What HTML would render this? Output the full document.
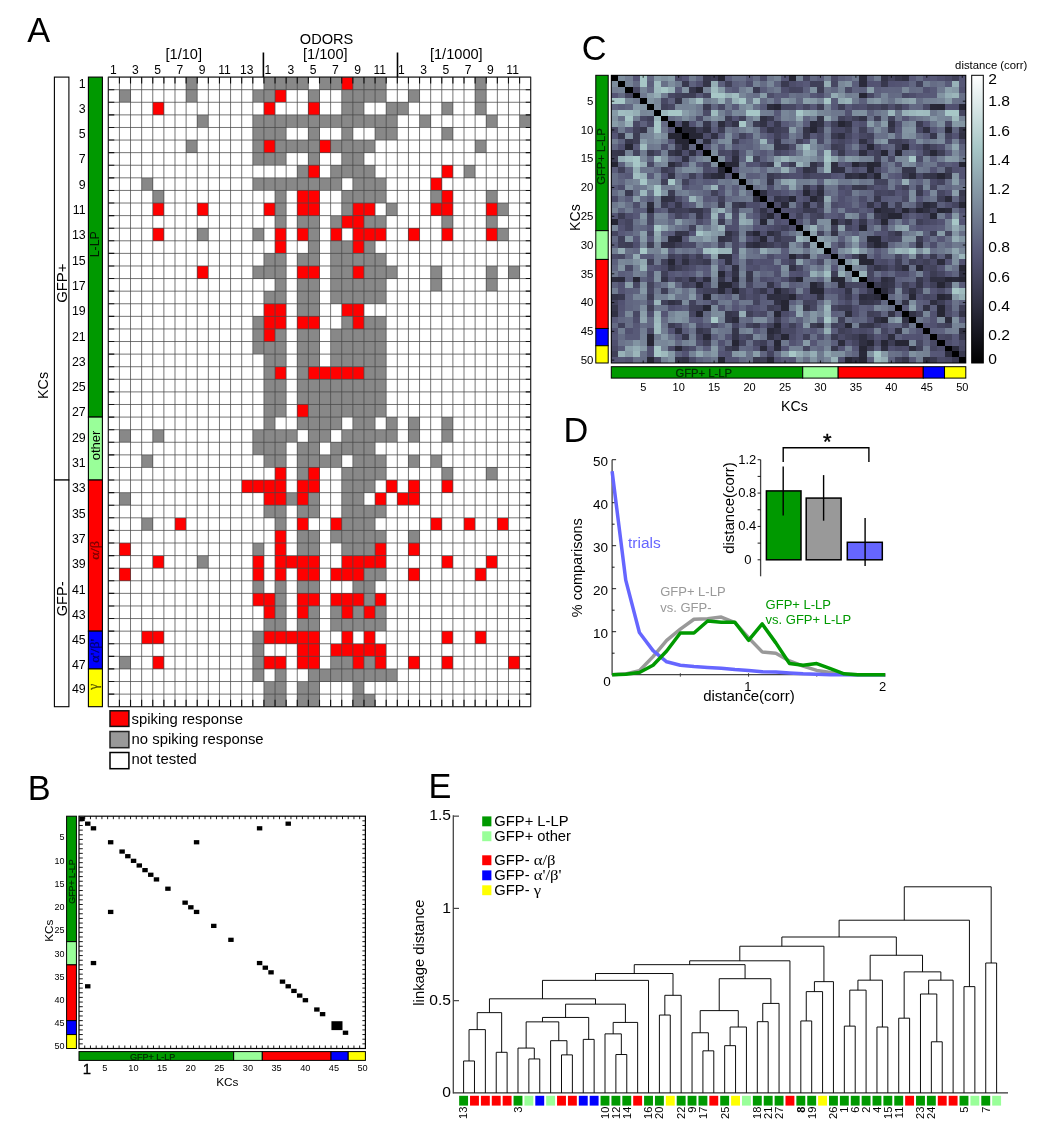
<!DOCTYPE html>
<html lang="en"><head><meta charset="utf-8"><title>KC odor responses figure</title>
<style>html,body{margin:0;padding:0;background:#fff}body{width:1050px;height:1144px;overflow:hidden;font-family:"Liberation Sans",Arial,sans-serif}</style></head>
<body>
<svg width="1050" height="1144" viewBox="0 0 1050 1144" font-family="Liberation Sans, Arial, sans-serif" style="display:block">
<g id="panelA">
<g shape-rendering="crispEdges">
<rect x="186.11" y="77.10" width="11.12" height="12.59" fill="#888888"/>
<rect x="263.92" y="77.10" width="44.46" height="12.59" fill="#888888"/>
<rect x="319.50" y="77.10" width="22.23" height="12.59" fill="#888888"/>
<rect x="341.73" y="77.10" width="11.12" height="12.59" fill="#ff0000"/>
<rect x="352.85" y="77.10" width="33.35" height="12.59" fill="#888888"/>
<rect x="475.12" y="77.10" width="11.12" height="12.59" fill="#888888"/>
<rect x="119.42" y="89.69" width="11.12" height="12.59" fill="#888888"/>
<rect x="186.11" y="89.69" width="11.12" height="12.59" fill="#888888"/>
<rect x="252.81" y="89.69" width="22.23" height="12.59" fill="#888888"/>
<rect x="275.04" y="89.69" width="11.12" height="12.59" fill="#ff0000"/>
<rect x="308.38" y="89.69" width="11.12" height="12.59" fill="#888888"/>
<rect x="341.73" y="89.69" width="44.46" height="12.59" fill="#888888"/>
<rect x="408.43" y="89.69" width="11.12" height="12.59" fill="#888888"/>
<rect x="475.12" y="89.69" width="11.12" height="12.59" fill="#888888"/>
<rect x="152.76" y="102.28" width="11.12" height="12.59" fill="#ff0000"/>
<rect x="263.92" y="102.28" width="11.12" height="12.59" fill="#ff0000"/>
<rect x="308.38" y="102.28" width="11.12" height="12.59" fill="#ff0000"/>
<rect x="341.73" y="102.28" width="22.23" height="12.59" fill="#888888"/>
<rect x="386.19" y="102.28" width="22.23" height="12.59" fill="#888888"/>
<rect x="441.77" y="102.28" width="11.12" height="12.59" fill="#888888"/>
<rect x="475.12" y="102.28" width="11.12" height="12.59" fill="#888888"/>
<rect x="197.23" y="114.88" width="11.12" height="12.59" fill="#888888"/>
<rect x="252.81" y="114.88" width="144.51" height="12.59" fill="#888888"/>
<rect x="419.54" y="114.88" width="11.12" height="12.59" fill="#888888"/>
<rect x="486.24" y="114.88" width="11.12" height="12.59" fill="#888888"/>
<rect x="519.58" y="114.88" width="11.12" height="12.59" fill="#888888"/>
<rect x="252.81" y="127.47" width="33.35" height="12.59" fill="#888888"/>
<rect x="308.38" y="127.47" width="11.12" height="12.59" fill="#888888"/>
<rect x="341.73" y="127.47" width="11.12" height="12.59" fill="#888888"/>
<rect x="375.08" y="127.47" width="22.23" height="12.59" fill="#888888"/>
<rect x="441.77" y="127.47" width="11.12" height="12.59" fill="#888888"/>
<rect x="186.11" y="140.06" width="11.12" height="12.59" fill="#888888"/>
<rect x="252.81" y="140.06" width="11.12" height="12.59" fill="#888888"/>
<rect x="263.92" y="140.06" width="11.12" height="12.59" fill="#ff0000"/>
<rect x="275.04" y="140.06" width="44.46" height="12.59" fill="#888888"/>
<rect x="319.50" y="140.06" width="11.12" height="12.59" fill="#ff0000"/>
<rect x="330.62" y="140.06" width="44.46" height="12.59" fill="#888888"/>
<rect x="475.12" y="140.06" width="11.12" height="12.59" fill="#888888"/>
<rect x="252.81" y="152.65" width="33.35" height="12.59" fill="#888888"/>
<rect x="308.38" y="152.65" width="11.12" height="12.59" fill="#888888"/>
<rect x="341.73" y="152.65" width="22.23" height="12.59" fill="#888888"/>
<rect x="297.27" y="165.24" width="11.12" height="12.59" fill="#888888"/>
<rect x="308.38" y="165.24" width="11.12" height="12.59" fill="#ff0000"/>
<rect x="330.62" y="165.24" width="44.46" height="12.59" fill="#888888"/>
<rect x="441.77" y="165.24" width="11.12" height="12.59" fill="#ff0000"/>
<rect x="464.01" y="165.24" width="11.12" height="12.59" fill="#888888"/>
<rect x="141.65" y="177.84" width="11.12" height="12.59" fill="#888888"/>
<rect x="252.81" y="177.84" width="88.93" height="12.59" fill="#888888"/>
<rect x="352.85" y="177.84" width="33.35" height="12.59" fill="#888888"/>
<rect x="430.66" y="177.84" width="11.12" height="12.59" fill="#ff0000"/>
<rect x="152.76" y="190.43" width="11.12" height="12.59" fill="#888888"/>
<rect x="275.04" y="190.43" width="11.12" height="12.59" fill="#888888"/>
<rect x="297.27" y="190.43" width="22.23" height="12.59" fill="#ff0000"/>
<rect x="341.73" y="190.43" width="44.46" height="12.59" fill="#888888"/>
<rect x="430.66" y="190.43" width="11.12" height="12.59" fill="#888888"/>
<rect x="441.77" y="190.43" width="11.12" height="12.59" fill="#ff0000"/>
<rect x="486.24" y="190.43" width="11.12" height="12.59" fill="#888888"/>
<rect x="152.76" y="203.02" width="11.12" height="12.59" fill="#ff0000"/>
<rect x="197.23" y="203.02" width="11.12" height="12.59" fill="#ff0000"/>
<rect x="263.92" y="203.02" width="11.12" height="12.59" fill="#ff0000"/>
<rect x="275.04" y="203.02" width="11.12" height="12.59" fill="#888888"/>
<rect x="297.27" y="203.02" width="22.23" height="12.59" fill="#ff0000"/>
<rect x="341.73" y="203.02" width="11.12" height="12.59" fill="#888888"/>
<rect x="352.85" y="203.02" width="22.23" height="12.59" fill="#ff0000"/>
<rect x="386.19" y="203.02" width="11.12" height="12.59" fill="#888888"/>
<rect x="430.66" y="203.02" width="22.23" height="12.59" fill="#ff0000"/>
<rect x="486.24" y="203.02" width="11.12" height="12.59" fill="#ff0000"/>
<rect x="497.35" y="203.02" width="11.12" height="12.59" fill="#888888"/>
<rect x="275.04" y="215.61" width="11.12" height="12.59" fill="#888888"/>
<rect x="297.27" y="215.61" width="22.23" height="12.59" fill="#888888"/>
<rect x="330.62" y="215.61" width="11.12" height="12.59" fill="#888888"/>
<rect x="341.73" y="215.61" width="22.23" height="12.59" fill="#ff0000"/>
<rect x="363.96" y="215.61" width="22.23" height="12.59" fill="#888888"/>
<rect x="441.77" y="215.61" width="11.12" height="12.59" fill="#888888"/>
<rect x="486.24" y="215.61" width="11.12" height="12.59" fill="#888888"/>
<rect x="152.76" y="228.20" width="11.12" height="12.59" fill="#ff0000"/>
<rect x="197.23" y="228.20" width="11.12" height="12.59" fill="#888888"/>
<rect x="252.81" y="228.20" width="11.12" height="12.59" fill="#888888"/>
<rect x="275.04" y="228.20" width="11.12" height="12.59" fill="#ff0000"/>
<rect x="297.27" y="228.20" width="11.12" height="12.59" fill="#ff0000"/>
<rect x="308.38" y="228.20" width="11.12" height="12.59" fill="#888888"/>
<rect x="330.62" y="228.20" width="11.12" height="12.59" fill="#ff0000"/>
<rect x="352.85" y="228.20" width="33.35" height="12.59" fill="#ff0000"/>
<rect x="408.43" y="228.20" width="11.12" height="12.59" fill="#ff0000"/>
<rect x="441.77" y="228.20" width="11.12" height="12.59" fill="#ff0000"/>
<rect x="486.24" y="228.20" width="11.12" height="12.59" fill="#ff0000"/>
<rect x="497.35" y="228.20" width="11.12" height="12.59" fill="#888888"/>
<rect x="275.04" y="240.80" width="11.12" height="12.59" fill="#ff0000"/>
<rect x="308.38" y="240.80" width="11.12" height="12.59" fill="#888888"/>
<rect x="330.62" y="240.80" width="22.23" height="12.59" fill="#888888"/>
<rect x="352.85" y="240.80" width="11.12" height="12.59" fill="#ff0000"/>
<rect x="363.96" y="240.80" width="11.12" height="12.59" fill="#888888"/>
<rect x="263.92" y="253.39" width="22.23" height="12.59" fill="#888888"/>
<rect x="297.27" y="253.39" width="22.23" height="12.59" fill="#888888"/>
<rect x="330.62" y="253.39" width="55.58" height="12.59" fill="#888888"/>
<rect x="197.23" y="265.98" width="11.12" height="12.59" fill="#ff0000"/>
<rect x="252.81" y="265.98" width="33.35" height="12.59" fill="#888888"/>
<rect x="297.27" y="265.98" width="22.23" height="12.59" fill="#ff0000"/>
<rect x="330.62" y="265.98" width="22.23" height="12.59" fill="#888888"/>
<rect x="352.85" y="265.98" width="11.12" height="12.59" fill="#ff0000"/>
<rect x="363.96" y="265.98" width="33.35" height="12.59" fill="#888888"/>
<rect x="430.66" y="265.98" width="11.12" height="12.59" fill="#888888"/>
<rect x="486.24" y="265.98" width="11.12" height="12.59" fill="#888888"/>
<rect x="508.47" y="265.98" width="11.12" height="12.59" fill="#888888"/>
<rect x="275.04" y="278.57" width="11.12" height="12.59" fill="#888888"/>
<rect x="297.27" y="278.57" width="22.23" height="12.59" fill="#888888"/>
<rect x="330.62" y="278.57" width="55.58" height="12.59" fill="#888888"/>
<rect x="430.66" y="278.57" width="11.12" height="12.59" fill="#888888"/>
<rect x="486.24" y="278.57" width="11.12" height="12.59" fill="#888888"/>
<rect x="263.92" y="291.16" width="22.23" height="12.59" fill="#888888"/>
<rect x="297.27" y="291.16" width="22.23" height="12.59" fill="#888888"/>
<rect x="330.62" y="291.16" width="55.58" height="12.59" fill="#888888"/>
<rect x="263.92" y="303.76" width="22.23" height="12.59" fill="#ff0000"/>
<rect x="297.27" y="303.76" width="22.23" height="12.59" fill="#888888"/>
<rect x="341.73" y="303.76" width="22.23" height="12.59" fill="#ff0000"/>
<rect x="252.81" y="316.35" width="11.12" height="12.59" fill="#888888"/>
<rect x="263.92" y="316.35" width="22.23" height="12.59" fill="#ff0000"/>
<rect x="297.27" y="316.35" width="22.23" height="12.59" fill="#ff0000"/>
<rect x="341.73" y="316.35" width="11.12" height="12.59" fill="#888888"/>
<rect x="352.85" y="316.35" width="11.12" height="12.59" fill="#ff0000"/>
<rect x="363.96" y="316.35" width="22.23" height="12.59" fill="#888888"/>
<rect x="252.81" y="328.94" width="11.12" height="12.59" fill="#888888"/>
<rect x="263.92" y="328.94" width="11.12" height="12.59" fill="#ff0000"/>
<rect x="275.04" y="328.94" width="11.12" height="12.59" fill="#888888"/>
<rect x="297.27" y="328.94" width="22.23" height="12.59" fill="#888888"/>
<rect x="330.62" y="328.94" width="55.58" height="12.59" fill="#888888"/>
<rect x="252.81" y="341.53" width="33.35" height="12.59" fill="#888888"/>
<rect x="297.27" y="341.53" width="22.23" height="12.59" fill="#888888"/>
<rect x="330.62" y="341.53" width="55.58" height="12.59" fill="#888888"/>
<rect x="263.92" y="354.12" width="22.23" height="12.59" fill="#888888"/>
<rect x="297.27" y="354.12" width="22.23" height="12.59" fill="#888888"/>
<rect x="330.62" y="354.12" width="55.58" height="12.59" fill="#888888"/>
<rect x="263.92" y="366.72" width="11.12" height="12.59" fill="#888888"/>
<rect x="275.04" y="366.72" width="11.12" height="12.59" fill="#ff0000"/>
<rect x="297.27" y="366.72" width="11.12" height="12.59" fill="#888888"/>
<rect x="308.38" y="366.72" width="11.12" height="12.59" fill="#ff0000"/>
<rect x="319.50" y="366.72" width="44.46" height="12.59" fill="#ff0000"/>
<rect x="363.96" y="366.72" width="22.23" height="12.59" fill="#888888"/>
<rect x="263.92" y="379.31" width="22.23" height="12.59" fill="#888888"/>
<rect x="297.27" y="379.31" width="88.93" height="12.59" fill="#888888"/>
<rect x="263.92" y="391.90" width="22.23" height="12.59" fill="#888888"/>
<rect x="297.27" y="391.90" width="88.93" height="12.59" fill="#888888"/>
<rect x="263.92" y="404.49" width="22.23" height="12.59" fill="#888888"/>
<rect x="297.27" y="404.49" width="11.12" height="12.59" fill="#ff0000"/>
<rect x="308.38" y="404.49" width="77.81" height="12.59" fill="#888888"/>
<rect x="263.92" y="417.08" width="11.12" height="12.59" fill="#888888"/>
<rect x="297.27" y="417.08" width="44.46" height="12.59" fill="#888888"/>
<rect x="352.85" y="417.08" width="22.23" height="12.59" fill="#888888"/>
<rect x="386.19" y="417.08" width="11.12" height="12.59" fill="#888888"/>
<rect x="408.43" y="417.08" width="11.12" height="12.59" fill="#888888"/>
<rect x="441.77" y="417.08" width="11.12" height="12.59" fill="#888888"/>
<rect x="119.42" y="429.68" width="11.12" height="12.59" fill="#888888"/>
<rect x="152.76" y="429.68" width="11.12" height="12.59" fill="#888888"/>
<rect x="252.81" y="429.68" width="44.46" height="12.59" fill="#888888"/>
<rect x="308.38" y="429.68" width="22.23" height="12.59" fill="#888888"/>
<rect x="341.73" y="429.68" width="55.58" height="12.59" fill="#888888"/>
<rect x="408.43" y="429.68" width="11.12" height="12.59" fill="#888888"/>
<rect x="441.77" y="429.68" width="11.12" height="12.59" fill="#888888"/>
<rect x="252.81" y="442.27" width="33.35" height="12.59" fill="#888888"/>
<rect x="297.27" y="442.27" width="22.23" height="12.59" fill="#888888"/>
<rect x="330.62" y="442.27" width="44.46" height="12.59" fill="#888888"/>
<rect x="141.65" y="454.86" width="11.12" height="12.59" fill="#888888"/>
<rect x="263.92" y="454.86" width="22.23" height="12.59" fill="#888888"/>
<rect x="297.27" y="454.86" width="44.46" height="12.59" fill="#888888"/>
<rect x="352.85" y="454.86" width="33.35" height="12.59" fill="#888888"/>
<rect x="408.43" y="454.86" width="11.12" height="12.59" fill="#888888"/>
<rect x="430.66" y="454.86" width="11.12" height="12.59" fill="#888888"/>
<rect x="275.04" y="467.45" width="11.12" height="12.59" fill="#ff0000"/>
<rect x="297.27" y="467.45" width="11.12" height="12.59" fill="#888888"/>
<rect x="308.38" y="467.45" width="11.12" height="12.59" fill="#ff0000"/>
<rect x="341.73" y="467.45" width="44.46" height="12.59" fill="#888888"/>
<rect x="441.77" y="467.45" width="11.12" height="12.59" fill="#888888"/>
<rect x="486.24" y="467.45" width="11.12" height="12.59" fill="#888888"/>
<rect x="241.69" y="480.04" width="44.46" height="12.59" fill="#ff0000"/>
<rect x="297.27" y="480.04" width="22.23" height="12.59" fill="#ff0000"/>
<rect x="341.73" y="480.04" width="33.35" height="12.59" fill="#888888"/>
<rect x="386.19" y="480.04" width="11.12" height="12.59" fill="#ff0000"/>
<rect x="408.43" y="480.04" width="11.12" height="12.59" fill="#ff0000"/>
<rect x="441.77" y="480.04" width="11.12" height="12.59" fill="#ff0000"/>
<rect x="119.42" y="492.64" width="11.12" height="12.59" fill="#888888"/>
<rect x="263.92" y="492.64" width="22.23" height="12.59" fill="#ff0000"/>
<rect x="286.15" y="492.64" width="11.12" height="12.59" fill="#888888"/>
<rect x="297.27" y="492.64" width="11.12" height="12.59" fill="#ff0000"/>
<rect x="308.38" y="492.64" width="11.12" height="12.59" fill="#888888"/>
<rect x="341.73" y="492.64" width="22.23" height="12.59" fill="#888888"/>
<rect x="375.08" y="492.64" width="11.12" height="12.59" fill="#ff0000"/>
<rect x="397.31" y="492.64" width="22.23" height="12.59" fill="#ff0000"/>
<rect x="263.92" y="505.23" width="22.23" height="12.59" fill="#888888"/>
<rect x="297.27" y="505.23" width="22.23" height="12.59" fill="#888888"/>
<rect x="341.73" y="505.23" width="44.46" height="12.59" fill="#888888"/>
<rect x="141.65" y="517.82" width="11.12" height="12.59" fill="#888888"/>
<rect x="174.99" y="517.82" width="11.12" height="12.59" fill="#ff0000"/>
<rect x="275.04" y="517.82" width="11.12" height="12.59" fill="#888888"/>
<rect x="297.27" y="517.82" width="11.12" height="12.59" fill="#ff0000"/>
<rect x="330.62" y="517.82" width="11.12" height="12.59" fill="#ff0000"/>
<rect x="341.73" y="517.82" width="33.35" height="12.59" fill="#888888"/>
<rect x="430.66" y="517.82" width="11.12" height="12.59" fill="#ff0000"/>
<rect x="464.01" y="517.82" width="11.12" height="12.59" fill="#ff0000"/>
<rect x="497.35" y="517.82" width="11.12" height="12.59" fill="#ff0000"/>
<rect x="275.04" y="530.41" width="11.12" height="12.59" fill="#ff0000"/>
<rect x="297.27" y="530.41" width="22.23" height="12.59" fill="#888888"/>
<rect x="330.62" y="530.41" width="55.58" height="12.59" fill="#888888"/>
<rect x="408.43" y="530.41" width="11.12" height="12.59" fill="#888888"/>
<rect x="119.42" y="543.00" width="11.12" height="12.59" fill="#ff0000"/>
<rect x="252.81" y="543.00" width="11.12" height="12.59" fill="#888888"/>
<rect x="275.04" y="543.00" width="11.12" height="12.59" fill="#ff0000"/>
<rect x="297.27" y="543.00" width="22.23" height="12.59" fill="#888888"/>
<rect x="341.73" y="543.00" width="33.35" height="12.59" fill="#888888"/>
<rect x="375.08" y="543.00" width="11.12" height="12.59" fill="#ff0000"/>
<rect x="408.43" y="543.00" width="11.12" height="12.59" fill="#ff0000"/>
<rect x="152.76" y="555.60" width="11.12" height="12.59" fill="#ff0000"/>
<rect x="197.23" y="555.60" width="11.12" height="12.59" fill="#888888"/>
<rect x="252.81" y="555.60" width="11.12" height="12.59" fill="#ff0000"/>
<rect x="275.04" y="555.60" width="44.46" height="12.59" fill="#ff0000"/>
<rect x="341.73" y="555.60" width="44.46" height="12.59" fill="#ff0000"/>
<rect x="441.77" y="555.60" width="11.12" height="12.59" fill="#ff0000"/>
<rect x="486.24" y="555.60" width="11.12" height="12.59" fill="#ff0000"/>
<rect x="119.42" y="568.19" width="11.12" height="12.59" fill="#ff0000"/>
<rect x="252.81" y="568.19" width="11.12" height="12.59" fill="#ff0000"/>
<rect x="275.04" y="568.19" width="11.12" height="12.59" fill="#ff0000"/>
<rect x="297.27" y="568.19" width="22.23" height="12.59" fill="#ff0000"/>
<rect x="330.62" y="568.19" width="33.35" height="12.59" fill="#ff0000"/>
<rect x="363.96" y="568.19" width="22.23" height="12.59" fill="#888888"/>
<rect x="408.43" y="568.19" width="11.12" height="12.59" fill="#ff0000"/>
<rect x="475.12" y="568.19" width="11.12" height="12.59" fill="#ff0000"/>
<rect x="252.81" y="580.78" width="11.12" height="12.59" fill="#888888"/>
<rect x="275.04" y="580.78" width="11.12" height="12.59" fill="#888888"/>
<rect x="297.27" y="580.78" width="22.23" height="12.59" fill="#888888"/>
<rect x="352.85" y="580.78" width="22.23" height="12.59" fill="#888888"/>
<rect x="252.81" y="593.37" width="22.23" height="12.59" fill="#ff0000"/>
<rect x="275.04" y="593.37" width="11.12" height="12.59" fill="#888888"/>
<rect x="297.27" y="593.37" width="22.23" height="12.59" fill="#ff0000"/>
<rect x="330.62" y="593.37" width="33.35" height="12.59" fill="#ff0000"/>
<rect x="363.96" y="593.37" width="11.12" height="12.59" fill="#888888"/>
<rect x="375.08" y="593.37" width="11.12" height="12.59" fill="#ff0000"/>
<rect x="263.92" y="605.96" width="11.12" height="12.59" fill="#ff0000"/>
<rect x="275.04" y="605.96" width="11.12" height="12.59" fill="#888888"/>
<rect x="297.27" y="605.96" width="11.12" height="12.59" fill="#ff0000"/>
<rect x="308.38" y="605.96" width="11.12" height="12.59" fill="#888888"/>
<rect x="330.62" y="605.96" width="11.12" height="12.59" fill="#888888"/>
<rect x="341.73" y="605.96" width="11.12" height="12.59" fill="#ff0000"/>
<rect x="352.85" y="605.96" width="11.12" height="12.59" fill="#888888"/>
<rect x="363.96" y="605.96" width="11.12" height="12.59" fill="#ff0000"/>
<rect x="375.08" y="605.96" width="11.12" height="12.59" fill="#888888"/>
<rect x="263.92" y="618.56" width="22.23" height="12.59" fill="#888888"/>
<rect x="297.27" y="618.56" width="22.23" height="12.59" fill="#888888"/>
<rect x="330.62" y="618.56" width="55.58" height="12.59" fill="#888888"/>
<rect x="141.65" y="631.15" width="22.23" height="12.59" fill="#ff0000"/>
<rect x="252.81" y="631.15" width="11.12" height="12.59" fill="#888888"/>
<rect x="263.92" y="631.15" width="55.58" height="12.59" fill="#ff0000"/>
<rect x="341.73" y="631.15" width="11.12" height="12.59" fill="#ff0000"/>
<rect x="363.96" y="631.15" width="11.12" height="12.59" fill="#ff0000"/>
<rect x="441.77" y="631.15" width="11.12" height="12.59" fill="#ff0000"/>
<rect x="475.12" y="631.15" width="11.12" height="12.59" fill="#ff0000"/>
<rect x="252.81" y="643.74" width="11.12" height="12.59" fill="#888888"/>
<rect x="297.27" y="643.74" width="22.23" height="12.59" fill="#ff0000"/>
<rect x="330.62" y="643.74" width="55.58" height="12.59" fill="#ff0000"/>
<rect x="119.42" y="656.33" width="11.12" height="12.59" fill="#888888"/>
<rect x="152.76" y="656.33" width="11.12" height="12.59" fill="#ff0000"/>
<rect x="252.81" y="656.33" width="11.12" height="12.59" fill="#888888"/>
<rect x="263.92" y="656.33" width="22.23" height="12.59" fill="#ff0000"/>
<rect x="297.27" y="656.33" width="22.23" height="12.59" fill="#ff0000"/>
<rect x="330.62" y="656.33" width="22.23" height="12.59" fill="#888888"/>
<rect x="352.85" y="656.33" width="11.12" height="12.59" fill="#ff0000"/>
<rect x="363.96" y="656.33" width="11.12" height="12.59" fill="#888888"/>
<rect x="375.08" y="656.33" width="11.12" height="12.59" fill="#ff0000"/>
<rect x="408.43" y="656.33" width="11.12" height="12.59" fill="#ff0000"/>
<rect x="441.77" y="656.33" width="11.12" height="12.59" fill="#ff0000"/>
<rect x="508.47" y="656.33" width="11.12" height="12.59" fill="#ff0000"/>
<rect x="252.81" y="668.92" width="11.12" height="12.59" fill="#888888"/>
<rect x="275.04" y="668.92" width="11.12" height="12.59" fill="#888888"/>
<rect x="308.38" y="668.92" width="88.93" height="12.59" fill="#888888"/>
<rect x="263.92" y="681.52" width="22.23" height="12.59" fill="#888888"/>
<rect x="297.27" y="681.52" width="22.23" height="12.59" fill="#888888"/>
<rect x="352.85" y="681.52" width="11.12" height="12.59" fill="#888888"/>
<rect x="263.92" y="694.11" width="22.23" height="12.59" fill="#888888"/>
<rect x="297.27" y="694.11" width="22.23" height="12.59" fill="#888888"/>
<rect x="352.85" y="694.11" width="22.23" height="12.59" fill="#888888"/>
</g>
<path d="M108.30 77.10V706.70M119.42 77.10V706.70M130.53 77.10V706.70M141.65 77.10V706.70M152.76 77.10V706.70M163.88 77.10V706.70M174.99 77.10V706.70M186.11 77.10V706.70M197.23 77.10V706.70M208.34 77.10V706.70M219.46 77.10V706.70M230.57 77.10V706.70M241.69 77.10V706.70M252.81 77.10V706.70M263.92 77.10V706.70M275.04 77.10V706.70M286.15 77.10V706.70M297.27 77.10V706.70M308.38 77.10V706.70M319.50 77.10V706.70M330.62 77.10V706.70M341.73 77.10V706.70M352.85 77.10V706.70M363.96 77.10V706.70M375.08 77.10V706.70M386.19 77.10V706.70M397.31 77.10V706.70M408.43 77.10V706.70M419.54 77.10V706.70M430.66 77.10V706.70M441.77 77.10V706.70M452.89 77.10V706.70M464.01 77.10V706.70M475.12 77.10V706.70M486.24 77.10V706.70M497.35 77.10V706.70M508.47 77.10V706.70M519.58 77.10V706.70M530.70 77.10V706.70M108.30 77.10H530.70M108.30 89.69H530.70M108.30 102.28H530.70M108.30 114.88H530.70M108.30 127.47H530.70M108.30 140.06H530.70M108.30 152.65H530.70M108.30 165.24H530.70M108.30 177.84H530.70M108.30 190.43H530.70M108.30 203.02H530.70M108.30 215.61H530.70M108.30 228.20H530.70M108.30 240.80H530.70M108.30 253.39H530.70M108.30 265.98H530.70M108.30 278.57H530.70M108.30 291.16H530.70M108.30 303.76H530.70M108.30 316.35H530.70M108.30 328.94H530.70M108.30 341.53H530.70M108.30 354.12H530.70M108.30 366.72H530.70M108.30 379.31H530.70M108.30 391.90H530.70M108.30 404.49H530.70M108.30 417.08H530.70M108.30 429.68H530.70M108.30 442.27H530.70M108.30 454.86H530.70M108.30 467.45H530.70M108.30 480.04H530.70M108.30 492.64H530.70M108.30 505.23H530.70M108.30 517.82H530.70M108.30 530.41H530.70M108.30 543.00H530.70M108.30 555.60H530.70M108.30 568.19H530.70M108.30 580.78H530.70M108.30 593.37H530.70M108.30 605.96H530.70M108.30 618.56H530.70M108.30 631.15H530.70M108.30 643.74H530.70M108.30 656.33H530.70M108.30 668.92H530.70M108.30 681.52H530.70M108.30 694.11H530.70M108.30 706.70H530.70" stroke="#484848" stroke-width="0.75" fill="none"/>
<rect x="108.30" y="77.10" width="422.40" height="629.60" fill="none" stroke="#222" stroke-width="1.0"/>
<path d="M108.30 89.69h6M530.70 89.69h-5M108.30 102.28h6M530.70 102.28h-5M108.30 114.88h6M530.70 114.88h-5M108.30 127.47h6M530.70 127.47h-5M108.30 140.06h6M530.70 140.06h-5M108.30 152.65h6M530.70 152.65h-5M108.30 165.24h6M530.70 165.24h-5M108.30 177.84h6M530.70 177.84h-5M108.30 190.43h6M530.70 190.43h-5M108.30 203.02h6M530.70 203.02h-5M108.30 215.61h6M530.70 215.61h-5M108.30 228.20h6M530.70 228.20h-5M108.30 240.80h6M530.70 240.80h-5M108.30 253.39h6M530.70 253.39h-5M108.30 265.98h6M530.70 265.98h-5M108.30 278.57h6M530.70 278.57h-5M108.30 291.16h6M530.70 291.16h-5M108.30 303.76h6M530.70 303.76h-5M108.30 316.35h6M530.70 316.35h-5M108.30 328.94h6M530.70 328.94h-5M108.30 341.53h6M530.70 341.53h-5M108.30 354.12h6M530.70 354.12h-5M108.30 366.72h6M530.70 366.72h-5M108.30 379.31h6M530.70 379.31h-5M108.30 391.90h6M530.70 391.90h-5M108.30 404.49h6M530.70 404.49h-5M108.30 417.08h6M530.70 417.08h-5M108.30 429.68h6M530.70 429.68h-5M108.30 442.27h6M530.70 442.27h-5M108.30 454.86h6M530.70 454.86h-5M108.30 467.45h6M530.70 467.45h-5M108.30 480.04h6M530.70 480.04h-5M108.30 492.64h6M530.70 492.64h-5M108.30 505.23h6M530.70 505.23h-5M108.30 517.82h6M530.70 517.82h-5M108.30 530.41h6M530.70 530.41h-5M108.30 543.00h6M530.70 543.00h-5M108.30 555.60h6M530.70 555.60h-5M108.30 568.19h6M530.70 568.19h-5M108.30 580.78h6M530.70 580.78h-5M108.30 593.37h6M530.70 593.37h-5M108.30 605.96h6M530.70 605.96h-5M108.30 618.56h6M530.70 618.56h-5M108.30 631.15h6M530.70 631.15h-5M108.30 643.74h6M530.70 643.74h-5M108.30 656.33h6M530.70 656.33h-5M108.30 668.92h6M530.70 668.92h-5M108.30 681.52h6M530.70 681.52h-5M108.30 694.11h6M530.70 694.11h-5M119.42 77.10v6.5M119.42 706.70v-7M130.53 77.10v6.5M130.53 706.70v-7M141.65 77.10v6.5M141.65 706.70v-7M152.76 77.10v6.5M152.76 706.70v-7M163.88 77.10v6.5M163.88 706.70v-7M174.99 77.10v6.5M174.99 706.70v-7M186.11 77.10v6.5M186.11 706.70v-7M197.23 77.10v6.5M197.23 706.70v-7M208.34 77.10v6.5M208.34 706.70v-7M219.46 77.10v6.5M219.46 706.70v-7M230.57 77.10v6.5M230.57 706.70v-7M241.69 77.10v6.5M241.69 706.70v-7M252.81 77.10v6.5M252.81 706.70v-7M263.92 77.10v6.5M263.92 706.70v-7M275.04 77.10v6.5M275.04 706.70v-7M286.15 77.10v6.5M286.15 706.70v-7M297.27 77.10v6.5M297.27 706.70v-7M308.38 77.10v6.5M308.38 706.70v-7M319.50 77.10v6.5M319.50 706.70v-7M330.62 77.10v6.5M330.62 706.70v-7M341.73 77.10v6.5M341.73 706.70v-7M352.85 77.10v6.5M352.85 706.70v-7M363.96 77.10v6.5M363.96 706.70v-7M375.08 77.10v6.5M375.08 706.70v-7M386.19 77.10v6.5M386.19 706.70v-7M397.31 77.10v6.5M397.31 706.70v-7M408.43 77.10v6.5M408.43 706.70v-7M419.54 77.10v6.5M419.54 706.70v-7M430.66 77.10v6.5M430.66 706.70v-7M441.77 77.10v6.5M441.77 706.70v-7M452.89 77.10v6.5M452.89 706.70v-7M464.01 77.10v6.5M464.01 706.70v-7M475.12 77.10v6.5M475.12 706.70v-7M486.24 77.10v6.5M486.24 706.70v-7M497.35 77.10v6.5M497.35 706.70v-7M508.47 77.10v6.5M508.47 706.70v-7M519.58 77.10v6.5M519.58 706.70v-7" stroke="#111" stroke-width="1.1" fill="none"/>
<line x1="263.40" y1="52.50" x2="263.40" y2="77.00" stroke="#000" stroke-width="1.6"/>
<line x1="397.50" y1="52.50" x2="397.50" y2="77.00" stroke="#000" stroke-width="1.6"/>
<text x="326.60" y="43.90" font-size="14.6" text-anchor="middle" fill="#000">ODORS</text>
<text x="183.80" y="58.60" font-size="14.6" text-anchor="middle" fill="#000">[1/10]</text>
<text x="325.30" y="58.60" font-size="14.6" text-anchor="middle" fill="#000">[1/100]</text>
<text x="456.30" y="58.60" font-size="14.6" text-anchor="middle" fill="#000">[1/1000]</text>
<text x="113.26" y="74.20" font-size="12.1" text-anchor="middle" fill="#000">1</text>
<text x="135.49" y="74.20" font-size="12.1" text-anchor="middle" fill="#000">3</text>
<text x="157.72" y="74.20" font-size="12.1" text-anchor="middle" fill="#000">5</text>
<text x="179.95" y="74.20" font-size="12.1" text-anchor="middle" fill="#000">7</text>
<text x="202.18" y="74.20" font-size="12.1" text-anchor="middle" fill="#000">9</text>
<text x="224.42" y="74.20" font-size="12.1" text-anchor="middle" fill="#000">11</text>
<text x="246.65" y="74.20" font-size="12.1" text-anchor="middle" fill="#000">13</text>
<text x="267.88" y="74.20" font-size="12.1" text-anchor="middle" fill="#000">1</text>
<text x="290.91" y="74.20" font-size="12.1" text-anchor="middle" fill="#000">3</text>
<text x="313.14" y="74.20" font-size="12.1" text-anchor="middle" fill="#000">5</text>
<text x="335.37" y="74.20" font-size="12.1" text-anchor="middle" fill="#000">7</text>
<text x="357.61" y="74.20" font-size="12.1" text-anchor="middle" fill="#000">9</text>
<text x="379.84" y="74.20" font-size="12.1" text-anchor="middle" fill="#000">11</text>
<text x="401.27" y="74.20" font-size="12.1" text-anchor="middle" fill="#000">1</text>
<text x="423.70" y="74.20" font-size="12.1" text-anchor="middle" fill="#000">3</text>
<text x="445.93" y="74.20" font-size="12.1" text-anchor="middle" fill="#000">5</text>
<text x="468.16" y="74.20" font-size="12.1" text-anchor="middle" fill="#000">7</text>
<text x="490.39" y="74.20" font-size="12.1" text-anchor="middle" fill="#000">9</text>
<text x="512.63" y="74.20" font-size="12.1" text-anchor="middle" fill="#000">11</text>
<text x="85.70" y="87.50" font-size="12.4" text-anchor="end" fill="#000">1</text>
<text x="85.70" y="112.80" font-size="12.4" text-anchor="end" fill="#000">3</text>
<text x="85.70" y="138.11" font-size="12.4" text-anchor="end" fill="#000">5</text>
<text x="85.70" y="163.41" font-size="12.4" text-anchor="end" fill="#000">7</text>
<text x="85.70" y="188.72" font-size="12.4" text-anchor="end" fill="#000">9</text>
<text x="85.70" y="214.02" font-size="12.4" text-anchor="end" fill="#000">11</text>
<text x="85.70" y="239.32" font-size="12.4" text-anchor="end" fill="#000">13</text>
<text x="85.70" y="264.63" font-size="12.4" text-anchor="end" fill="#000">15</text>
<text x="85.70" y="289.93" font-size="12.4" text-anchor="end" fill="#000">17</text>
<text x="85.70" y="315.24" font-size="12.4" text-anchor="end" fill="#000">19</text>
<text x="85.70" y="340.54" font-size="12.4" text-anchor="end" fill="#000">21</text>
<text x="85.70" y="365.84" font-size="12.4" text-anchor="end" fill="#000">23</text>
<text x="85.70" y="391.15" font-size="12.4" text-anchor="end" fill="#000">25</text>
<text x="85.70" y="416.45" font-size="12.4" text-anchor="end" fill="#000">27</text>
<text x="85.70" y="441.76" font-size="12.4" text-anchor="end" fill="#000">29</text>
<text x="85.70" y="467.06" font-size="12.4" text-anchor="end" fill="#000">31</text>
<text x="85.70" y="492.36" font-size="12.4" text-anchor="end" fill="#000">33</text>
<text x="85.70" y="517.67" font-size="12.4" text-anchor="end" fill="#000">35</text>
<text x="85.70" y="542.97" font-size="12.4" text-anchor="end" fill="#000">37</text>
<text x="85.70" y="568.28" font-size="12.4" text-anchor="end" fill="#000">39</text>
<text x="85.70" y="593.58" font-size="12.4" text-anchor="end" fill="#000">41</text>
<text x="85.70" y="618.88" font-size="12.4" text-anchor="end" fill="#000">43</text>
<text x="85.70" y="644.19" font-size="12.4" text-anchor="end" fill="#000">45</text>
<text x="85.70" y="669.49" font-size="12.4" text-anchor="end" fill="#000">47</text>
<text x="85.70" y="692.90" font-size="12.4" text-anchor="end" fill="#000">49</text>
<rect x="88.40" y="77.10" width="14.00" height="339.98" fill="#009900" stroke="#000" stroke-width="1.1"/>
<rect x="88.40" y="417.08" width="14.00" height="62.96" fill="#99ff99" stroke="#000" stroke-width="1.1"/>
<rect x="88.40" y="480.04" width="14.00" height="151.10" fill="#ff0000" stroke="#000" stroke-width="1.1"/>
<rect x="88.40" y="631.15" width="14.00" height="37.78" fill="#0000ff" stroke="#000" stroke-width="1.1"/>
<rect x="88.40" y="668.92" width="14.00" height="37.78" fill="#ffff00" stroke="#000" stroke-width="1.1"/>
<rect x="54.40" y="77.10" width="14.50" height="402.94" fill="#fff" stroke="#000" stroke-width="1.1"/>
<rect x="54.40" y="480.04" width="14.50" height="226.66" fill="#fff" stroke="#000" stroke-width="1.1"/>
<text x="66.70" y="283.20" font-size="14.9" text-anchor="middle" fill="#000" transform="rotate(-90 66.70 283.20)">GFP+</text>
<text x="66.70" y="598.90" font-size="14.6" text-anchor="middle" fill="#000" transform="rotate(-90 66.70 598.90)">GFP-</text>
<text x="48.30" y="385.40" font-size="14.3" text-anchor="middle" fill="#000" transform="rotate(-90 48.30 385.40)">KCs</text>
<text x="99.30" y="244.30" font-size="12.3" text-anchor="middle" fill="#001a00" transform="rotate(-90 99.30 244.30)">L-LP</text>
<text x="100.30" y="445.40" font-size="13" text-anchor="middle" fill="#000" transform="rotate(-90 100.30 445.40)">other</text>
<text x="98.60" y="559.80" font-size="13.5" text-anchor="start" fill="#7a0000" transform="rotate(-90 98.60 559.80)" font-family="Liberation Serif, serif" stroke="#7a0000" stroke-width="0.3" textLength="18.8" lengthAdjust="spacingAndGlyphs">α/β</text>
<text x="98.60" y="662.80" font-size="13.5" text-anchor="start" fill="#00006e" transform="rotate(-90 98.60 662.80)" font-family="Liberation Serif, serif" stroke="#00006e" stroke-width="0.3" textLength="23.8" lengthAdjust="spacingAndGlyphs">α'/β'</text>
<text x="98.00" y="689.80" font-size="14" text-anchor="start" fill="#5a5a00" transform="rotate(-90 98.00 689.80)" font-family="Liberation Serif, serif" stroke="#5a5a00" stroke-width="0.3" textLength="6.0" lengthAdjust="spacingAndGlyphs">γ</text>
<rect x="110.00" y="710.80" width="18.90" height="15.60" fill="#ff0000" stroke="#111" stroke-width="1.5"/>
<rect x="110.00" y="731.50" width="18.90" height="16.20" fill="#999999" stroke="#222" stroke-width="1.5"/>
<rect x="110.00" y="752.50" width="18.90" height="16.20" fill="#fff" stroke="#000" stroke-width="1.5"/>
<text x="131.60" y="724.30" font-size="14.85" text-anchor="start" fill="#000">spiking response</text>
<text x="131.60" y="744.20" font-size="14.85" text-anchor="start" fill="#000">no spiking response</text>
<text x="131.60" y="764.20" font-size="14.85" text-anchor="start" fill="#000">not tested</text>
<text x="27.20" y="42.20" font-size="34.3" text-anchor="start" fill="#000">A</text>
</g>
<g id="panelB">
<rect x="79.00" y="816.20" width="286.40" height="232.30" fill="#fff" stroke="#000" stroke-width="1.2"/>
<path d="M84.73 816.20v3M84.73 1048.50v-3M79.00 820.85h3.8M365.40 820.85h-3M90.46 816.20v3M90.46 1048.50v-3M79.00 825.49h3.8M365.40 825.49h-3M96.18 816.20v3M96.18 1048.50v-3M79.00 830.14h3.8M365.40 830.14h-3M101.91 816.20v3M101.91 1048.50v-3M79.00 834.78h3.8M365.40 834.78h-3M107.64 816.20v3M107.64 1048.50v-3M79.00 839.43h3.8M365.40 839.43h-3M113.37 816.20v3M113.37 1048.50v-3M79.00 844.08h3.8M365.40 844.08h-3M119.10 816.20v3M119.10 1048.50v-3M79.00 848.72h3.8M365.40 848.72h-3M124.82 816.20v3M124.82 1048.50v-3M79.00 853.37h3.8M365.40 853.37h-3M130.55 816.20v3M130.55 1048.50v-3M79.00 858.01h3.8M365.40 858.01h-3M136.28 816.20v3M136.28 1048.50v-3M79.00 862.66h3.8M365.40 862.66h-3M142.01 816.20v3M142.01 1048.50v-3M79.00 867.31h3.8M365.40 867.31h-3M147.74 816.20v3M147.74 1048.50v-3M79.00 871.95h3.8M365.40 871.95h-3M153.46 816.20v3M153.46 1048.50v-3M79.00 876.60h3.8M365.40 876.60h-3M159.19 816.20v3M159.19 1048.50v-3M79.00 881.24h3.8M365.40 881.24h-3M164.92 816.20v3M164.92 1048.50v-3M79.00 885.89h3.8M365.40 885.89h-3M170.65 816.20v3M170.65 1048.50v-3M79.00 890.54h3.8M365.40 890.54h-3M176.38 816.20v3M176.38 1048.50v-3M79.00 895.18h3.8M365.40 895.18h-3M182.10 816.20v3M182.10 1048.50v-3M79.00 899.83h3.8M365.40 899.83h-3M187.83 816.20v3M187.83 1048.50v-3M79.00 904.47h3.8M365.40 904.47h-3M193.56 816.20v3M193.56 1048.50v-3M79.00 909.12h3.8M365.40 909.12h-3M199.29 816.20v3M199.29 1048.50v-3M79.00 913.77h3.8M365.40 913.77h-3M205.02 816.20v3M205.02 1048.50v-3M79.00 918.41h3.8M365.40 918.41h-3M210.74 816.20v3M210.74 1048.50v-3M79.00 923.06h3.8M365.40 923.06h-3M216.47 816.20v3M216.47 1048.50v-3M79.00 927.70h3.8M365.40 927.70h-3M222.20 816.20v3M222.20 1048.50v-3M79.00 932.35h3.8M365.40 932.35h-3M227.93 816.20v3M227.93 1048.50v-3M79.00 937.00h3.8M365.40 937.00h-3M233.66 816.20v3M233.66 1048.50v-3M79.00 941.64h3.8M365.40 941.64h-3M239.38 816.20v3M239.38 1048.50v-3M79.00 946.29h3.8M365.40 946.29h-3M245.11 816.20v3M245.11 1048.50v-3M79.00 950.93h3.8M365.40 950.93h-3M250.84 816.20v3M250.84 1048.50v-3M79.00 955.58h3.8M365.40 955.58h-3M256.57 816.20v3M256.57 1048.50v-3M79.00 960.23h3.8M365.40 960.23h-3M262.30 816.20v3M262.30 1048.50v-3M79.00 964.87h3.8M365.40 964.87h-3M268.02 816.20v3M268.02 1048.50v-3M79.00 969.52h3.8M365.40 969.52h-3M273.75 816.20v3M273.75 1048.50v-3M79.00 974.16h3.8M365.40 974.16h-3M279.48 816.20v3M279.48 1048.50v-3M79.00 978.81h3.8M365.40 978.81h-3M285.21 816.20v3M285.21 1048.50v-3M79.00 983.46h3.8M365.40 983.46h-3M290.94 816.20v3M290.94 1048.50v-3M79.00 988.10h3.8M365.40 988.10h-3M296.66 816.20v3M296.66 1048.50v-3M79.00 992.75h3.8M365.40 992.75h-3M302.39 816.20v3M302.39 1048.50v-3M79.00 997.39h3.8M365.40 997.39h-3M308.12 816.20v3M308.12 1048.50v-3M79.00 1002.04h3.8M365.40 1002.04h-3M313.85 816.20v3M313.85 1048.50v-3M79.00 1006.69h3.8M365.40 1006.69h-3M319.58 816.20v3M319.58 1048.50v-3M79.00 1011.33h3.8M365.40 1011.33h-3M325.30 816.20v3M325.30 1048.50v-3M79.00 1015.98h3.8M365.40 1015.98h-3M331.03 816.20v3M331.03 1048.50v-3M79.00 1020.62h3.8M365.40 1020.62h-3M336.76 816.20v3M336.76 1048.50v-3M79.00 1025.27h3.8M365.40 1025.27h-3M342.49 816.20v3M342.49 1048.50v-3M79.00 1029.92h3.8M365.40 1029.92h-3M348.22 816.20v3M348.22 1048.50v-3M79.00 1034.56h3.8M365.40 1034.56h-3M353.94 816.20v3M353.94 1048.50v-3M79.00 1039.21h3.8M365.40 1039.21h-3M359.67 816.20v3M359.67 1048.50v-3M79.00 1043.85h3.8M365.40 1043.85h-3" stroke="#000" stroke-width="0.9" fill="none"/>
<g>
<rect x="79.30" y="816.90" width="5.43" height="4.25" fill="#000"/>
<rect x="85.03" y="821.55" width="5.43" height="4.25" fill="#000"/>
<rect x="90.76" y="826.19" width="5.43" height="4.25" fill="#000"/>
<rect x="107.94" y="840.13" width="5.43" height="4.25" fill="#000"/>
<rect x="119.40" y="849.42" width="5.43" height="4.25" fill="#000"/>
<rect x="125.12" y="854.07" width="5.43" height="4.25" fill="#000"/>
<rect x="130.85" y="858.71" width="5.43" height="4.25" fill="#000"/>
<rect x="136.58" y="863.36" width="5.43" height="4.25" fill="#000"/>
<rect x="142.31" y="868.01" width="5.43" height="4.25" fill="#000"/>
<rect x="148.04" y="872.65" width="5.43" height="4.25" fill="#000"/>
<rect x="153.76" y="877.30" width="5.43" height="4.25" fill="#000"/>
<rect x="165.22" y="886.59" width="5.43" height="4.25" fill="#000"/>
<rect x="182.40" y="900.53" width="5.43" height="4.25" fill="#000"/>
<rect x="188.13" y="905.17" width="5.43" height="4.25" fill="#000"/>
<rect x="193.86" y="909.82" width="5.43" height="4.25" fill="#000"/>
<rect x="211.04" y="923.76" width="5.43" height="4.25" fill="#000"/>
<rect x="228.23" y="937.70" width="5.43" height="4.25" fill="#000"/>
<rect x="256.87" y="960.93" width="5.43" height="4.25" fill="#000"/>
<rect x="262.60" y="965.57" width="5.43" height="4.25" fill="#000"/>
<rect x="268.32" y="970.22" width="5.43" height="4.25" fill="#000"/>
<rect x="279.78" y="979.51" width="5.43" height="4.25" fill="#000"/>
<rect x="285.51" y="984.16" width="5.43" height="4.25" fill="#000"/>
<rect x="291.24" y="988.80" width="5.43" height="4.25" fill="#000"/>
<rect x="296.96" y="993.45" width="5.43" height="4.25" fill="#000"/>
<rect x="302.69" y="998.09" width="5.43" height="4.25" fill="#000"/>
<rect x="314.15" y="1007.39" width="5.43" height="4.25" fill="#000"/>
<rect x="319.88" y="1012.03" width="5.43" height="4.25" fill="#000"/>
<rect x="342.79" y="1030.62" width="5.43" height="4.25" fill="#000"/>
<rect x="256.87" y="826.19" width="5.43" height="4.25" fill="#000"/>
<rect x="285.51" y="821.55" width="5.43" height="4.25" fill="#000"/>
<rect x="193.86" y="840.13" width="5.43" height="4.25" fill="#000"/>
<rect x="107.94" y="909.82" width="5.43" height="4.25" fill="#000"/>
<rect x="90.76" y="960.93" width="5.43" height="4.25" fill="#000"/>
<rect x="85.03" y="984.16" width="5.43" height="4.25" fill="#000"/>
<rect x="331.43" y="1021.22" width="11.06" height="8.89" fill="#000"/>
</g>
<rect x="66.60" y="816.20" width="9.80" height="125.44" fill="#009900" stroke="#000" stroke-width="1.0"/>
<rect x="79.00" y="1051.60" width="154.66" height="8.80" fill="#009900" stroke="#000" stroke-width="1.0"/>
<rect x="66.60" y="941.64" width="9.80" height="23.23" fill="#99ff99" stroke="#000" stroke-width="1.0"/>
<rect x="233.66" y="1051.60" width="28.64" height="8.80" fill="#99ff99" stroke="#000" stroke-width="1.0"/>
<rect x="66.60" y="964.87" width="9.80" height="55.75" fill="#ff0000" stroke="#000" stroke-width="1.0"/>
<rect x="262.30" y="1051.60" width="68.74" height="8.80" fill="#ff0000" stroke="#000" stroke-width="1.0"/>
<rect x="66.60" y="1020.62" width="9.80" height="13.94" fill="#0000ff" stroke="#000" stroke-width="1.0"/>
<rect x="331.03" y="1051.60" width="17.18" height="8.80" fill="#0000ff" stroke="#000" stroke-width="1.0"/>
<rect x="66.60" y="1034.56" width="9.80" height="13.94" fill="#ffff00" stroke="#000" stroke-width="1.0"/>
<rect x="348.22" y="1051.60" width="17.18" height="8.80" fill="#ffff00" stroke="#000" stroke-width="1.0"/>
<text x="64.60" y="840.41" font-size="9.0" text-anchor="end" fill="#000">5</text>
<text x="104.78" y="1070.90" font-size="9.2" text-anchor="middle" fill="#000">5</text>
<text x="64.60" y="863.64" font-size="9.0" text-anchor="end" fill="#000">10</text>
<text x="133.42" y="1070.90" font-size="9.2" text-anchor="middle" fill="#000">10</text>
<text x="64.60" y="886.87" font-size="9.0" text-anchor="end" fill="#000">15</text>
<text x="162.06" y="1070.90" font-size="9.2" text-anchor="middle" fill="#000">15</text>
<text x="64.60" y="910.10" font-size="9.0" text-anchor="end" fill="#000">20</text>
<text x="190.70" y="1070.90" font-size="9.2" text-anchor="middle" fill="#000">20</text>
<text x="64.60" y="933.33" font-size="9.0" text-anchor="end" fill="#000">25</text>
<text x="219.34" y="1070.90" font-size="9.2" text-anchor="middle" fill="#000">25</text>
<text x="64.60" y="956.56" font-size="9.0" text-anchor="end" fill="#000">30</text>
<text x="247.98" y="1070.90" font-size="9.2" text-anchor="middle" fill="#000">30</text>
<text x="64.60" y="979.79" font-size="9.0" text-anchor="end" fill="#000">35</text>
<text x="276.62" y="1070.90" font-size="9.2" text-anchor="middle" fill="#000">35</text>
<text x="64.60" y="1003.02" font-size="9.0" text-anchor="end" fill="#000">40</text>
<text x="305.26" y="1070.90" font-size="9.2" text-anchor="middle" fill="#000">40</text>
<text x="64.60" y="1026.25" font-size="9.0" text-anchor="end" fill="#000">45</text>
<text x="333.90" y="1070.90" font-size="9.2" text-anchor="middle" fill="#000">45</text>
<text x="64.60" y="1049.48" font-size="9.0" text-anchor="end" fill="#000">50</text>
<text x="362.54" y="1070.90" font-size="9.2" text-anchor="middle" fill="#000">50</text>
<text x="86.86" y="1073.50" font-size="14.9" text-anchor="middle" fill="#000" stroke="#000" stroke-width="0.35">1</text>
<text x="227.30" y="1086.00" font-size="11.8" text-anchor="middle" fill="#000">KCs</text>
<text x="53.50" y="930.70" font-size="11.7" text-anchor="middle" fill="#000" transform="rotate(-90 53.50 930.70)">KCs</text>
<text x="75.00" y="881.50" font-size="8.8" text-anchor="middle" fill="#002a00" transform="rotate(-90 75.00 881.50)" stroke="#002a00" stroke-width="0.25">GFP+ L-LP</text>
<text x="152.60" y="1059.90" font-size="9.0" text-anchor="middle" fill="#002a00" stroke="#002a00" stroke-width="0.25">GFP+ L-LP</text>
<text x="27.70" y="799.80" font-size="34.3" text-anchor="start" fill="#000">B</text>
</g>
<g id="panelC">
<rect x="611.30" y="75.30" width="354.50" height="287.70" fill="#555575"/>
<g shape-rendering="crispEdges">
<rect x="611.30" y="75.30" width="7.14" height="5.80" fill="#000000"/>
<rect x="618.39" y="75.30" width="7.14" height="5.80" fill="#7d8d9d"/>
<rect x="625.48" y="75.30" width="7.14" height="5.80" fill="#737e92"/>
<rect x="632.57" y="75.30" width="7.14" height="5.80" fill="#555575"/>
<rect x="639.66" y="75.30" width="7.14" height="5.80" fill="#a7c7c7"/>
<rect x="646.75" y="75.30" width="7.14" height="5.80" fill="#626782"/>
<rect x="653.84" y="75.30" width="7.14" height="5.80" fill="#869aa6"/>
<rect x="660.93" y="75.30" width="7.14" height="5.80" fill="#8192a0"/>
<rect x="668.02" y="75.30" width="7.14" height="5.80" fill="#889ca8"/>
<rect x="675.11" y="75.30" width="7.14" height="5.80" fill="#4a4a66"/>
<rect x="682.20" y="75.30" width="7.14" height="5.80" fill="#555575"/>
<rect x="689.29" y="75.30" width="7.14" height="5.80" fill="#717c90"/>
<rect x="696.38" y="75.30" width="7.14" height="5.80" fill="#616681"/>
<rect x="703.47" y="75.30" width="7.14" height="5.80" fill="#37374c"/>
<rect x="710.56" y="75.30" width="7.14" height="5.80" fill="#3d3d54"/>
<rect x="717.65" y="75.30" width="7.14" height="5.80" fill="#262634"/>
<rect x="724.74" y="75.30" width="7.14" height="5.80" fill="#5b5d7b"/>
<rect x="731.83" y="75.30" width="7.14" height="5.80" fill="#687088"/>
<rect x="738.92" y="75.30" width="7.14" height="5.80" fill="#686f88"/>
<rect x="746.01" y="75.30" width="7.14" height="5.80" fill="#595b79"/>
<rect x="753.10" y="75.30" width="7.14" height="5.80" fill="#656c85"/>
<rect x="760.19" y="75.30" width="7.14" height="5.80" fill="#4b4b68"/>
<rect x="767.28" y="75.30" width="7.14" height="5.80" fill="#6e788d"/>
<rect x="774.37" y="75.30" width="7.14" height="5.80" fill="#778496"/>
<rect x="781.46" y="75.30" width="7.14" height="5.80" fill="#555675"/>
<rect x="788.55" y="75.30" width="7.14" height="5.80" fill="#262634"/>
<rect x="795.64" y="75.30" width="7.14" height="5.80" fill="#778497"/>
<rect x="802.73" y="75.30" width="7.14" height="5.80" fill="#45455f"/>
<rect x="809.82" y="75.30" width="7.14" height="5.80" fill="#626882"/>
<rect x="816.91" y="75.30" width="7.14" height="5.80" fill="#5a5d7a"/>
<rect x="824.00" y="75.30" width="7.14" height="5.80" fill="#737f93"/>
<rect x="831.09" y="75.30" width="7.14" height="5.80" fill="#4b4b67"/>
<rect x="838.18" y="75.30" width="7.14" height="5.80" fill="#5c607c"/>
<rect x="845.27" y="75.30" width="7.14" height="5.80" fill="#626782"/>
<rect x="852.36" y="75.30" width="7.14" height="5.80" fill="#6e788e"/>
<rect x="859.45" y="75.30" width="7.14" height="5.80" fill="#2c2c3d"/>
<rect x="866.54" y="75.30" width="7.14" height="5.80" fill="#5d617d"/>
<rect x="873.63" y="75.30" width="7.14" height="5.80" fill="#717c91"/>
<rect x="880.72" y="75.30" width="7.14" height="5.80" fill="#343448"/>
<rect x="887.81" y="75.30" width="7.14" height="5.80" fill="#43435c"/>
<rect x="894.90" y="75.30" width="7.14" height="5.80" fill="#37374c"/>
<rect x="901.99" y="75.30" width="7.14" height="5.80" fill="#313144"/>
<rect x="909.08" y="75.30" width="7.14" height="5.80" fill="#585978"/>
<rect x="916.17" y="75.30" width="7.14" height="5.80" fill="#646a84"/>
<rect x="923.26" y="75.30" width="7.14" height="5.80" fill="#535372"/>
<rect x="930.35" y="75.30" width="7.14" height="5.80" fill="#565776"/>
<rect x="937.44" y="75.30" width="7.14" height="5.80" fill="#4f4f6e"/>
<rect x="944.53" y="75.30" width="7.14" height="5.80" fill="#4a4a66"/>
<rect x="951.62" y="75.30" width="7.14" height="5.80" fill="#404058"/>
<rect x="958.71" y="75.30" width="7.14" height="5.80" fill="#555575"/>
<rect x="611.30" y="81.05" width="7.14" height="5.80" fill="#7d8d9d"/>
<rect x="618.39" y="81.05" width="7.14" height="5.80" fill="#000000"/>
<rect x="625.48" y="81.05" width="7.14" height="5.80" fill="#758295"/>
<rect x="632.57" y="81.05" width="7.14" height="5.80" fill="#646a83"/>
<rect x="639.66" y="81.05" width="7.14" height="5.80" fill="#a7c7c7"/>
<rect x="646.75" y="81.05" width="7.14" height="5.80" fill="#5c5f7c"/>
<rect x="653.84" y="81.05" width="7.14" height="5.80" fill="#a1bec1"/>
<rect x="660.93" y="81.05" width="7.14" height="5.80" fill="#687088"/>
<rect x="668.02" y="81.05" width="7.14" height="5.80" fill="#7e8e9e"/>
<rect x="675.11" y="81.05" width="7.14" height="5.80" fill="#707b90"/>
<rect x="682.20" y="81.05" width="7.14" height="5.80" fill="#38384e"/>
<rect x="689.29" y="81.05" width="7.14" height="5.80" fill="#5e627e"/>
<rect x="696.38" y="81.05" width="7.14" height="5.80" fill="#50506f"/>
<rect x="703.47" y="81.05" width="7.14" height="5.80" fill="#343448"/>
<rect x="710.56" y="81.05" width="7.14" height="5.80" fill="#95aeb5"/>
<rect x="717.65" y="81.05" width="7.14" height="5.80" fill="#5c5f7c"/>
<rect x="724.74" y="81.05" width="7.14" height="5.80" fill="#404058"/>
<rect x="731.83" y="81.05" width="7.14" height="5.80" fill="#5c5f7c"/>
<rect x="738.92" y="81.05" width="7.14" height="5.80" fill="#616681"/>
<rect x="746.01" y="81.05" width="7.14" height="5.80" fill="#4e4e6c"/>
<rect x="753.10" y="81.05" width="7.14" height="5.80" fill="#758295"/>
<rect x="760.19" y="81.05" width="7.14" height="5.80" fill="#666d86"/>
<rect x="767.28" y="81.05" width="7.14" height="5.80" fill="#798799"/>
<rect x="774.37" y="81.05" width="7.14" height="5.80" fill="#5e627e"/>
<rect x="781.46" y="81.05" width="7.14" height="5.80" fill="#3a3a50"/>
<rect x="788.55" y="81.05" width="7.14" height="5.80" fill="#4d4d6a"/>
<rect x="795.64" y="81.05" width="7.14" height="5.80" fill="#535372"/>
<rect x="802.73" y="81.05" width="7.14" height="5.80" fill="#585978"/>
<rect x="809.82" y="81.05" width="7.14" height="5.80" fill="#3f3f58"/>
<rect x="816.91" y="81.05" width="7.14" height="5.80" fill="#404058"/>
<rect x="824.00" y="81.05" width="7.14" height="5.80" fill="#94acb3"/>
<rect x="831.09" y="81.05" width="7.14" height="5.80" fill="#474762"/>
<rect x="838.18" y="81.05" width="7.14" height="5.80" fill="#7a8899"/>
<rect x="845.27" y="81.05" width="7.14" height="5.80" fill="#8293a1"/>
<rect x="852.36" y="81.05" width="7.14" height="5.80" fill="#5b5e7b"/>
<rect x="859.45" y="81.05" width="7.14" height="5.80" fill="#2b2b3c"/>
<rect x="866.54" y="81.05" width="7.14" height="5.80" fill="#525272"/>
<rect x="873.63" y="81.05" width="7.14" height="5.80" fill="#535372"/>
<rect x="880.72" y="81.05" width="7.14" height="5.80" fill="#38384e"/>
<rect x="887.81" y="81.05" width="7.14" height="5.80" fill="#525272"/>
<rect x="894.90" y="81.05" width="7.14" height="5.80" fill="#545473"/>
<rect x="901.99" y="81.05" width="7.14" height="5.80" fill="#565776"/>
<rect x="909.08" y="81.05" width="7.14" height="5.80" fill="#626782"/>
<rect x="916.17" y="81.05" width="7.14" height="5.80" fill="#42425c"/>
<rect x="923.26" y="81.05" width="7.14" height="5.80" fill="#727e92"/>
<rect x="930.35" y="81.05" width="7.14" height="5.80" fill="#666d86"/>
<rect x="937.44" y="81.05" width="7.14" height="5.80" fill="#6b738b"/>
<rect x="944.53" y="81.05" width="7.14" height="5.80" fill="#595b79"/>
<rect x="951.62" y="81.05" width="7.14" height="5.80" fill="#98b2b8"/>
<rect x="958.71" y="81.05" width="7.14" height="5.80" fill="#565776"/>
<rect x="611.30" y="86.81" width="7.14" height="5.80" fill="#737e92"/>
<rect x="618.39" y="86.81" width="7.14" height="5.80" fill="#758295"/>
<rect x="625.48" y="86.81" width="7.14" height="5.80" fill="#000000"/>
<rect x="632.57" y="86.81" width="7.14" height="5.80" fill="#474761"/>
<rect x="639.66" y="86.81" width="7.14" height="5.80" fill="#778597"/>
<rect x="646.75" y="86.81" width="7.14" height="5.80" fill="#626782"/>
<rect x="653.84" y="86.81" width="7.14" height="5.80" fill="#9ebabe"/>
<rect x="660.93" y="86.81" width="7.14" height="5.80" fill="#a6c6c6"/>
<rect x="668.02" y="86.81" width="7.14" height="5.80" fill="#98b2b8"/>
<rect x="675.11" y="86.81" width="7.14" height="5.80" fill="#585a78"/>
<rect x="682.20" y="86.81" width="7.14" height="5.80" fill="#8293a2"/>
<rect x="689.29" y="86.81" width="7.14" height="5.80" fill="#36364b"/>
<rect x="696.38" y="86.81" width="7.14" height="5.80" fill="#262634"/>
<rect x="703.47" y="86.81" width="7.14" height="5.80" fill="#768396"/>
<rect x="710.56" y="86.81" width="7.14" height="5.80" fill="#a0bdc0"/>
<rect x="717.65" y="86.81" width="7.14" height="5.80" fill="#869aa6"/>
<rect x="724.74" y="86.81" width="7.14" height="5.80" fill="#5e627e"/>
<rect x="731.83" y="86.81" width="7.14" height="5.80" fill="#575977"/>
<rect x="738.92" y="86.81" width="7.14" height="5.80" fill="#737f93"/>
<rect x="746.01" y="86.81" width="7.14" height="5.80" fill="#7f8f9f"/>
<rect x="753.10" y="86.81" width="7.14" height="5.80" fill="#3a3a51"/>
<rect x="760.19" y="86.81" width="7.14" height="5.80" fill="#5a5c7a"/>
<rect x="767.28" y="86.81" width="7.14" height="5.80" fill="#687088"/>
<rect x="774.37" y="86.81" width="7.14" height="5.80" fill="#707b90"/>
<rect x="781.46" y="86.81" width="7.14" height="5.80" fill="#4e4e6c"/>
<rect x="788.55" y="86.81" width="7.14" height="5.80" fill="#44445e"/>
<rect x="795.64" y="86.81" width="7.14" height="5.80" fill="#454560"/>
<rect x="802.73" y="86.81" width="7.14" height="5.80" fill="#5e627e"/>
<rect x="809.82" y="86.81" width="7.14" height="5.80" fill="#8092a0"/>
<rect x="816.91" y="86.81" width="7.14" height="5.80" fill="#3d3d54"/>
<rect x="824.00" y="86.81" width="7.14" height="5.80" fill="#697188"/>
<rect x="831.09" y="86.81" width="7.14" height="5.80" fill="#626882"/>
<rect x="838.18" y="86.81" width="7.14" height="5.80" fill="#768496"/>
<rect x="845.27" y="86.81" width="7.14" height="5.80" fill="#4a4a66"/>
<rect x="852.36" y="86.81" width="7.14" height="5.80" fill="#5f637f"/>
<rect x="859.45" y="86.81" width="7.14" height="5.80" fill="#5c607c"/>
<rect x="866.54" y="86.81" width="7.14" height="5.80" fill="#899ea9"/>
<rect x="873.63" y="86.81" width="7.14" height="5.80" fill="#5c5f7c"/>
<rect x="880.72" y="86.81" width="7.14" height="5.80" fill="#606480"/>
<rect x="887.81" y="86.81" width="7.14" height="5.80" fill="#616681"/>
<rect x="894.90" y="86.81" width="7.14" height="5.80" fill="#606580"/>
<rect x="901.99" y="86.81" width="7.14" height="5.80" fill="#7a8899"/>
<rect x="909.08" y="86.81" width="7.14" height="5.80" fill="#666d86"/>
<rect x="916.17" y="86.81" width="7.14" height="5.80" fill="#686f87"/>
<rect x="923.26" y="86.81" width="7.14" height="5.80" fill="#515170"/>
<rect x="930.35" y="86.81" width="7.14" height="5.80" fill="#585a78"/>
<rect x="937.44" y="86.81" width="7.14" height="5.80" fill="#707b90"/>
<rect x="944.53" y="86.81" width="7.14" height="5.80" fill="#8ba0ab"/>
<rect x="951.62" y="86.81" width="7.14" height="5.80" fill="#8699a6"/>
<rect x="958.71" y="86.81" width="7.14" height="5.80" fill="#525271"/>
<rect x="611.30" y="92.56" width="7.14" height="5.80" fill="#555575"/>
<rect x="618.39" y="92.56" width="7.14" height="5.80" fill="#646a83"/>
<rect x="625.48" y="92.56" width="7.14" height="5.80" fill="#474761"/>
<rect x="632.57" y="92.56" width="7.14" height="5.80" fill="#000000"/>
<rect x="639.66" y="92.56" width="7.14" height="5.80" fill="#707a90"/>
<rect x="646.75" y="92.56" width="7.14" height="5.80" fill="#889ba8"/>
<rect x="653.84" y="92.56" width="7.14" height="5.80" fill="#95aeb5"/>
<rect x="660.93" y="92.56" width="7.14" height="5.80" fill="#717c91"/>
<rect x="668.02" y="92.56" width="7.14" height="5.80" fill="#484864"/>
<rect x="675.11" y="92.56" width="7.14" height="5.80" fill="#41415a"/>
<rect x="682.20" y="92.56" width="7.14" height="5.80" fill="#3d3d54"/>
<rect x="689.29" y="92.56" width="7.14" height="5.80" fill="#3e3e55"/>
<rect x="696.38" y="92.56" width="7.14" height="5.80" fill="#585977"/>
<rect x="703.47" y="92.56" width="7.14" height="5.80" fill="#44445e"/>
<rect x="710.56" y="92.56" width="7.14" height="5.80" fill="#a7c7c7"/>
<rect x="717.65" y="92.56" width="7.14" height="5.80" fill="#a7c7c7"/>
<rect x="724.74" y="92.56" width="7.14" height="5.80" fill="#96b0b6"/>
<rect x="731.83" y="92.56" width="7.14" height="5.80" fill="#a1bec1"/>
<rect x="738.92" y="92.56" width="7.14" height="5.80" fill="#798799"/>
<rect x="746.01" y="92.56" width="7.14" height="5.80" fill="#6c758c"/>
<rect x="753.10" y="92.56" width="7.14" height="5.80" fill="#676e87"/>
<rect x="760.19" y="92.56" width="7.14" height="5.80" fill="#889ca8"/>
<rect x="767.28" y="92.56" width="7.14" height="5.80" fill="#4d4d6a"/>
<rect x="774.37" y="92.56" width="7.14" height="5.80" fill="#595c79"/>
<rect x="781.46" y="92.56" width="7.14" height="5.80" fill="#575877"/>
<rect x="788.55" y="92.56" width="7.14" height="5.80" fill="#6a738a"/>
<rect x="795.64" y="92.56" width="7.14" height="5.80" fill="#656c85"/>
<rect x="802.73" y="92.56" width="7.14" height="5.80" fill="#697189"/>
<rect x="809.82" y="92.56" width="7.14" height="5.80" fill="#565776"/>
<rect x="816.91" y="92.56" width="7.14" height="5.80" fill="#4f4f6e"/>
<rect x="824.00" y="92.56" width="7.14" height="5.80" fill="#646a84"/>
<rect x="831.09" y="92.56" width="7.14" height="5.80" fill="#93abb3"/>
<rect x="838.18" y="92.56" width="7.14" height="5.80" fill="#8394a2"/>
<rect x="845.27" y="92.56" width="7.14" height="5.80" fill="#727e92"/>
<rect x="852.36" y="92.56" width="7.14" height="5.80" fill="#768295"/>
<rect x="859.45" y="92.56" width="7.14" height="5.80" fill="#262634"/>
<rect x="866.54" y="92.56" width="7.14" height="5.80" fill="#474763"/>
<rect x="873.63" y="92.56" width="7.14" height="5.80" fill="#5e637e"/>
<rect x="880.72" y="92.56" width="7.14" height="5.80" fill="#788698"/>
<rect x="887.81" y="92.56" width="7.14" height="5.80" fill="#646a84"/>
<rect x="894.90" y="92.56" width="7.14" height="5.80" fill="#656c85"/>
<rect x="901.99" y="92.56" width="7.14" height="5.80" fill="#484864"/>
<rect x="909.08" y="92.56" width="7.14" height="5.80" fill="#4e4e6c"/>
<rect x="916.17" y="92.56" width="7.14" height="5.80" fill="#575876"/>
<rect x="923.26" y="92.56" width="7.14" height="5.80" fill="#585a78"/>
<rect x="930.35" y="92.56" width="7.14" height="5.80" fill="#585a78"/>
<rect x="937.44" y="92.56" width="7.14" height="5.80" fill="#8294a2"/>
<rect x="944.53" y="92.56" width="7.14" height="5.80" fill="#95aeb5"/>
<rect x="951.62" y="92.56" width="7.14" height="5.80" fill="#9bb6ba"/>
<rect x="958.71" y="92.56" width="7.14" height="5.80" fill="#687088"/>
<rect x="611.30" y="98.32" width="7.14" height="5.80" fill="#a7c7c7"/>
<rect x="618.39" y="98.32" width="7.14" height="5.80" fill="#a7c7c7"/>
<rect x="625.48" y="98.32" width="7.14" height="5.80" fill="#778597"/>
<rect x="632.57" y="98.32" width="7.14" height="5.80" fill="#707a90"/>
<rect x="639.66" y="98.32" width="7.14" height="5.80" fill="#000000"/>
<rect x="646.75" y="98.32" width="7.14" height="5.80" fill="#8294a2"/>
<rect x="653.84" y="98.32" width="7.14" height="5.80" fill="#798798"/>
<rect x="660.93" y="98.32" width="7.14" height="5.80" fill="#484864"/>
<rect x="668.02" y="98.32" width="7.14" height="5.80" fill="#5e617d"/>
<rect x="675.11" y="98.32" width="7.14" height="5.80" fill="#36364a"/>
<rect x="682.20" y="98.32" width="7.14" height="5.80" fill="#748194"/>
<rect x="689.29" y="98.32" width="7.14" height="5.80" fill="#889ca8"/>
<rect x="696.38" y="98.32" width="7.14" height="5.80" fill="#a1bec0"/>
<rect x="703.47" y="98.32" width="7.14" height="5.80" fill="#717d91"/>
<rect x="710.56" y="98.32" width="7.14" height="5.80" fill="#7b8a9b"/>
<rect x="717.65" y="98.32" width="7.14" height="5.80" fill="#95aeb5"/>
<rect x="724.74" y="98.32" width="7.14" height="5.80" fill="#6c758c"/>
<rect x="731.83" y="98.32" width="7.14" height="5.80" fill="#97b1b7"/>
<rect x="738.92" y="98.32" width="7.14" height="5.80" fill="#a6c6c6"/>
<rect x="746.01" y="98.32" width="7.14" height="5.80" fill="#707b90"/>
<rect x="753.10" y="98.32" width="7.14" height="5.80" fill="#9db8bd"/>
<rect x="760.19" y="98.32" width="7.14" height="5.80" fill="#656b85"/>
<rect x="767.28" y="98.32" width="7.14" height="5.80" fill="#727d92"/>
<rect x="774.37" y="98.32" width="7.14" height="5.80" fill="#5c5f7c"/>
<rect x="781.46" y="98.32" width="7.14" height="5.80" fill="#8496a3"/>
<rect x="788.55" y="98.32" width="7.14" height="5.80" fill="#7a899a"/>
<rect x="795.64" y="98.32" width="7.14" height="5.80" fill="#626882"/>
<rect x="802.73" y="98.32" width="7.14" height="5.80" fill="#8ba0ab"/>
<rect x="809.82" y="98.32" width="7.14" height="5.80" fill="#879aa7"/>
<rect x="816.91" y="98.32" width="7.14" height="5.80" fill="#778597"/>
<rect x="824.00" y="98.32" width="7.14" height="5.80" fill="#a7c7c7"/>
<rect x="831.09" y="98.32" width="7.14" height="5.80" fill="#595b79"/>
<rect x="838.18" y="98.32" width="7.14" height="5.80" fill="#91a9b1"/>
<rect x="845.27" y="98.32" width="7.14" height="5.80" fill="#98b3b8"/>
<rect x="852.36" y="98.32" width="7.14" height="5.80" fill="#707b90"/>
<rect x="859.45" y="98.32" width="7.14" height="5.80" fill="#5c607c"/>
<rect x="866.54" y="98.32" width="7.14" height="5.80" fill="#7f909f"/>
<rect x="873.63" y="98.32" width="7.14" height="5.80" fill="#8699a6"/>
<rect x="880.72" y="98.32" width="7.14" height="5.80" fill="#768396"/>
<rect x="887.81" y="98.32" width="7.14" height="5.80" fill="#697289"/>
<rect x="894.90" y="98.32" width="7.14" height="5.80" fill="#7f8f9f"/>
<rect x="901.99" y="98.32" width="7.14" height="5.80" fill="#8a9ea9"/>
<rect x="909.08" y="98.32" width="7.14" height="5.80" fill="#90a6af"/>
<rect x="916.17" y="98.32" width="7.14" height="5.80" fill="#676f87"/>
<rect x="923.26" y="98.32" width="7.14" height="5.80" fill="#737f93"/>
<rect x="930.35" y="98.32" width="7.14" height="5.80" fill="#758295"/>
<rect x="937.44" y="98.32" width="7.14" height="5.80" fill="#788698"/>
<rect x="944.53" y="98.32" width="7.14" height="5.80" fill="#879ba7"/>
<rect x="951.62" y="98.32" width="7.14" height="5.80" fill="#697189"/>
<rect x="958.71" y="98.32" width="7.14" height="5.80" fill="#666d86"/>
<rect x="611.30" y="104.07" width="7.14" height="5.80" fill="#626782"/>
<rect x="618.39" y="104.07" width="7.14" height="5.80" fill="#5c5f7c"/>
<rect x="625.48" y="104.07" width="7.14" height="5.80" fill="#626782"/>
<rect x="632.57" y="104.07" width="7.14" height="5.80" fill="#889ba8"/>
<rect x="639.66" y="104.07" width="7.14" height="5.80" fill="#8294a2"/>
<rect x="646.75" y="104.07" width="7.14" height="5.80" fill="#000000"/>
<rect x="653.84" y="104.07" width="7.14" height="5.80" fill="#7b8a9b"/>
<rect x="660.93" y="104.07" width="7.14" height="5.80" fill="#404059"/>
<rect x="668.02" y="104.07" width="7.14" height="5.80" fill="#484863"/>
<rect x="675.11" y="104.07" width="7.14" height="5.80" fill="#798798"/>
<rect x="682.20" y="104.07" width="7.14" height="5.80" fill="#778497"/>
<rect x="689.29" y="104.07" width="7.14" height="5.80" fill="#788798"/>
<rect x="696.38" y="104.07" width="7.14" height="5.80" fill="#6f798f"/>
<rect x="703.47" y="104.07" width="7.14" height="5.80" fill="#3a3a50"/>
<rect x="710.56" y="104.07" width="7.14" height="5.80" fill="#616681"/>
<rect x="717.65" y="104.07" width="7.14" height="5.80" fill="#484864"/>
<rect x="724.74" y="104.07" width="7.14" height="5.80" fill="#6d778d"/>
<rect x="731.83" y="104.07" width="7.14" height="5.80" fill="#595b79"/>
<rect x="738.92" y="104.07" width="7.14" height="5.80" fill="#7b8a9b"/>
<rect x="746.01" y="104.07" width="7.14" height="5.80" fill="#8497a4"/>
<rect x="753.10" y="104.07" width="7.14" height="5.80" fill="#687088"/>
<rect x="760.19" y="104.07" width="7.14" height="5.80" fill="#585a78"/>
<rect x="767.28" y="104.07" width="7.14" height="5.80" fill="#2c2c3c"/>
<rect x="774.37" y="104.07" width="7.14" height="5.80" fill="#262634"/>
<rect x="781.46" y="104.07" width="7.14" height="5.80" fill="#464661"/>
<rect x="788.55" y="104.07" width="7.14" height="5.80" fill="#474762"/>
<rect x="795.64" y="104.07" width="7.14" height="5.80" fill="#555675"/>
<rect x="802.73" y="104.07" width="7.14" height="5.80" fill="#474762"/>
<rect x="809.82" y="104.07" width="7.14" height="5.80" fill="#575877"/>
<rect x="816.91" y="104.07" width="7.14" height="5.80" fill="#3d3d54"/>
<rect x="824.00" y="104.07" width="7.14" height="5.80" fill="#788698"/>
<rect x="831.09" y="104.07" width="7.14" height="5.80" fill="#575877"/>
<rect x="838.18" y="104.07" width="7.14" height="5.80" fill="#3e3e56"/>
<rect x="845.27" y="104.07" width="7.14" height="5.80" fill="#575877"/>
<rect x="852.36" y="104.07" width="7.14" height="5.80" fill="#4d4d6b"/>
<rect x="859.45" y="104.07" width="7.14" height="5.80" fill="#50506e"/>
<rect x="866.54" y="104.07" width="7.14" height="5.80" fill="#43435c"/>
<rect x="873.63" y="104.07" width="7.14" height="5.80" fill="#464661"/>
<rect x="880.72" y="104.07" width="7.14" height="5.80" fill="#3d3d54"/>
<rect x="887.81" y="104.07" width="7.14" height="5.80" fill="#4e4e6b"/>
<rect x="894.90" y="104.07" width="7.14" height="5.80" fill="#3f3f56"/>
<rect x="901.99" y="104.07" width="7.14" height="5.80" fill="#4e4e6c"/>
<rect x="909.08" y="104.07" width="7.14" height="5.80" fill="#636983"/>
<rect x="916.17" y="104.07" width="7.14" height="5.80" fill="#626782"/>
<rect x="923.26" y="104.07" width="7.14" height="5.80" fill="#4a4a66"/>
<rect x="930.35" y="104.07" width="7.14" height="5.80" fill="#272736"/>
<rect x="937.44" y="104.07" width="7.14" height="5.80" fill="#262634"/>
<rect x="944.53" y="104.07" width="7.14" height="5.80" fill="#515170"/>
<rect x="951.62" y="104.07" width="7.14" height="5.80" fill="#50506f"/>
<rect x="958.71" y="104.07" width="7.14" height="5.80" fill="#262634"/>
<rect x="611.30" y="109.82" width="7.14" height="5.80" fill="#869aa6"/>
<rect x="618.39" y="109.82" width="7.14" height="5.80" fill="#a1bec1"/>
<rect x="625.48" y="109.82" width="7.14" height="5.80" fill="#9ebabe"/>
<rect x="632.57" y="109.82" width="7.14" height="5.80" fill="#95aeb5"/>
<rect x="639.66" y="109.82" width="7.14" height="5.80" fill="#798798"/>
<rect x="646.75" y="109.82" width="7.14" height="5.80" fill="#7b8a9b"/>
<rect x="653.84" y="109.82" width="7.14" height="5.80" fill="#000000"/>
<rect x="660.93" y="109.82" width="7.14" height="5.80" fill="#9bb6bb"/>
<rect x="668.02" y="109.82" width="7.14" height="5.80" fill="#a7c7c7"/>
<rect x="675.11" y="109.82" width="7.14" height="5.80" fill="#a7c7c7"/>
<rect x="682.20" y="109.82" width="7.14" height="5.80" fill="#899da9"/>
<rect x="689.29" y="109.82" width="7.14" height="5.80" fill="#7d8d9d"/>
<rect x="696.38" y="109.82" width="7.14" height="5.80" fill="#727d92"/>
<rect x="703.47" y="109.82" width="7.14" height="5.80" fill="#4b4b67"/>
<rect x="710.56" y="109.82" width="7.14" height="5.80" fill="#9ebbbe"/>
<rect x="717.65" y="109.82" width="7.14" height="5.80" fill="#758295"/>
<rect x="724.74" y="109.82" width="7.14" height="5.80" fill="#626882"/>
<rect x="731.83" y="109.82" width="7.14" height="5.80" fill="#7b8a9b"/>
<rect x="738.92" y="109.82" width="7.14" height="5.80" fill="#798799"/>
<rect x="746.01" y="109.82" width="7.14" height="5.80" fill="#a7c7c7"/>
<rect x="753.10" y="109.82" width="7.14" height="5.80" fill="#a7c7c7"/>
<rect x="760.19" y="109.82" width="7.14" height="5.80" fill="#737f93"/>
<rect x="767.28" y="109.82" width="7.14" height="5.80" fill="#727d92"/>
<rect x="774.37" y="109.82" width="7.14" height="5.80" fill="#575877"/>
<rect x="781.46" y="109.82" width="7.14" height="5.80" fill="#798799"/>
<rect x="788.55" y="109.82" width="7.14" height="5.80" fill="#727e92"/>
<rect x="795.64" y="109.82" width="7.14" height="5.80" fill="#a7c7c7"/>
<rect x="802.73" y="109.82" width="7.14" height="5.80" fill="#93abb2"/>
<rect x="809.82" y="109.82" width="7.14" height="5.80" fill="#8ca2ac"/>
<rect x="816.91" y="109.82" width="7.14" height="5.80" fill="#788798"/>
<rect x="824.00" y="109.82" width="7.14" height="5.80" fill="#768295"/>
<rect x="831.09" y="109.82" width="7.14" height="5.80" fill="#6e788e"/>
<rect x="838.18" y="109.82" width="7.14" height="5.80" fill="#6e788e"/>
<rect x="845.27" y="109.82" width="7.14" height="5.80" fill="#525271"/>
<rect x="852.36" y="109.82" width="7.14" height="5.80" fill="#7f8f9f"/>
<rect x="859.45" y="109.82" width="7.14" height="5.80" fill="#8091a0"/>
<rect x="866.54" y="109.82" width="7.14" height="5.80" fill="#5f647f"/>
<rect x="873.63" y="109.82" width="7.14" height="5.80" fill="#6e788e"/>
<rect x="880.72" y="109.82" width="7.14" height="5.80" fill="#748194"/>
<rect x="887.81" y="109.82" width="7.14" height="5.80" fill="#9bb6bb"/>
<rect x="894.90" y="109.82" width="7.14" height="5.80" fill="#6c768c"/>
<rect x="901.99" y="109.82" width="7.14" height="5.80" fill="#97b0b7"/>
<rect x="909.08" y="109.82" width="7.14" height="5.80" fill="#9cb8bc"/>
<rect x="916.17" y="109.82" width="7.14" height="5.80" fill="#a1bec1"/>
<rect x="923.26" y="109.82" width="7.14" height="5.80" fill="#9fbcbf"/>
<rect x="930.35" y="109.82" width="7.14" height="5.80" fill="#6f7a8f"/>
<rect x="937.44" y="109.82" width="7.14" height="5.80" fill="#7b8a9b"/>
<rect x="944.53" y="109.82" width="7.14" height="5.80" fill="#a7c7c7"/>
<rect x="951.62" y="109.82" width="7.14" height="5.80" fill="#a7c7c7"/>
<rect x="958.71" y="109.82" width="7.14" height="5.80" fill="#464661"/>
<rect x="611.30" y="115.58" width="7.14" height="5.80" fill="#8192a0"/>
<rect x="618.39" y="115.58" width="7.14" height="5.80" fill="#687088"/>
<rect x="625.48" y="115.58" width="7.14" height="5.80" fill="#a6c6c6"/>
<rect x="632.57" y="115.58" width="7.14" height="5.80" fill="#717c91"/>
<rect x="639.66" y="115.58" width="7.14" height="5.80" fill="#484864"/>
<rect x="646.75" y="115.58" width="7.14" height="5.80" fill="#404059"/>
<rect x="653.84" y="115.58" width="7.14" height="5.80" fill="#9bb6bb"/>
<rect x="660.93" y="115.58" width="7.14" height="5.80" fill="#000000"/>
<rect x="668.02" y="115.58" width="7.14" height="5.80" fill="#646a84"/>
<rect x="675.11" y="115.58" width="7.14" height="5.80" fill="#6c758c"/>
<rect x="682.20" y="115.58" width="7.14" height="5.80" fill="#7d8d9d"/>
<rect x="689.29" y="115.58" width="7.14" height="5.80" fill="#6f7a8f"/>
<rect x="696.38" y="115.58" width="7.14" height="5.80" fill="#4b4b68"/>
<rect x="703.47" y="115.58" width="7.14" height="5.80" fill="#748094"/>
<rect x="710.56" y="115.58" width="7.14" height="5.80" fill="#8394a2"/>
<rect x="717.65" y="115.58" width="7.14" height="5.80" fill="#7b8a9b"/>
<rect x="724.74" y="115.58" width="7.14" height="5.80" fill="#3c3c53"/>
<rect x="731.83" y="115.58" width="7.14" height="5.80" fill="#535373"/>
<rect x="738.92" y="115.58" width="7.14" height="5.80" fill="#404058"/>
<rect x="746.01" y="115.58" width="7.14" height="5.80" fill="#717c91"/>
<rect x="753.10" y="115.58" width="7.14" height="5.80" fill="#8294a2"/>
<rect x="760.19" y="115.58" width="7.14" height="5.80" fill="#303042"/>
<rect x="767.28" y="115.58" width="7.14" height="5.80" fill="#3a3a51"/>
<rect x="774.37" y="115.58" width="7.14" height="5.80" fill="#5e617d"/>
<rect x="781.46" y="115.58" width="7.14" height="5.80" fill="#788597"/>
<rect x="788.55" y="115.58" width="7.14" height="5.80" fill="#727e92"/>
<rect x="795.64" y="115.58" width="7.14" height="5.80" fill="#93aab2"/>
<rect x="802.73" y="115.58" width="7.14" height="5.80" fill="#606580"/>
<rect x="809.82" y="115.58" width="7.14" height="5.80" fill="#6e788e"/>
<rect x="816.91" y="115.58" width="7.14" height="5.80" fill="#343448"/>
<rect x="824.00" y="115.58" width="7.14" height="5.80" fill="#90a6af"/>
<rect x="831.09" y="115.58" width="7.14" height="5.80" fill="#717c91"/>
<rect x="838.18" y="115.58" width="7.14" height="5.80" fill="#41415a"/>
<rect x="845.27" y="115.58" width="7.14" height="5.80" fill="#4b4b67"/>
<rect x="852.36" y="115.58" width="7.14" height="5.80" fill="#404058"/>
<rect x="859.45" y="115.58" width="7.14" height="5.80" fill="#333347"/>
<rect x="866.54" y="115.58" width="7.14" height="5.80" fill="#6a728a"/>
<rect x="873.63" y="115.58" width="7.14" height="5.80" fill="#3e3e56"/>
<rect x="880.72" y="115.58" width="7.14" height="5.80" fill="#748094"/>
<rect x="887.81" y="115.58" width="7.14" height="5.80" fill="#41415a"/>
<rect x="894.90" y="115.58" width="7.14" height="5.80" fill="#6c758c"/>
<rect x="901.99" y="115.58" width="7.14" height="5.80" fill="#555574"/>
<rect x="909.08" y="115.58" width="7.14" height="5.80" fill="#666c85"/>
<rect x="916.17" y="115.58" width="7.14" height="5.80" fill="#6d768c"/>
<rect x="923.26" y="115.58" width="7.14" height="5.80" fill="#727e92"/>
<rect x="930.35" y="115.58" width="7.14" height="5.80" fill="#8597a5"/>
<rect x="937.44" y="115.58" width="7.14" height="5.80" fill="#798799"/>
<rect x="944.53" y="115.58" width="7.14" height="5.80" fill="#768396"/>
<rect x="951.62" y="115.58" width="7.14" height="5.80" fill="#9ebabd"/>
<rect x="958.71" y="115.58" width="7.14" height="5.80" fill="#768396"/>
<rect x="611.30" y="121.33" width="7.14" height="5.80" fill="#889ca8"/>
<rect x="618.39" y="121.33" width="7.14" height="5.80" fill="#7e8e9e"/>
<rect x="625.48" y="121.33" width="7.14" height="5.80" fill="#98b2b8"/>
<rect x="632.57" y="121.33" width="7.14" height="5.80" fill="#484864"/>
<rect x="639.66" y="121.33" width="7.14" height="5.80" fill="#5e617d"/>
<rect x="646.75" y="121.33" width="7.14" height="5.80" fill="#484863"/>
<rect x="653.84" y="121.33" width="7.14" height="5.80" fill="#a7c7c7"/>
<rect x="660.93" y="121.33" width="7.14" height="5.80" fill="#646a84"/>
<rect x="668.02" y="121.33" width="7.14" height="5.80" fill="#000000"/>
<rect x="675.11" y="121.33" width="7.14" height="5.80" fill="#50506f"/>
<rect x="682.20" y="121.33" width="7.14" height="5.80" fill="#262634"/>
<rect x="689.29" y="121.33" width="7.14" height="5.80" fill="#525271"/>
<rect x="696.38" y="121.33" width="7.14" height="5.80" fill="#6c758c"/>
<rect x="703.47" y="121.33" width="7.14" height="5.80" fill="#36364b"/>
<rect x="710.56" y="121.33" width="7.14" height="5.80" fill="#616681"/>
<rect x="717.65" y="121.33" width="7.14" height="5.80" fill="#2c2c3c"/>
<rect x="724.74" y="121.33" width="7.14" height="5.80" fill="#44445e"/>
<rect x="731.83" y="121.33" width="7.14" height="5.80" fill="#333347"/>
<rect x="738.92" y="121.33" width="7.14" height="5.80" fill="#a7c7c7"/>
<rect x="746.01" y="121.33" width="7.14" height="5.80" fill="#727d91"/>
<rect x="753.10" y="121.33" width="7.14" height="5.80" fill="#3c3c52"/>
<rect x="760.19" y="121.33" width="7.14" height="5.80" fill="#323245"/>
<rect x="767.28" y="121.33" width="7.14" height="5.80" fill="#4e4e6c"/>
<rect x="774.37" y="121.33" width="7.14" height="5.80" fill="#38384e"/>
<rect x="781.46" y="121.33" width="7.14" height="5.80" fill="#595b79"/>
<rect x="788.55" y="121.33" width="7.14" height="5.80" fill="#636983"/>
<rect x="795.64" y="121.33" width="7.14" height="5.80" fill="#768396"/>
<rect x="802.73" y="121.33" width="7.14" height="5.80" fill="#5a5c7a"/>
<rect x="809.82" y="121.33" width="7.14" height="5.80" fill="#292939"/>
<rect x="816.91" y="121.33" width="7.14" height="5.80" fill="#313144"/>
<rect x="824.00" y="121.33" width="7.14" height="5.80" fill="#5b5e7b"/>
<rect x="831.09" y="121.33" width="7.14" height="5.80" fill="#3f3f57"/>
<rect x="838.18" y="121.33" width="7.14" height="5.80" fill="#262634"/>
<rect x="845.27" y="121.33" width="7.14" height="5.80" fill="#313144"/>
<rect x="852.36" y="121.33" width="7.14" height="5.80" fill="#565776"/>
<rect x="859.45" y="121.33" width="7.14" height="5.80" fill="#50506e"/>
<rect x="866.54" y="121.33" width="7.14" height="5.80" fill="#889ca8"/>
<rect x="873.63" y="121.33" width="7.14" height="5.80" fill="#6d778d"/>
<rect x="880.72" y="121.33" width="7.14" height="5.80" fill="#889ca8"/>
<rect x="887.81" y="121.33" width="7.14" height="5.80" fill="#313144"/>
<rect x="894.90" y="121.33" width="7.14" height="5.80" fill="#50506f"/>
<rect x="901.99" y="121.33" width="7.14" height="5.80" fill="#778597"/>
<rect x="909.08" y="121.33" width="7.14" height="5.80" fill="#7d8d9d"/>
<rect x="916.17" y="121.33" width="7.14" height="5.80" fill="#3b3b52"/>
<rect x="923.26" y="121.33" width="7.14" height="5.80" fill="#535373"/>
<rect x="930.35" y="121.33" width="7.14" height="5.80" fill="#6a738a"/>
<rect x="937.44" y="121.33" width="7.14" height="5.80" fill="#7e8f9e"/>
<rect x="944.53" y="121.33" width="7.14" height="5.80" fill="#4a4a66"/>
<rect x="951.62" y="121.33" width="7.14" height="5.80" fill="#869aa6"/>
<rect x="958.71" y="121.33" width="7.14" height="5.80" fill="#8395a3"/>
<rect x="611.30" y="127.09" width="7.14" height="5.80" fill="#4a4a66"/>
<rect x="618.39" y="127.09" width="7.14" height="5.80" fill="#707b90"/>
<rect x="625.48" y="127.09" width="7.14" height="5.80" fill="#585a78"/>
<rect x="632.57" y="127.09" width="7.14" height="5.80" fill="#41415a"/>
<rect x="639.66" y="127.09" width="7.14" height="5.80" fill="#36364a"/>
<rect x="646.75" y="127.09" width="7.14" height="5.80" fill="#798798"/>
<rect x="653.84" y="127.09" width="7.14" height="5.80" fill="#a7c7c7"/>
<rect x="660.93" y="127.09" width="7.14" height="5.80" fill="#6c758c"/>
<rect x="668.02" y="127.09" width="7.14" height="5.80" fill="#50506f"/>
<rect x="675.11" y="127.09" width="7.14" height="5.80" fill="#000000"/>
<rect x="682.20" y="127.09" width="7.14" height="5.80" fill="#262634"/>
<rect x="689.29" y="127.09" width="7.14" height="5.80" fill="#262634"/>
<rect x="696.38" y="127.09" width="7.14" height="5.80" fill="#3b3b52"/>
<rect x="703.47" y="127.09" width="7.14" height="5.80" fill="#2d2d3e"/>
<rect x="710.56" y="127.09" width="7.14" height="5.80" fill="#585a78"/>
<rect x="717.65" y="127.09" width="7.14" height="5.80" fill="#3d3d54"/>
<rect x="724.74" y="127.09" width="7.14" height="5.80" fill="#6e788d"/>
<rect x="731.83" y="127.09" width="7.14" height="5.80" fill="#666c85"/>
<rect x="738.92" y="127.09" width="7.14" height="5.80" fill="#727e92"/>
<rect x="746.01" y="127.09" width="7.14" height="5.80" fill="#7e8e9e"/>
<rect x="753.10" y="127.09" width="7.14" height="5.80" fill="#707b90"/>
<rect x="760.19" y="127.09" width="7.14" height="5.80" fill="#4b4b67"/>
<rect x="767.28" y="127.09" width="7.14" height="5.80" fill="#353549"/>
<rect x="774.37" y="127.09" width="7.14" height="5.80" fill="#3e3e56"/>
<rect x="781.46" y="127.09" width="7.14" height="5.80" fill="#43435c"/>
<rect x="788.55" y="127.09" width="7.14" height="5.80" fill="#899da8"/>
<rect x="795.64" y="127.09" width="7.14" height="5.80" fill="#697189"/>
<rect x="802.73" y="127.09" width="7.14" height="5.80" fill="#343447"/>
<rect x="809.82" y="127.09" width="7.14" height="5.80" fill="#262634"/>
<rect x="816.91" y="127.09" width="7.14" height="5.80" fill="#3f3f57"/>
<rect x="824.00" y="127.09" width="7.14" height="5.80" fill="#717c91"/>
<rect x="831.09" y="127.09" width="7.14" height="5.80" fill="#484864"/>
<rect x="838.18" y="127.09" width="7.14" height="5.80" fill="#484864"/>
<rect x="845.27" y="127.09" width="7.14" height="5.80" fill="#3d3d54"/>
<rect x="852.36" y="127.09" width="7.14" height="5.80" fill="#5c5f7c"/>
<rect x="859.45" y="127.09" width="7.14" height="5.80" fill="#3f3f57"/>
<rect x="866.54" y="127.09" width="7.14" height="5.80" fill="#606580"/>
<rect x="873.63" y="127.09" width="7.14" height="5.80" fill="#7c8c9c"/>
<rect x="880.72" y="127.09" width="7.14" height="5.80" fill="#6b748b"/>
<rect x="887.81" y="127.09" width="7.14" height="5.80" fill="#39394f"/>
<rect x="894.90" y="127.09" width="7.14" height="5.80" fill="#565776"/>
<rect x="901.99" y="127.09" width="7.14" height="5.80" fill="#8395a3"/>
<rect x="909.08" y="127.09" width="7.14" height="5.80" fill="#8497a4"/>
<rect x="916.17" y="127.09" width="7.14" height="5.80" fill="#484864"/>
<rect x="923.26" y="127.09" width="7.14" height="5.80" fill="#2f2f41"/>
<rect x="930.35" y="127.09" width="7.14" height="5.80" fill="#565776"/>
<rect x="937.44" y="127.09" width="7.14" height="5.80" fill="#646a84"/>
<rect x="944.53" y="127.09" width="7.14" height="5.80" fill="#282837"/>
<rect x="951.62" y="127.09" width="7.14" height="5.80" fill="#5f647f"/>
<rect x="958.71" y="127.09" width="7.14" height="5.80" fill="#343448"/>
<rect x="611.30" y="132.84" width="7.14" height="5.80" fill="#555575"/>
<rect x="618.39" y="132.84" width="7.14" height="5.80" fill="#38384e"/>
<rect x="625.48" y="132.84" width="7.14" height="5.80" fill="#8293a2"/>
<rect x="632.57" y="132.84" width="7.14" height="5.80" fill="#3d3d54"/>
<rect x="639.66" y="132.84" width="7.14" height="5.80" fill="#748194"/>
<rect x="646.75" y="132.84" width="7.14" height="5.80" fill="#778497"/>
<rect x="653.84" y="132.84" width="7.14" height="5.80" fill="#899da9"/>
<rect x="660.93" y="132.84" width="7.14" height="5.80" fill="#7d8d9d"/>
<rect x="668.02" y="132.84" width="7.14" height="5.80" fill="#262634"/>
<rect x="675.11" y="132.84" width="7.14" height="5.80" fill="#262634"/>
<rect x="682.20" y="132.84" width="7.14" height="5.80" fill="#000000"/>
<rect x="689.29" y="132.84" width="7.14" height="5.80" fill="#262634"/>
<rect x="696.38" y="132.84" width="7.14" height="5.80" fill="#262634"/>
<rect x="703.47" y="132.84" width="7.14" height="5.80" fill="#4d4d6a"/>
<rect x="710.56" y="132.84" width="7.14" height="5.80" fill="#303043"/>
<rect x="717.65" y="132.84" width="7.14" height="5.80" fill="#575877"/>
<rect x="724.74" y="132.84" width="7.14" height="5.80" fill="#7d8d9d"/>
<rect x="731.83" y="132.84" width="7.14" height="5.80" fill="#5e627e"/>
<rect x="738.92" y="132.84" width="7.14" height="5.80" fill="#41415a"/>
<rect x="746.01" y="132.84" width="7.14" height="5.80" fill="#525271"/>
<rect x="753.10" y="132.84" width="7.14" height="5.80" fill="#758295"/>
<rect x="760.19" y="132.84" width="7.14" height="5.80" fill="#5e627e"/>
<rect x="767.28" y="132.84" width="7.14" height="5.80" fill="#535373"/>
<rect x="774.37" y="132.84" width="7.14" height="5.80" fill="#404058"/>
<rect x="781.46" y="132.84" width="7.14" height="5.80" fill="#4d4d6b"/>
<rect x="788.55" y="132.84" width="7.14" height="5.80" fill="#707b90"/>
<rect x="795.64" y="132.84" width="7.14" height="5.80" fill="#636983"/>
<rect x="802.73" y="132.84" width="7.14" height="5.80" fill="#37374c"/>
<rect x="809.82" y="132.84" width="7.14" height="5.80" fill="#585977"/>
<rect x="816.91" y="132.84" width="7.14" height="5.80" fill="#494965"/>
<rect x="824.00" y="132.84" width="7.14" height="5.80" fill="#697189"/>
<rect x="831.09" y="132.84" width="7.14" height="5.80" fill="#3a3a50"/>
<rect x="838.18" y="132.84" width="7.14" height="5.80" fill="#2f2f41"/>
<rect x="845.27" y="132.84" width="7.14" height="5.80" fill="#464661"/>
<rect x="852.36" y="132.84" width="7.14" height="5.80" fill="#565675"/>
<rect x="859.45" y="132.84" width="7.14" height="5.80" fill="#484863"/>
<rect x="866.54" y="132.84" width="7.14" height="5.80" fill="#41415a"/>
<rect x="873.63" y="132.84" width="7.14" height="5.80" fill="#6a728a"/>
<rect x="880.72" y="132.84" width="7.14" height="5.80" fill="#697189"/>
<rect x="887.81" y="132.84" width="7.14" height="5.80" fill="#7b8a9b"/>
<rect x="894.90" y="132.84" width="7.14" height="5.80" fill="#5b5e7b"/>
<rect x="901.99" y="132.84" width="7.14" height="5.80" fill="#8193a1"/>
<rect x="909.08" y="132.84" width="7.14" height="5.80" fill="#7d8d9d"/>
<rect x="916.17" y="132.84" width="7.14" height="5.80" fill="#646a83"/>
<rect x="923.26" y="132.84" width="7.14" height="5.80" fill="#5a5c7a"/>
<rect x="930.35" y="132.84" width="7.14" height="5.80" fill="#36364b"/>
<rect x="937.44" y="132.84" width="7.14" height="5.80" fill="#758295"/>
<rect x="944.53" y="132.84" width="7.14" height="5.80" fill="#44445e"/>
<rect x="951.62" y="132.84" width="7.14" height="5.80" fill="#535373"/>
<rect x="958.71" y="132.84" width="7.14" height="5.80" fill="#303042"/>
<rect x="611.30" y="138.59" width="7.14" height="5.80" fill="#717c90"/>
<rect x="618.39" y="138.59" width="7.14" height="5.80" fill="#5e627e"/>
<rect x="625.48" y="138.59" width="7.14" height="5.80" fill="#36364b"/>
<rect x="632.57" y="138.59" width="7.14" height="5.80" fill="#3e3e55"/>
<rect x="639.66" y="138.59" width="7.14" height="5.80" fill="#889ca8"/>
<rect x="646.75" y="138.59" width="7.14" height="5.80" fill="#788798"/>
<rect x="653.84" y="138.59" width="7.14" height="5.80" fill="#7d8d9d"/>
<rect x="660.93" y="138.59" width="7.14" height="5.80" fill="#6f7a8f"/>
<rect x="668.02" y="138.59" width="7.14" height="5.80" fill="#525271"/>
<rect x="675.11" y="138.59" width="7.14" height="5.80" fill="#262634"/>
<rect x="682.20" y="138.59" width="7.14" height="5.80" fill="#262634"/>
<rect x="689.29" y="138.59" width="7.14" height="5.80" fill="#000000"/>
<rect x="696.38" y="138.59" width="7.14" height="5.80" fill="#636882"/>
<rect x="703.47" y="138.59" width="7.14" height="5.80" fill="#2f2f41"/>
<rect x="710.56" y="138.59" width="7.14" height="5.80" fill="#626882"/>
<rect x="717.65" y="138.59" width="7.14" height="5.80" fill="#7b8a9b"/>
<rect x="724.74" y="138.59" width="7.14" height="5.80" fill="#7e8f9e"/>
<rect x="731.83" y="138.59" width="7.14" height="5.80" fill="#3f3f57"/>
<rect x="738.92" y="138.59" width="7.14" height="5.80" fill="#585a78"/>
<rect x="746.01" y="138.59" width="7.14" height="5.80" fill="#5d617d"/>
<rect x="753.10" y="138.59" width="7.14" height="5.80" fill="#697289"/>
<rect x="760.19" y="138.59" width="7.14" height="5.80" fill="#9ab5ba"/>
<rect x="767.28" y="138.59" width="7.14" height="5.80" fill="#5b5e7b"/>
<rect x="774.37" y="138.59" width="7.14" height="5.80" fill="#36364b"/>
<rect x="781.46" y="138.59" width="7.14" height="5.80" fill="#636983"/>
<rect x="788.55" y="138.59" width="7.14" height="5.80" fill="#6b738a"/>
<rect x="795.64" y="138.59" width="7.14" height="5.80" fill="#414159"/>
<rect x="802.73" y="138.59" width="7.14" height="5.80" fill="#535373"/>
<rect x="809.82" y="138.59" width="7.14" height="5.80" fill="#8193a1"/>
<rect x="816.91" y="138.59" width="7.14" height="5.80" fill="#494965"/>
<rect x="824.00" y="138.59" width="7.14" height="5.80" fill="#6f798f"/>
<rect x="831.09" y="138.59" width="7.14" height="5.80" fill="#4c4c69"/>
<rect x="838.18" y="138.59" width="7.14" height="5.80" fill="#45455f"/>
<rect x="845.27" y="138.59" width="7.14" height="5.80" fill="#4e4e6c"/>
<rect x="852.36" y="138.59" width="7.14" height="5.80" fill="#5b5d7b"/>
<rect x="859.45" y="138.59" width="7.14" height="5.80" fill="#303042"/>
<rect x="866.54" y="138.59" width="7.14" height="5.80" fill="#484863"/>
<rect x="873.63" y="138.59" width="7.14" height="5.80" fill="#7c8b9b"/>
<rect x="880.72" y="138.59" width="7.14" height="5.80" fill="#879aa7"/>
<rect x="887.81" y="138.59" width="7.14" height="5.80" fill="#42425c"/>
<rect x="894.90" y="138.59" width="7.14" height="5.80" fill="#404058"/>
<rect x="901.99" y="138.59" width="7.14" height="5.80" fill="#474762"/>
<rect x="909.08" y="138.59" width="7.14" height="5.80" fill="#5a5c7a"/>
<rect x="916.17" y="138.59" width="7.14" height="5.80" fill="#7b8a9b"/>
<rect x="923.26" y="138.59" width="7.14" height="5.80" fill="#6b748b"/>
<rect x="930.35" y="138.59" width="7.14" height="5.80" fill="#738093"/>
<rect x="937.44" y="138.59" width="7.14" height="5.80" fill="#7c8b9c"/>
<rect x="944.53" y="138.59" width="7.14" height="5.80" fill="#4e4e6c"/>
<rect x="951.62" y="138.59" width="7.14" height="5.80" fill="#768396"/>
<rect x="958.71" y="138.59" width="7.14" height="5.80" fill="#4b4b68"/>
<rect x="611.30" y="144.35" width="7.14" height="5.80" fill="#616681"/>
<rect x="618.39" y="144.35" width="7.14" height="5.80" fill="#50506f"/>
<rect x="625.48" y="144.35" width="7.14" height="5.80" fill="#262634"/>
<rect x="632.57" y="144.35" width="7.14" height="5.80" fill="#585977"/>
<rect x="639.66" y="144.35" width="7.14" height="5.80" fill="#a1bec0"/>
<rect x="646.75" y="144.35" width="7.14" height="5.80" fill="#6f798f"/>
<rect x="653.84" y="144.35" width="7.14" height="5.80" fill="#727d92"/>
<rect x="660.93" y="144.35" width="7.14" height="5.80" fill="#4b4b68"/>
<rect x="668.02" y="144.35" width="7.14" height="5.80" fill="#6c758c"/>
<rect x="675.11" y="144.35" width="7.14" height="5.80" fill="#3b3b52"/>
<rect x="682.20" y="144.35" width="7.14" height="5.80" fill="#262634"/>
<rect x="689.29" y="144.35" width="7.14" height="5.80" fill="#636882"/>
<rect x="696.38" y="144.35" width="7.14" height="5.80" fill="#000000"/>
<rect x="703.47" y="144.35" width="7.14" height="5.80" fill="#545474"/>
<rect x="710.56" y="144.35" width="7.14" height="5.80" fill="#748094"/>
<rect x="717.65" y="144.35" width="7.14" height="5.80" fill="#565776"/>
<rect x="724.74" y="144.35" width="7.14" height="5.80" fill="#748194"/>
<rect x="731.83" y="144.35" width="7.14" height="5.80" fill="#585a78"/>
<rect x="738.92" y="144.35" width="7.14" height="5.80" fill="#5f647f"/>
<rect x="746.01" y="144.35" width="7.14" height="5.80" fill="#5c607c"/>
<rect x="753.10" y="144.35" width="7.14" height="5.80" fill="#666d86"/>
<rect x="760.19" y="144.35" width="7.14" height="5.80" fill="#7c8b9c"/>
<rect x="767.28" y="144.35" width="7.14" height="5.80" fill="#8193a1"/>
<rect x="774.37" y="144.35" width="7.14" height="5.80" fill="#353549"/>
<rect x="781.46" y="144.35" width="7.14" height="5.80" fill="#37374c"/>
<rect x="788.55" y="144.35" width="7.14" height="5.80" fill="#4c4c68"/>
<rect x="795.64" y="144.35" width="7.14" height="5.80" fill="#8395a3"/>
<rect x="802.73" y="144.35" width="7.14" height="5.80" fill="#a5c4c5"/>
<rect x="809.82" y="144.35" width="7.14" height="5.80" fill="#7d8d9d"/>
<rect x="816.91" y="144.35" width="7.14" height="5.80" fill="#6c768c"/>
<rect x="824.00" y="144.35" width="7.14" height="5.80" fill="#626782"/>
<rect x="831.09" y="144.35" width="7.14" height="5.80" fill="#3c3c52"/>
<rect x="838.18" y="144.35" width="7.14" height="5.80" fill="#414159"/>
<rect x="845.27" y="144.35" width="7.14" height="5.80" fill="#5b5e7b"/>
<rect x="852.36" y="144.35" width="7.14" height="5.80" fill="#707a90"/>
<rect x="859.45" y="144.35" width="7.14" height="5.80" fill="#4b4b67"/>
<rect x="866.54" y="144.35" width="7.14" height="5.80" fill="#272736"/>
<rect x="873.63" y="144.35" width="7.14" height="5.80" fill="#494965"/>
<rect x="880.72" y="144.35" width="7.14" height="5.80" fill="#5c5e7b"/>
<rect x="887.81" y="144.35" width="7.14" height="5.80" fill="#636882"/>
<rect x="894.90" y="144.35" width="7.14" height="5.80" fill="#3e3e56"/>
<rect x="901.99" y="144.35" width="7.14" height="5.80" fill="#262634"/>
<rect x="909.08" y="144.35" width="7.14" height="5.80" fill="#565776"/>
<rect x="916.17" y="144.35" width="7.14" height="5.80" fill="#4e4e6c"/>
<rect x="923.26" y="144.35" width="7.14" height="5.80" fill="#37374c"/>
<rect x="930.35" y="144.35" width="7.14" height="5.80" fill="#45455f"/>
<rect x="937.44" y="144.35" width="7.14" height="5.80" fill="#4f4f6d"/>
<rect x="944.53" y="144.35" width="7.14" height="5.80" fill="#6f798f"/>
<rect x="951.62" y="144.35" width="7.14" height="5.80" fill="#90a7b0"/>
<rect x="958.71" y="144.35" width="7.14" height="5.80" fill="#5d617d"/>
<rect x="611.30" y="150.10" width="7.14" height="5.80" fill="#37374c"/>
<rect x="618.39" y="150.10" width="7.14" height="5.80" fill="#343448"/>
<rect x="625.48" y="150.10" width="7.14" height="5.80" fill="#768396"/>
<rect x="632.57" y="150.10" width="7.14" height="5.80" fill="#44445e"/>
<rect x="639.66" y="150.10" width="7.14" height="5.80" fill="#717d91"/>
<rect x="646.75" y="150.10" width="7.14" height="5.80" fill="#3a3a50"/>
<rect x="653.84" y="150.10" width="7.14" height="5.80" fill="#4b4b67"/>
<rect x="660.93" y="150.10" width="7.14" height="5.80" fill="#748094"/>
<rect x="668.02" y="150.10" width="7.14" height="5.80" fill="#36364b"/>
<rect x="675.11" y="150.10" width="7.14" height="5.80" fill="#2d2d3e"/>
<rect x="682.20" y="150.10" width="7.14" height="5.80" fill="#4d4d6a"/>
<rect x="689.29" y="150.10" width="7.14" height="5.80" fill="#2f2f41"/>
<rect x="696.38" y="150.10" width="7.14" height="5.80" fill="#545474"/>
<rect x="703.47" y="150.10" width="7.14" height="5.80" fill="#000000"/>
<rect x="710.56" y="150.10" width="7.14" height="5.80" fill="#7c8c9c"/>
<rect x="717.65" y="150.10" width="7.14" height="5.80" fill="#474762"/>
<rect x="724.74" y="150.10" width="7.14" height="5.80" fill="#4b4b67"/>
<rect x="731.83" y="150.10" width="7.14" height="5.80" fill="#36364b"/>
<rect x="738.92" y="150.10" width="7.14" height="5.80" fill="#585a78"/>
<rect x="746.01" y="150.10" width="7.14" height="5.80" fill="#768396"/>
<rect x="753.10" y="150.10" width="7.14" height="5.80" fill="#5e637e"/>
<rect x="760.19" y="150.10" width="7.14" height="5.80" fill="#575876"/>
<rect x="767.28" y="150.10" width="7.14" height="5.80" fill="#636983"/>
<rect x="774.37" y="150.10" width="7.14" height="5.80" fill="#464661"/>
<rect x="781.46" y="150.10" width="7.14" height="5.80" fill="#4f4f6d"/>
<rect x="788.55" y="150.10" width="7.14" height="5.80" fill="#5b5d7a"/>
<rect x="795.64" y="150.10" width="7.14" height="5.80" fill="#6e798e"/>
<rect x="802.73" y="150.10" width="7.14" height="5.80" fill="#94acb4"/>
<rect x="809.82" y="150.10" width="7.14" height="5.80" fill="#8ca1ac"/>
<rect x="816.91" y="150.10" width="7.14" height="5.80" fill="#636983"/>
<rect x="824.00" y="150.10" width="7.14" height="5.80" fill="#a1bec1"/>
<rect x="831.09" y="150.10" width="7.14" height="5.80" fill="#585a78"/>
<rect x="838.18" y="150.10" width="7.14" height="5.80" fill="#39394f"/>
<rect x="845.27" y="150.10" width="7.14" height="5.80" fill="#575877"/>
<rect x="852.36" y="150.10" width="7.14" height="5.80" fill="#5a5c7a"/>
<rect x="859.45" y="150.10" width="7.14" height="5.80" fill="#2d2d3f"/>
<rect x="866.54" y="150.10" width="7.14" height="5.80" fill="#484864"/>
<rect x="873.63" y="150.10" width="7.14" height="5.80" fill="#41415a"/>
<rect x="880.72" y="150.10" width="7.14" height="5.80" fill="#262634"/>
<rect x="887.81" y="150.10" width="7.14" height="5.80" fill="#5c5f7c"/>
<rect x="894.90" y="150.10" width="7.14" height="5.80" fill="#262634"/>
<rect x="901.99" y="150.10" width="7.14" height="5.80" fill="#626882"/>
<rect x="909.08" y="150.10" width="7.14" height="5.80" fill="#687088"/>
<rect x="916.17" y="150.10" width="7.14" height="5.80" fill="#585a78"/>
<rect x="923.26" y="150.10" width="7.14" height="5.80" fill="#404058"/>
<rect x="930.35" y="150.10" width="7.14" height="5.80" fill="#282837"/>
<rect x="937.44" y="150.10" width="7.14" height="5.80" fill="#3e3e55"/>
<rect x="944.53" y="150.10" width="7.14" height="5.80" fill="#5a5c7a"/>
<rect x="951.62" y="150.10" width="7.14" height="5.80" fill="#7c8b9c"/>
<rect x="958.71" y="150.10" width="7.14" height="5.80" fill="#646a84"/>
<rect x="611.30" y="155.86" width="7.14" height="5.80" fill="#3d3d54"/>
<rect x="618.39" y="155.86" width="7.14" height="5.80" fill="#95aeb5"/>
<rect x="625.48" y="155.86" width="7.14" height="5.80" fill="#a0bdc0"/>
<rect x="632.57" y="155.86" width="7.14" height="5.80" fill="#a7c7c7"/>
<rect x="639.66" y="155.86" width="7.14" height="5.80" fill="#7b8a9b"/>
<rect x="646.75" y="155.86" width="7.14" height="5.80" fill="#616681"/>
<rect x="653.84" y="155.86" width="7.14" height="5.80" fill="#9ebbbe"/>
<rect x="660.93" y="155.86" width="7.14" height="5.80" fill="#8394a2"/>
<rect x="668.02" y="155.86" width="7.14" height="5.80" fill="#616681"/>
<rect x="675.11" y="155.86" width="7.14" height="5.80" fill="#585a78"/>
<rect x="682.20" y="155.86" width="7.14" height="5.80" fill="#303043"/>
<rect x="689.29" y="155.86" width="7.14" height="5.80" fill="#626882"/>
<rect x="696.38" y="155.86" width="7.14" height="5.80" fill="#748094"/>
<rect x="703.47" y="155.86" width="7.14" height="5.80" fill="#7c8c9c"/>
<rect x="710.56" y="155.86" width="7.14" height="5.80" fill="#000000"/>
<rect x="717.65" y="155.86" width="7.14" height="5.80" fill="#7e8e9e"/>
<rect x="724.74" y="155.86" width="7.14" height="5.80" fill="#50506e"/>
<rect x="731.83" y="155.86" width="7.14" height="5.80" fill="#2c2c3d"/>
<rect x="738.92" y="155.86" width="7.14" height="5.80" fill="#5c5f7c"/>
<rect x="746.01" y="155.86" width="7.14" height="5.80" fill="#9ab5ba"/>
<rect x="753.10" y="155.86" width="7.14" height="5.80" fill="#404058"/>
<rect x="760.19" y="155.86" width="7.14" height="5.80" fill="#5c5f7c"/>
<rect x="767.28" y="155.86" width="7.14" height="5.80" fill="#6d768c"/>
<rect x="774.37" y="155.86" width="7.14" height="5.80" fill="#8a9faa"/>
<rect x="781.46" y="155.86" width="7.14" height="5.80" fill="#9bb6bb"/>
<rect x="788.55" y="155.86" width="7.14" height="5.80" fill="#8a9faa"/>
<rect x="795.64" y="155.86" width="7.14" height="5.80" fill="#8597a5"/>
<rect x="802.73" y="155.86" width="7.14" height="5.80" fill="#889ca8"/>
<rect x="809.82" y="155.86" width="7.14" height="5.80" fill="#7e8e9e"/>
<rect x="816.91" y="155.86" width="7.14" height="5.80" fill="#6f798f"/>
<rect x="824.00" y="155.86" width="7.14" height="5.80" fill="#a7c7c7"/>
<rect x="831.09" y="155.86" width="7.14" height="5.80" fill="#8fa6af"/>
<rect x="838.18" y="155.86" width="7.14" height="5.80" fill="#717c91"/>
<rect x="845.27" y="155.86" width="7.14" height="5.80" fill="#879ba7"/>
<rect x="852.36" y="155.86" width="7.14" height="5.80" fill="#8294a2"/>
<rect x="859.45" y="155.86" width="7.14" height="5.80" fill="#768396"/>
<rect x="866.54" y="155.86" width="7.14" height="5.80" fill="#738093"/>
<rect x="873.63" y="155.86" width="7.14" height="5.80" fill="#414159"/>
<rect x="880.72" y="155.86" width="7.14" height="5.80" fill="#6f798f"/>
<rect x="887.81" y="155.86" width="7.14" height="5.80" fill="#4a4a66"/>
<rect x="894.90" y="155.86" width="7.14" height="5.80" fill="#7b8a9b"/>
<rect x="901.99" y="155.86" width="7.14" height="5.80" fill="#7d8c9c"/>
<rect x="909.08" y="155.86" width="7.14" height="5.80" fill="#a7c7c7"/>
<rect x="916.17" y="155.86" width="7.14" height="5.80" fill="#4b4b67"/>
<rect x="923.26" y="155.86" width="7.14" height="5.80" fill="#778597"/>
<rect x="930.35" y="155.86" width="7.14" height="5.80" fill="#5c5f7c"/>
<rect x="937.44" y="155.86" width="7.14" height="5.80" fill="#727d92"/>
<rect x="944.53" y="155.86" width="7.14" height="5.80" fill="#889ba7"/>
<rect x="951.62" y="155.86" width="7.14" height="5.80" fill="#8598a5"/>
<rect x="958.71" y="155.86" width="7.14" height="5.80" fill="#6c768c"/>
<rect x="611.30" y="161.61" width="7.14" height="5.80" fill="#262634"/>
<rect x="618.39" y="161.61" width="7.14" height="5.80" fill="#5c5f7c"/>
<rect x="625.48" y="161.61" width="7.14" height="5.80" fill="#869aa6"/>
<rect x="632.57" y="161.61" width="7.14" height="5.80" fill="#a7c7c7"/>
<rect x="639.66" y="161.61" width="7.14" height="5.80" fill="#95aeb5"/>
<rect x="646.75" y="161.61" width="7.14" height="5.80" fill="#484864"/>
<rect x="653.84" y="161.61" width="7.14" height="5.80" fill="#758295"/>
<rect x="660.93" y="161.61" width="7.14" height="5.80" fill="#7b8a9b"/>
<rect x="668.02" y="161.61" width="7.14" height="5.80" fill="#2c2c3c"/>
<rect x="675.11" y="161.61" width="7.14" height="5.80" fill="#3d3d54"/>
<rect x="682.20" y="161.61" width="7.14" height="5.80" fill="#575877"/>
<rect x="689.29" y="161.61" width="7.14" height="5.80" fill="#7b8a9b"/>
<rect x="696.38" y="161.61" width="7.14" height="5.80" fill="#565776"/>
<rect x="703.47" y="161.61" width="7.14" height="5.80" fill="#474762"/>
<rect x="710.56" y="161.61" width="7.14" height="5.80" fill="#7e8e9e"/>
<rect x="717.65" y="161.61" width="7.14" height="5.80" fill="#000000"/>
<rect x="724.74" y="161.61" width="7.14" height="5.80" fill="#262634"/>
<rect x="731.83" y="161.61" width="7.14" height="5.80" fill="#282837"/>
<rect x="738.92" y="161.61" width="7.14" height="5.80" fill="#707b90"/>
<rect x="746.01" y="161.61" width="7.14" height="5.80" fill="#525271"/>
<rect x="753.10" y="161.61" width="7.14" height="5.80" fill="#545574"/>
<rect x="760.19" y="161.61" width="7.14" height="5.80" fill="#42425b"/>
<rect x="767.28" y="161.61" width="7.14" height="5.80" fill="#39394f"/>
<rect x="774.37" y="161.61" width="7.14" height="5.80" fill="#98b2b8"/>
<rect x="781.46" y="161.61" width="7.14" height="5.80" fill="#515170"/>
<rect x="788.55" y="161.61" width="7.14" height="5.80" fill="#3c3c53"/>
<rect x="795.64" y="161.61" width="7.14" height="5.80" fill="#9ab4b9"/>
<rect x="802.73" y="161.61" width="7.14" height="5.80" fill="#8294a2"/>
<rect x="809.82" y="161.61" width="7.14" height="5.80" fill="#323245"/>
<rect x="816.91" y="161.61" width="7.14" height="5.80" fill="#45455f"/>
<rect x="824.00" y="161.61" width="7.14" height="5.80" fill="#99b4b9"/>
<rect x="831.09" y="161.61" width="7.14" height="5.80" fill="#2e2e3f"/>
<rect x="838.18" y="161.61" width="7.14" height="5.80" fill="#575877"/>
<rect x="845.27" y="161.61" width="7.14" height="5.80" fill="#4f4f6d"/>
<rect x="852.36" y="161.61" width="7.14" height="5.80" fill="#262634"/>
<rect x="859.45" y="161.61" width="7.14" height="5.80" fill="#36364a"/>
<rect x="866.54" y="161.61" width="7.14" height="5.80" fill="#262634"/>
<rect x="873.63" y="161.61" width="7.14" height="5.80" fill="#292939"/>
<rect x="880.72" y="161.61" width="7.14" height="5.80" fill="#616681"/>
<rect x="887.81" y="161.61" width="7.14" height="5.80" fill="#6e788e"/>
<rect x="894.90" y="161.61" width="7.14" height="5.80" fill="#50506e"/>
<rect x="901.99" y="161.61" width="7.14" height="5.80" fill="#7e8e9e"/>
<rect x="909.08" y="161.61" width="7.14" height="5.80" fill="#788698"/>
<rect x="916.17" y="161.61" width="7.14" height="5.80" fill="#5e627e"/>
<rect x="923.26" y="161.61" width="7.14" height="5.80" fill="#6d778d"/>
<rect x="930.35" y="161.61" width="7.14" height="5.80" fill="#6d768c"/>
<rect x="937.44" y="161.61" width="7.14" height="5.80" fill="#515170"/>
<rect x="944.53" y="161.61" width="7.14" height="5.80" fill="#5a5d7a"/>
<rect x="951.62" y="161.61" width="7.14" height="5.80" fill="#555575"/>
<rect x="958.71" y="161.61" width="7.14" height="5.80" fill="#262634"/>
<rect x="611.30" y="167.36" width="7.14" height="5.80" fill="#5b5d7b"/>
<rect x="618.39" y="167.36" width="7.14" height="5.80" fill="#404058"/>
<rect x="625.48" y="167.36" width="7.14" height="5.80" fill="#5e627e"/>
<rect x="632.57" y="167.36" width="7.14" height="5.80" fill="#96b0b6"/>
<rect x="639.66" y="167.36" width="7.14" height="5.80" fill="#6c758c"/>
<rect x="646.75" y="167.36" width="7.14" height="5.80" fill="#6d778d"/>
<rect x="653.84" y="167.36" width="7.14" height="5.80" fill="#626882"/>
<rect x="660.93" y="167.36" width="7.14" height="5.80" fill="#3c3c53"/>
<rect x="668.02" y="167.36" width="7.14" height="5.80" fill="#44445e"/>
<rect x="675.11" y="167.36" width="7.14" height="5.80" fill="#6e788d"/>
<rect x="682.20" y="167.36" width="7.14" height="5.80" fill="#7d8d9d"/>
<rect x="689.29" y="167.36" width="7.14" height="5.80" fill="#7e8f9e"/>
<rect x="696.38" y="167.36" width="7.14" height="5.80" fill="#748194"/>
<rect x="703.47" y="167.36" width="7.14" height="5.80" fill="#4b4b67"/>
<rect x="710.56" y="167.36" width="7.14" height="5.80" fill="#50506e"/>
<rect x="717.65" y="167.36" width="7.14" height="5.80" fill="#262634"/>
<rect x="724.74" y="167.36" width="7.14" height="5.80" fill="#000000"/>
<rect x="731.83" y="167.36" width="7.14" height="5.80" fill="#575877"/>
<rect x="738.92" y="167.36" width="7.14" height="5.80" fill="#6c768c"/>
<rect x="746.01" y="167.36" width="7.14" height="5.80" fill="#6d768d"/>
<rect x="753.10" y="167.36" width="7.14" height="5.80" fill="#737f93"/>
<rect x="760.19" y="167.36" width="7.14" height="5.80" fill="#636883"/>
<rect x="767.28" y="167.36" width="7.14" height="5.80" fill="#788698"/>
<rect x="774.37" y="167.36" width="7.14" height="5.80" fill="#727d92"/>
<rect x="781.46" y="167.36" width="7.14" height="5.80" fill="#95aeb5"/>
<rect x="788.55" y="167.36" width="7.14" height="5.80" fill="#707b90"/>
<rect x="795.64" y="167.36" width="7.14" height="5.80" fill="#4f4f6d"/>
<rect x="802.73" y="167.36" width="7.14" height="5.80" fill="#313143"/>
<rect x="809.82" y="167.36" width="7.14" height="5.80" fill="#37374c"/>
<rect x="816.91" y="167.36" width="7.14" height="5.80" fill="#6e788e"/>
<rect x="824.00" y="167.36" width="7.14" height="5.80" fill="#99b4b9"/>
<rect x="831.09" y="167.36" width="7.14" height="5.80" fill="#2f2f42"/>
<rect x="838.18" y="167.36" width="7.14" height="5.80" fill="#303042"/>
<rect x="845.27" y="167.36" width="7.14" height="5.80" fill="#5f637f"/>
<rect x="852.36" y="167.36" width="7.14" height="5.80" fill="#4d4d6a"/>
<rect x="859.45" y="167.36" width="7.14" height="5.80" fill="#575977"/>
<rect x="866.54" y="167.36" width="7.14" height="5.80" fill="#262634"/>
<rect x="873.63" y="167.36" width="7.14" height="5.80" fill="#474762"/>
<rect x="880.72" y="167.36" width="7.14" height="5.80" fill="#5a5c7a"/>
<rect x="887.81" y="167.36" width="7.14" height="5.80" fill="#717c91"/>
<rect x="894.90" y="167.36" width="7.14" height="5.80" fill="#697188"/>
<rect x="901.99" y="167.36" width="7.14" height="5.80" fill="#36364b"/>
<rect x="909.08" y="167.36" width="7.14" height="5.80" fill="#36364b"/>
<rect x="916.17" y="167.36" width="7.14" height="5.80" fill="#707b90"/>
<rect x="923.26" y="167.36" width="7.14" height="5.80" fill="#6b748b"/>
<rect x="930.35" y="167.36" width="7.14" height="5.80" fill="#535372"/>
<rect x="937.44" y="167.36" width="7.14" height="5.80" fill="#676e86"/>
<rect x="944.53" y="167.36" width="7.14" height="5.80" fill="#3e3e55"/>
<rect x="951.62" y="167.36" width="7.14" height="5.80" fill="#51516f"/>
<rect x="958.71" y="167.36" width="7.14" height="5.80" fill="#535372"/>
<rect x="611.30" y="173.12" width="7.14" height="5.80" fill="#687088"/>
<rect x="618.39" y="173.12" width="7.14" height="5.80" fill="#5c5f7c"/>
<rect x="625.48" y="173.12" width="7.14" height="5.80" fill="#575977"/>
<rect x="632.57" y="173.12" width="7.14" height="5.80" fill="#a1bec1"/>
<rect x="639.66" y="173.12" width="7.14" height="5.80" fill="#97b1b7"/>
<rect x="646.75" y="173.12" width="7.14" height="5.80" fill="#595b79"/>
<rect x="653.84" y="173.12" width="7.14" height="5.80" fill="#7b8a9b"/>
<rect x="660.93" y="173.12" width="7.14" height="5.80" fill="#535373"/>
<rect x="668.02" y="173.12" width="7.14" height="5.80" fill="#333347"/>
<rect x="675.11" y="173.12" width="7.14" height="5.80" fill="#666c85"/>
<rect x="682.20" y="173.12" width="7.14" height="5.80" fill="#5e627e"/>
<rect x="689.29" y="173.12" width="7.14" height="5.80" fill="#3f3f57"/>
<rect x="696.38" y="173.12" width="7.14" height="5.80" fill="#585a78"/>
<rect x="703.47" y="173.12" width="7.14" height="5.80" fill="#36364b"/>
<rect x="710.56" y="173.12" width="7.14" height="5.80" fill="#2c2c3d"/>
<rect x="717.65" y="173.12" width="7.14" height="5.80" fill="#282837"/>
<rect x="724.74" y="173.12" width="7.14" height="5.80" fill="#575877"/>
<rect x="731.83" y="173.12" width="7.14" height="5.80" fill="#000000"/>
<rect x="738.92" y="173.12" width="7.14" height="5.80" fill="#758295"/>
<rect x="746.01" y="173.12" width="7.14" height="5.80" fill="#5a5d7a"/>
<rect x="753.10" y="173.12" width="7.14" height="5.80" fill="#5c5f7b"/>
<rect x="760.19" y="173.12" width="7.14" height="5.80" fill="#676f87"/>
<rect x="767.28" y="173.12" width="7.14" height="5.80" fill="#39394f"/>
<rect x="774.37" y="173.12" width="7.14" height="5.80" fill="#42425b"/>
<rect x="781.46" y="173.12" width="7.14" height="5.80" fill="#4a4a66"/>
<rect x="788.55" y="173.12" width="7.14" height="5.80" fill="#4f4f6d"/>
<rect x="795.64" y="173.12" width="7.14" height="5.80" fill="#4f4f6e"/>
<rect x="802.73" y="173.12" width="7.14" height="5.80" fill="#404059"/>
<rect x="809.82" y="173.12" width="7.14" height="5.80" fill="#484864"/>
<rect x="816.91" y="173.12" width="7.14" height="5.80" fill="#484864"/>
<rect x="824.00" y="173.12" width="7.14" height="5.80" fill="#484864"/>
<rect x="831.09" y="173.12" width="7.14" height="5.80" fill="#545474"/>
<rect x="838.18" y="173.12" width="7.14" height="5.80" fill="#575977"/>
<rect x="845.27" y="173.12" width="7.14" height="5.80" fill="#2e2e40"/>
<rect x="852.36" y="173.12" width="7.14" height="5.80" fill="#323245"/>
<rect x="859.45" y="173.12" width="7.14" height="5.80" fill="#282837"/>
<rect x="866.54" y="173.12" width="7.14" height="5.80" fill="#3d3d55"/>
<rect x="873.63" y="173.12" width="7.14" height="5.80" fill="#262634"/>
<rect x="880.72" y="173.12" width="7.14" height="5.80" fill="#707b90"/>
<rect x="887.81" y="173.12" width="7.14" height="5.80" fill="#5a5c7a"/>
<rect x="894.90" y="173.12" width="7.14" height="5.80" fill="#555575"/>
<rect x="901.99" y="173.12" width="7.14" height="5.80" fill="#3b3b52"/>
<rect x="909.08" y="173.12" width="7.14" height="5.80" fill="#2b2b3b"/>
<rect x="916.17" y="173.12" width="7.14" height="5.80" fill="#474763"/>
<rect x="923.26" y="173.12" width="7.14" height="5.80" fill="#36364a"/>
<rect x="930.35" y="173.12" width="7.14" height="5.80" fill="#343448"/>
<rect x="937.44" y="173.12" width="7.14" height="5.80" fill="#262634"/>
<rect x="944.53" y="173.12" width="7.14" height="5.80" fill="#353549"/>
<rect x="951.62" y="173.12" width="7.14" height="5.80" fill="#8597a4"/>
<rect x="958.71" y="173.12" width="7.14" height="5.80" fill="#535373"/>
<rect x="611.30" y="178.87" width="7.14" height="5.80" fill="#686f88"/>
<rect x="618.39" y="178.87" width="7.14" height="5.80" fill="#616681"/>
<rect x="625.48" y="178.87" width="7.14" height="5.80" fill="#737f93"/>
<rect x="632.57" y="178.87" width="7.14" height="5.80" fill="#798799"/>
<rect x="639.66" y="178.87" width="7.14" height="5.80" fill="#a6c6c6"/>
<rect x="646.75" y="178.87" width="7.14" height="5.80" fill="#7b8a9b"/>
<rect x="653.84" y="178.87" width="7.14" height="5.80" fill="#798799"/>
<rect x="660.93" y="178.87" width="7.14" height="5.80" fill="#404058"/>
<rect x="668.02" y="178.87" width="7.14" height="5.80" fill="#a7c7c7"/>
<rect x="675.11" y="178.87" width="7.14" height="5.80" fill="#727e92"/>
<rect x="682.20" y="178.87" width="7.14" height="5.80" fill="#41415a"/>
<rect x="689.29" y="178.87" width="7.14" height="5.80" fill="#585a78"/>
<rect x="696.38" y="178.87" width="7.14" height="5.80" fill="#5f647f"/>
<rect x="703.47" y="178.87" width="7.14" height="5.80" fill="#585a78"/>
<rect x="710.56" y="178.87" width="7.14" height="5.80" fill="#5c5f7c"/>
<rect x="717.65" y="178.87" width="7.14" height="5.80" fill="#707b90"/>
<rect x="724.74" y="178.87" width="7.14" height="5.80" fill="#6c768c"/>
<rect x="731.83" y="178.87" width="7.14" height="5.80" fill="#758295"/>
<rect x="738.92" y="178.87" width="7.14" height="5.80" fill="#000000"/>
<rect x="746.01" y="178.87" width="7.14" height="5.80" fill="#6d778d"/>
<rect x="753.10" y="178.87" width="7.14" height="5.80" fill="#7c8c9c"/>
<rect x="760.19" y="178.87" width="7.14" height="5.80" fill="#6c758c"/>
<rect x="767.28" y="178.87" width="7.14" height="5.80" fill="#343448"/>
<rect x="774.37" y="178.87" width="7.14" height="5.80" fill="#6d778d"/>
<rect x="781.46" y="178.87" width="7.14" height="5.80" fill="#8fa5ae"/>
<rect x="788.55" y="178.87" width="7.14" height="5.80" fill="#94adb4"/>
<rect x="795.64" y="178.87" width="7.14" height="5.80" fill="#727e92"/>
<rect x="802.73" y="178.87" width="7.14" height="5.80" fill="#717d91"/>
<rect x="809.82" y="178.87" width="7.14" height="5.80" fill="#788698"/>
<rect x="816.91" y="178.87" width="7.14" height="5.80" fill="#5c5f7c"/>
<rect x="824.00" y="178.87" width="7.14" height="5.80" fill="#899ea9"/>
<rect x="831.09" y="178.87" width="7.14" height="5.80" fill="#8395a3"/>
<rect x="838.18" y="178.87" width="7.14" height="5.80" fill="#6f798f"/>
<rect x="845.27" y="178.87" width="7.14" height="5.80" fill="#6e788e"/>
<rect x="852.36" y="178.87" width="7.14" height="5.80" fill="#778597"/>
<rect x="859.45" y="178.87" width="7.14" height="5.80" fill="#6c758c"/>
<rect x="866.54" y="178.87" width="7.14" height="5.80" fill="#6f7a8f"/>
<rect x="873.63" y="178.87" width="7.14" height="5.80" fill="#43435d"/>
<rect x="880.72" y="178.87" width="7.14" height="5.80" fill="#42425b"/>
<rect x="887.81" y="178.87" width="7.14" height="5.80" fill="#6e788e"/>
<rect x="894.90" y="178.87" width="7.14" height="5.80" fill="#616681"/>
<rect x="901.99" y="178.87" width="7.14" height="5.80" fill="#95adb5"/>
<rect x="909.08" y="178.87" width="7.14" height="5.80" fill="#676e87"/>
<rect x="916.17" y="178.87" width="7.14" height="5.80" fill="#5e627e"/>
<rect x="923.26" y="178.87" width="7.14" height="5.80" fill="#748093"/>
<rect x="930.35" y="178.87" width="7.14" height="5.80" fill="#4b4b68"/>
<rect x="937.44" y="178.87" width="7.14" height="5.80" fill="#43435d"/>
<rect x="944.53" y="178.87" width="7.14" height="5.80" fill="#646a84"/>
<rect x="951.62" y="178.87" width="7.14" height="5.80" fill="#899ea9"/>
<rect x="958.71" y="178.87" width="7.14" height="5.80" fill="#646a84"/>
<rect x="611.30" y="184.63" width="7.14" height="5.80" fill="#595b79"/>
<rect x="618.39" y="184.63" width="7.14" height="5.80" fill="#4e4e6c"/>
<rect x="625.48" y="184.63" width="7.14" height="5.80" fill="#7f8f9f"/>
<rect x="632.57" y="184.63" width="7.14" height="5.80" fill="#6c758c"/>
<rect x="639.66" y="184.63" width="7.14" height="5.80" fill="#707b90"/>
<rect x="646.75" y="184.63" width="7.14" height="5.80" fill="#8497a4"/>
<rect x="653.84" y="184.63" width="7.14" height="5.80" fill="#a7c7c7"/>
<rect x="660.93" y="184.63" width="7.14" height="5.80" fill="#717c91"/>
<rect x="668.02" y="184.63" width="7.14" height="5.80" fill="#727d91"/>
<rect x="675.11" y="184.63" width="7.14" height="5.80" fill="#7e8e9e"/>
<rect x="682.20" y="184.63" width="7.14" height="5.80" fill="#525271"/>
<rect x="689.29" y="184.63" width="7.14" height="5.80" fill="#5d617d"/>
<rect x="696.38" y="184.63" width="7.14" height="5.80" fill="#5c607c"/>
<rect x="703.47" y="184.63" width="7.14" height="5.80" fill="#768396"/>
<rect x="710.56" y="184.63" width="7.14" height="5.80" fill="#9ab5ba"/>
<rect x="717.65" y="184.63" width="7.14" height="5.80" fill="#525271"/>
<rect x="724.74" y="184.63" width="7.14" height="5.80" fill="#6d768d"/>
<rect x="731.83" y="184.63" width="7.14" height="5.80" fill="#5a5d7a"/>
<rect x="738.92" y="184.63" width="7.14" height="5.80" fill="#6d778d"/>
<rect x="746.01" y="184.63" width="7.14" height="5.80" fill="#000000"/>
<rect x="753.10" y="184.63" width="7.14" height="5.80" fill="#676e87"/>
<rect x="760.19" y="184.63" width="7.14" height="5.80" fill="#707b90"/>
<rect x="767.28" y="184.63" width="7.14" height="5.80" fill="#4e4e6c"/>
<rect x="774.37" y="184.63" width="7.14" height="5.80" fill="#6e798e"/>
<rect x="781.46" y="184.63" width="7.14" height="5.80" fill="#606580"/>
<rect x="788.55" y="184.63" width="7.14" height="5.80" fill="#8ea4ae"/>
<rect x="795.64" y="184.63" width="7.14" height="5.80" fill="#6c768c"/>
<rect x="802.73" y="184.63" width="7.14" height="5.80" fill="#37374c"/>
<rect x="809.82" y="184.63" width="7.14" height="5.80" fill="#50506f"/>
<rect x="816.91" y="184.63" width="7.14" height="5.80" fill="#323246"/>
<rect x="824.00" y="184.63" width="7.14" height="5.80" fill="#6b748b"/>
<rect x="831.09" y="184.63" width="7.14" height="5.80" fill="#6b748b"/>
<rect x="838.18" y="184.63" width="7.14" height="5.80" fill="#494965"/>
<rect x="845.27" y="184.63" width="7.14" height="5.80" fill="#515170"/>
<rect x="852.36" y="184.63" width="7.14" height="5.80" fill="#38384d"/>
<rect x="859.45" y="184.63" width="7.14" height="5.80" fill="#37374b"/>
<rect x="866.54" y="184.63" width="7.14" height="5.80" fill="#474762"/>
<rect x="873.63" y="184.63" width="7.14" height="5.80" fill="#525271"/>
<rect x="880.72" y="184.63" width="7.14" height="5.80" fill="#4e4e6b"/>
<rect x="887.81" y="184.63" width="7.14" height="5.80" fill="#6e788e"/>
<rect x="894.90" y="184.63" width="7.14" height="5.80" fill="#4e4e6c"/>
<rect x="901.99" y="184.63" width="7.14" height="5.80" fill="#404058"/>
<rect x="909.08" y="184.63" width="7.14" height="5.80" fill="#636983"/>
<rect x="916.17" y="184.63" width="7.14" height="5.80" fill="#42425c"/>
<rect x="923.26" y="184.63" width="7.14" height="5.80" fill="#7a899a"/>
<rect x="930.35" y="184.63" width="7.14" height="5.80" fill="#44445d"/>
<rect x="937.44" y="184.63" width="7.14" height="5.80" fill="#686f88"/>
<rect x="944.53" y="184.63" width="7.14" height="5.80" fill="#606580"/>
<rect x="951.62" y="184.63" width="7.14" height="5.80" fill="#6b748b"/>
<rect x="958.71" y="184.63" width="7.14" height="5.80" fill="#6a7289"/>
<rect x="611.30" y="190.38" width="7.14" height="5.80" fill="#656c85"/>
<rect x="618.39" y="190.38" width="7.14" height="5.80" fill="#758295"/>
<rect x="625.48" y="190.38" width="7.14" height="5.80" fill="#3a3a51"/>
<rect x="632.57" y="190.38" width="7.14" height="5.80" fill="#676e87"/>
<rect x="639.66" y="190.38" width="7.14" height="5.80" fill="#9db8bd"/>
<rect x="646.75" y="190.38" width="7.14" height="5.80" fill="#687088"/>
<rect x="653.84" y="190.38" width="7.14" height="5.80" fill="#a7c7c7"/>
<rect x="660.93" y="190.38" width="7.14" height="5.80" fill="#8294a2"/>
<rect x="668.02" y="190.38" width="7.14" height="5.80" fill="#3c3c52"/>
<rect x="675.11" y="190.38" width="7.14" height="5.80" fill="#707b90"/>
<rect x="682.20" y="190.38" width="7.14" height="5.80" fill="#758295"/>
<rect x="689.29" y="190.38" width="7.14" height="5.80" fill="#697289"/>
<rect x="696.38" y="190.38" width="7.14" height="5.80" fill="#666d86"/>
<rect x="703.47" y="190.38" width="7.14" height="5.80" fill="#5e637e"/>
<rect x="710.56" y="190.38" width="7.14" height="5.80" fill="#404058"/>
<rect x="717.65" y="190.38" width="7.14" height="5.80" fill="#545574"/>
<rect x="724.74" y="190.38" width="7.14" height="5.80" fill="#737f93"/>
<rect x="731.83" y="190.38" width="7.14" height="5.80" fill="#5c5f7b"/>
<rect x="738.92" y="190.38" width="7.14" height="5.80" fill="#7c8c9c"/>
<rect x="746.01" y="190.38" width="7.14" height="5.80" fill="#676e87"/>
<rect x="753.10" y="190.38" width="7.14" height="5.80" fill="#000000"/>
<rect x="760.19" y="190.38" width="7.14" height="5.80" fill="#303043"/>
<rect x="767.28" y="190.38" width="7.14" height="5.80" fill="#4c4c69"/>
<rect x="774.37" y="190.38" width="7.14" height="5.80" fill="#4c4c68"/>
<rect x="781.46" y="190.38" width="7.14" height="5.80" fill="#555675"/>
<rect x="788.55" y="190.38" width="7.14" height="5.80" fill="#5f647f"/>
<rect x="795.64" y="190.38" width="7.14" height="5.80" fill="#535373"/>
<rect x="802.73" y="190.38" width="7.14" height="5.80" fill="#262634"/>
<rect x="809.82" y="190.38" width="7.14" height="5.80" fill="#42425b"/>
<rect x="816.91" y="190.38" width="7.14" height="5.80" fill="#2b2b3c"/>
<rect x="824.00" y="190.38" width="7.14" height="5.80" fill="#636983"/>
<rect x="831.09" y="190.38" width="7.14" height="5.80" fill="#6a728a"/>
<rect x="838.18" y="190.38" width="7.14" height="5.80" fill="#535373"/>
<rect x="845.27" y="190.38" width="7.14" height="5.80" fill="#4e4e6b"/>
<rect x="852.36" y="190.38" width="7.14" height="5.80" fill="#707b90"/>
<rect x="859.45" y="190.38" width="7.14" height="5.80" fill="#646b84"/>
<rect x="866.54" y="190.38" width="7.14" height="5.80" fill="#626782"/>
<rect x="873.63" y="190.38" width="7.14" height="5.80" fill="#43435d"/>
<rect x="880.72" y="190.38" width="7.14" height="5.80" fill="#474762"/>
<rect x="887.81" y="190.38" width="7.14" height="5.80" fill="#43435d"/>
<rect x="894.90" y="190.38" width="7.14" height="5.80" fill="#555574"/>
<rect x="901.99" y="190.38" width="7.14" height="5.80" fill="#4e4e6b"/>
<rect x="909.08" y="190.38" width="7.14" height="5.80" fill="#7e8e9e"/>
<rect x="916.17" y="190.38" width="7.14" height="5.80" fill="#39394f"/>
<rect x="923.26" y="190.38" width="7.14" height="5.80" fill="#585978"/>
<rect x="930.35" y="190.38" width="7.14" height="5.80" fill="#7a889a"/>
<rect x="937.44" y="190.38" width="7.14" height="5.80" fill="#464661"/>
<rect x="944.53" y="190.38" width="7.14" height="5.80" fill="#535372"/>
<rect x="951.62" y="190.38" width="7.14" height="5.80" fill="#8a9eaa"/>
<rect x="958.71" y="190.38" width="7.14" height="5.80" fill="#39394e"/>
<rect x="611.30" y="196.13" width="7.14" height="5.80" fill="#4b4b68"/>
<rect x="618.39" y="196.13" width="7.14" height="5.80" fill="#666d86"/>
<rect x="625.48" y="196.13" width="7.14" height="5.80" fill="#5a5c7a"/>
<rect x="632.57" y="196.13" width="7.14" height="5.80" fill="#889ca8"/>
<rect x="639.66" y="196.13" width="7.14" height="5.80" fill="#656b85"/>
<rect x="646.75" y="196.13" width="7.14" height="5.80" fill="#585a78"/>
<rect x="653.84" y="196.13" width="7.14" height="5.80" fill="#737f93"/>
<rect x="660.93" y="196.13" width="7.14" height="5.80" fill="#303042"/>
<rect x="668.02" y="196.13" width="7.14" height="5.80" fill="#323245"/>
<rect x="675.11" y="196.13" width="7.14" height="5.80" fill="#4b4b67"/>
<rect x="682.20" y="196.13" width="7.14" height="5.80" fill="#5e627e"/>
<rect x="689.29" y="196.13" width="7.14" height="5.80" fill="#9ab5ba"/>
<rect x="696.38" y="196.13" width="7.14" height="5.80" fill="#7c8b9c"/>
<rect x="703.47" y="196.13" width="7.14" height="5.80" fill="#575876"/>
<rect x="710.56" y="196.13" width="7.14" height="5.80" fill="#5c5f7c"/>
<rect x="717.65" y="196.13" width="7.14" height="5.80" fill="#42425b"/>
<rect x="724.74" y="196.13" width="7.14" height="5.80" fill="#636883"/>
<rect x="731.83" y="196.13" width="7.14" height="5.80" fill="#676f87"/>
<rect x="738.92" y="196.13" width="7.14" height="5.80" fill="#6c758c"/>
<rect x="746.01" y="196.13" width="7.14" height="5.80" fill="#707b90"/>
<rect x="753.10" y="196.13" width="7.14" height="5.80" fill="#303043"/>
<rect x="760.19" y="196.13" width="7.14" height="5.80" fill="#000000"/>
<rect x="767.28" y="196.13" width="7.14" height="5.80" fill="#585a78"/>
<rect x="774.37" y="196.13" width="7.14" height="5.80" fill="#333347"/>
<rect x="781.46" y="196.13" width="7.14" height="5.80" fill="#39394f"/>
<rect x="788.55" y="196.13" width="7.14" height="5.80" fill="#262635"/>
<rect x="795.64" y="196.13" width="7.14" height="5.80" fill="#575877"/>
<rect x="802.73" y="196.13" width="7.14" height="5.80" fill="#4e4e6c"/>
<rect x="809.82" y="196.13" width="7.14" height="5.80" fill="#262634"/>
<rect x="816.91" y="196.13" width="7.14" height="5.80" fill="#353549"/>
<rect x="824.00" y="196.13" width="7.14" height="5.80" fill="#93abb3"/>
<rect x="831.09" y="196.13" width="7.14" height="5.80" fill="#626781"/>
<rect x="838.18" y="196.13" width="7.14" height="5.80" fill="#50506f"/>
<rect x="845.27" y="196.13" width="7.14" height="5.80" fill="#595c79"/>
<rect x="852.36" y="196.13" width="7.14" height="5.80" fill="#606580"/>
<rect x="859.45" y="196.13" width="7.14" height="5.80" fill="#4c4c69"/>
<rect x="866.54" y="196.13" width="7.14" height="5.80" fill="#626782"/>
<rect x="873.63" y="196.13" width="7.14" height="5.80" fill="#36364b"/>
<rect x="880.72" y="196.13" width="7.14" height="5.80" fill="#585a78"/>
<rect x="887.81" y="196.13" width="7.14" height="5.80" fill="#5b5e7b"/>
<rect x="894.90" y="196.13" width="7.14" height="5.80" fill="#5c5f7c"/>
<rect x="901.99" y="196.13" width="7.14" height="5.80" fill="#494964"/>
<rect x="909.08" y="196.13" width="7.14" height="5.80" fill="#7e8e9e"/>
<rect x="916.17" y="196.13" width="7.14" height="5.80" fill="#545474"/>
<rect x="923.26" y="196.13" width="7.14" height="5.80" fill="#656c85"/>
<rect x="930.35" y="196.13" width="7.14" height="5.80" fill="#6c758c"/>
<rect x="937.44" y="196.13" width="7.14" height="5.80" fill="#3e3e56"/>
<rect x="944.53" y="196.13" width="7.14" height="5.80" fill="#2a2a39"/>
<rect x="951.62" y="196.13" width="7.14" height="5.80" fill="#616681"/>
<rect x="958.71" y="196.13" width="7.14" height="5.80" fill="#3e3e55"/>
<rect x="611.30" y="201.89" width="7.14" height="5.80" fill="#6e788d"/>
<rect x="618.39" y="201.89" width="7.14" height="5.80" fill="#798799"/>
<rect x="625.48" y="201.89" width="7.14" height="5.80" fill="#687088"/>
<rect x="632.57" y="201.89" width="7.14" height="5.80" fill="#4d4d6a"/>
<rect x="639.66" y="201.89" width="7.14" height="5.80" fill="#727d92"/>
<rect x="646.75" y="201.89" width="7.14" height="5.80" fill="#2c2c3c"/>
<rect x="653.84" y="201.89" width="7.14" height="5.80" fill="#727d92"/>
<rect x="660.93" y="201.89" width="7.14" height="5.80" fill="#3a3a51"/>
<rect x="668.02" y="201.89" width="7.14" height="5.80" fill="#4e4e6c"/>
<rect x="675.11" y="201.89" width="7.14" height="5.80" fill="#353549"/>
<rect x="682.20" y="201.89" width="7.14" height="5.80" fill="#535373"/>
<rect x="689.29" y="201.89" width="7.14" height="5.80" fill="#5b5e7b"/>
<rect x="696.38" y="201.89" width="7.14" height="5.80" fill="#8193a1"/>
<rect x="703.47" y="201.89" width="7.14" height="5.80" fill="#636983"/>
<rect x="710.56" y="201.89" width="7.14" height="5.80" fill="#6d768c"/>
<rect x="717.65" y="201.89" width="7.14" height="5.80" fill="#39394f"/>
<rect x="724.74" y="201.89" width="7.14" height="5.80" fill="#788698"/>
<rect x="731.83" y="201.89" width="7.14" height="5.80" fill="#39394f"/>
<rect x="738.92" y="201.89" width="7.14" height="5.80" fill="#343448"/>
<rect x="746.01" y="201.89" width="7.14" height="5.80" fill="#4e4e6c"/>
<rect x="753.10" y="201.89" width="7.14" height="5.80" fill="#4c4c69"/>
<rect x="760.19" y="201.89" width="7.14" height="5.80" fill="#585a78"/>
<rect x="767.28" y="201.89" width="7.14" height="5.80" fill="#000000"/>
<rect x="774.37" y="201.89" width="7.14" height="5.80" fill="#4c4c69"/>
<rect x="781.46" y="201.89" width="7.14" height="5.80" fill="#282837"/>
<rect x="788.55" y="201.89" width="7.14" height="5.80" fill="#707b90"/>
<rect x="795.64" y="201.89" width="7.14" height="5.80" fill="#4d4d6b"/>
<rect x="802.73" y="201.89" width="7.14" height="5.80" fill="#2e2e3f"/>
<rect x="809.82" y="201.89" width="7.14" height="5.80" fill="#595b79"/>
<rect x="816.91" y="201.89" width="7.14" height="5.80" fill="#3c3c53"/>
<rect x="824.00" y="201.89" width="7.14" height="5.80" fill="#8091a0"/>
<rect x="831.09" y="201.89" width="7.14" height="5.80" fill="#4b4b68"/>
<rect x="838.18" y="201.89" width="7.14" height="5.80" fill="#515170"/>
<rect x="845.27" y="201.89" width="7.14" height="5.80" fill="#555675"/>
<rect x="852.36" y="201.89" width="7.14" height="5.80" fill="#646a83"/>
<rect x="859.45" y="201.89" width="7.14" height="5.80" fill="#525271"/>
<rect x="866.54" y="201.89" width="7.14" height="5.80" fill="#343448"/>
<rect x="873.63" y="201.89" width="7.14" height="5.80" fill="#4f4f6e"/>
<rect x="880.72" y="201.89" width="7.14" height="5.80" fill="#2e2e40"/>
<rect x="887.81" y="201.89" width="7.14" height="5.80" fill="#5d617d"/>
<rect x="894.90" y="201.89" width="7.14" height="5.80" fill="#3e3e55"/>
<rect x="901.99" y="201.89" width="7.14" height="5.80" fill="#697189"/>
<rect x="909.08" y="201.89" width="7.14" height="5.80" fill="#636983"/>
<rect x="916.17" y="201.89" width="7.14" height="5.80" fill="#42425b"/>
<rect x="923.26" y="201.89" width="7.14" height="5.80" fill="#292939"/>
<rect x="930.35" y="201.89" width="7.14" height="5.80" fill="#303042"/>
<rect x="937.44" y="201.89" width="7.14" height="5.80" fill="#5b5e7b"/>
<rect x="944.53" y="201.89" width="7.14" height="5.80" fill="#4f4f6d"/>
<rect x="951.62" y="201.89" width="7.14" height="5.80" fill="#44445f"/>
<rect x="958.71" y="201.89" width="7.14" height="5.80" fill="#272735"/>
<rect x="611.30" y="207.64" width="7.14" height="5.80" fill="#778496"/>
<rect x="618.39" y="207.64" width="7.14" height="5.80" fill="#5e627e"/>
<rect x="625.48" y="207.64" width="7.14" height="5.80" fill="#707b90"/>
<rect x="632.57" y="207.64" width="7.14" height="5.80" fill="#595c79"/>
<rect x="639.66" y="207.64" width="7.14" height="5.80" fill="#5c5f7c"/>
<rect x="646.75" y="207.64" width="7.14" height="5.80" fill="#262634"/>
<rect x="653.84" y="207.64" width="7.14" height="5.80" fill="#575877"/>
<rect x="660.93" y="207.64" width="7.14" height="5.80" fill="#5e617d"/>
<rect x="668.02" y="207.64" width="7.14" height="5.80" fill="#38384e"/>
<rect x="675.11" y="207.64" width="7.14" height="5.80" fill="#3e3e56"/>
<rect x="682.20" y="207.64" width="7.14" height="5.80" fill="#404058"/>
<rect x="689.29" y="207.64" width="7.14" height="5.80" fill="#36364b"/>
<rect x="696.38" y="207.64" width="7.14" height="5.80" fill="#353549"/>
<rect x="703.47" y="207.64" width="7.14" height="5.80" fill="#464661"/>
<rect x="710.56" y="207.64" width="7.14" height="5.80" fill="#8a9faa"/>
<rect x="717.65" y="207.64" width="7.14" height="5.80" fill="#98b2b8"/>
<rect x="724.74" y="207.64" width="7.14" height="5.80" fill="#727d92"/>
<rect x="731.83" y="207.64" width="7.14" height="5.80" fill="#42425b"/>
<rect x="738.92" y="207.64" width="7.14" height="5.80" fill="#6d778d"/>
<rect x="746.01" y="207.64" width="7.14" height="5.80" fill="#6e798e"/>
<rect x="753.10" y="207.64" width="7.14" height="5.80" fill="#4c4c68"/>
<rect x="760.19" y="207.64" width="7.14" height="5.80" fill="#333347"/>
<rect x="767.28" y="207.64" width="7.14" height="5.80" fill="#4c4c69"/>
<rect x="774.37" y="207.64" width="7.14" height="5.80" fill="#000000"/>
<rect x="781.46" y="207.64" width="7.14" height="5.80" fill="#515170"/>
<rect x="788.55" y="207.64" width="7.14" height="5.80" fill="#4e4e6b"/>
<rect x="795.64" y="207.64" width="7.14" height="5.80" fill="#484864"/>
<rect x="802.73" y="207.64" width="7.14" height="5.80" fill="#39394f"/>
<rect x="809.82" y="207.64" width="7.14" height="5.80" fill="#3a3a50"/>
<rect x="816.91" y="207.64" width="7.14" height="5.80" fill="#494965"/>
<rect x="824.00" y="207.64" width="7.14" height="5.80" fill="#7d8c9d"/>
<rect x="831.09" y="207.64" width="7.14" height="5.80" fill="#595b79"/>
<rect x="838.18" y="207.64" width="7.14" height="5.80" fill="#727d92"/>
<rect x="845.27" y="207.64" width="7.14" height="5.80" fill="#525272"/>
<rect x="852.36" y="207.64" width="7.14" height="5.80" fill="#4f4f6d"/>
<rect x="859.45" y="207.64" width="7.14" height="5.80" fill="#5a5d7a"/>
<rect x="866.54" y="207.64" width="7.14" height="5.80" fill="#525271"/>
<rect x="873.63" y="207.64" width="7.14" height="5.80" fill="#262634"/>
<rect x="880.72" y="207.64" width="7.14" height="5.80" fill="#2f2f41"/>
<rect x="887.81" y="207.64" width="7.14" height="5.80" fill="#313144"/>
<rect x="894.90" y="207.64" width="7.14" height="5.80" fill="#44445e"/>
<rect x="901.99" y="207.64" width="7.14" height="5.80" fill="#262634"/>
<rect x="909.08" y="207.64" width="7.14" height="5.80" fill="#3e3e55"/>
<rect x="916.17" y="207.64" width="7.14" height="5.80" fill="#262634"/>
<rect x="923.26" y="207.64" width="7.14" height="5.80" fill="#303042"/>
<rect x="930.35" y="207.64" width="7.14" height="5.80" fill="#41415a"/>
<rect x="937.44" y="207.64" width="7.14" height="5.80" fill="#262634"/>
<rect x="944.53" y="207.64" width="7.14" height="5.80" fill="#2b2b3b"/>
<rect x="951.62" y="207.64" width="7.14" height="5.80" fill="#656c85"/>
<rect x="958.71" y="207.64" width="7.14" height="5.80" fill="#50506f"/>
<rect x="611.30" y="213.40" width="7.14" height="5.80" fill="#555675"/>
<rect x="618.39" y="213.40" width="7.14" height="5.80" fill="#3a3a50"/>
<rect x="625.48" y="213.40" width="7.14" height="5.80" fill="#4e4e6c"/>
<rect x="632.57" y="213.40" width="7.14" height="5.80" fill="#575877"/>
<rect x="639.66" y="213.40" width="7.14" height="5.80" fill="#8496a3"/>
<rect x="646.75" y="213.40" width="7.14" height="5.80" fill="#464661"/>
<rect x="653.84" y="213.40" width="7.14" height="5.80" fill="#798799"/>
<rect x="660.93" y="213.40" width="7.14" height="5.80" fill="#788597"/>
<rect x="668.02" y="213.40" width="7.14" height="5.80" fill="#595b79"/>
<rect x="675.11" y="213.40" width="7.14" height="5.80" fill="#43435c"/>
<rect x="682.20" y="213.40" width="7.14" height="5.80" fill="#4d4d6b"/>
<rect x="689.29" y="213.40" width="7.14" height="5.80" fill="#636983"/>
<rect x="696.38" y="213.40" width="7.14" height="5.80" fill="#37374c"/>
<rect x="703.47" y="213.40" width="7.14" height="5.80" fill="#4f4f6d"/>
<rect x="710.56" y="213.40" width="7.14" height="5.80" fill="#9bb6bb"/>
<rect x="717.65" y="213.40" width="7.14" height="5.80" fill="#515170"/>
<rect x="724.74" y="213.40" width="7.14" height="5.80" fill="#95aeb5"/>
<rect x="731.83" y="213.40" width="7.14" height="5.80" fill="#4a4a66"/>
<rect x="738.92" y="213.40" width="7.14" height="5.80" fill="#8fa5ae"/>
<rect x="746.01" y="213.40" width="7.14" height="5.80" fill="#606580"/>
<rect x="753.10" y="213.40" width="7.14" height="5.80" fill="#555675"/>
<rect x="760.19" y="213.40" width="7.14" height="5.80" fill="#39394f"/>
<rect x="767.28" y="213.40" width="7.14" height="5.80" fill="#282837"/>
<rect x="774.37" y="213.40" width="7.14" height="5.80" fill="#515170"/>
<rect x="781.46" y="213.40" width="7.14" height="5.80" fill="#000000"/>
<rect x="788.55" y="213.40" width="7.14" height="5.80" fill="#555575"/>
<rect x="795.64" y="213.40" width="7.14" height="5.80" fill="#404059"/>
<rect x="802.73" y="213.40" width="7.14" height="5.80" fill="#5b5e7b"/>
<rect x="809.82" y="213.40" width="7.14" height="5.80" fill="#45455f"/>
<rect x="816.91" y="213.40" width="7.14" height="5.80" fill="#3f3f57"/>
<rect x="824.00" y="213.40" width="7.14" height="5.80" fill="#5a5c7a"/>
<rect x="831.09" y="213.40" width="7.14" height="5.80" fill="#585978"/>
<rect x="838.18" y="213.40" width="7.14" height="5.80" fill="#4e4e6c"/>
<rect x="845.27" y="213.40" width="7.14" height="5.80" fill="#7f909f"/>
<rect x="852.36" y="213.40" width="7.14" height="5.80" fill="#788698"/>
<rect x="859.45" y="213.40" width="7.14" height="5.80" fill="#4e4e6c"/>
<rect x="866.54" y="213.40" width="7.14" height="5.80" fill="#737f93"/>
<rect x="873.63" y="213.40" width="7.14" height="5.80" fill="#3a3a50"/>
<rect x="880.72" y="213.40" width="7.14" height="5.80" fill="#323245"/>
<rect x="887.81" y="213.40" width="7.14" height="5.80" fill="#262634"/>
<rect x="894.90" y="213.40" width="7.14" height="5.80" fill="#262634"/>
<rect x="901.99" y="213.40" width="7.14" height="5.80" fill="#4c4c69"/>
<rect x="909.08" y="213.40" width="7.14" height="5.80" fill="#5a5c79"/>
<rect x="916.17" y="213.40" width="7.14" height="5.80" fill="#50506f"/>
<rect x="923.26" y="213.40" width="7.14" height="5.80" fill="#494964"/>
<rect x="930.35" y="213.40" width="7.14" height="5.80" fill="#262634"/>
<rect x="937.44" y="213.40" width="7.14" height="5.80" fill="#6f798f"/>
<rect x="944.53" y="213.40" width="7.14" height="5.80" fill="#535373"/>
<rect x="951.62" y="213.40" width="7.14" height="5.80" fill="#869aa6"/>
<rect x="958.71" y="213.40" width="7.14" height="5.80" fill="#595a78"/>
<rect x="611.30" y="219.15" width="7.14" height="5.80" fill="#262634"/>
<rect x="618.39" y="219.15" width="7.14" height="5.80" fill="#4d4d6a"/>
<rect x="625.48" y="219.15" width="7.14" height="5.80" fill="#44445e"/>
<rect x="632.57" y="219.15" width="7.14" height="5.80" fill="#6a738a"/>
<rect x="639.66" y="219.15" width="7.14" height="5.80" fill="#7a899a"/>
<rect x="646.75" y="219.15" width="7.14" height="5.80" fill="#474762"/>
<rect x="653.84" y="219.15" width="7.14" height="5.80" fill="#727e92"/>
<rect x="660.93" y="219.15" width="7.14" height="5.80" fill="#727e92"/>
<rect x="668.02" y="219.15" width="7.14" height="5.80" fill="#636983"/>
<rect x="675.11" y="219.15" width="7.14" height="5.80" fill="#899da8"/>
<rect x="682.20" y="219.15" width="7.14" height="5.80" fill="#707b90"/>
<rect x="689.29" y="219.15" width="7.14" height="5.80" fill="#6b738a"/>
<rect x="696.38" y="219.15" width="7.14" height="5.80" fill="#4c4c68"/>
<rect x="703.47" y="219.15" width="7.14" height="5.80" fill="#5b5d7a"/>
<rect x="710.56" y="219.15" width="7.14" height="5.80" fill="#8a9faa"/>
<rect x="717.65" y="219.15" width="7.14" height="5.80" fill="#3c3c53"/>
<rect x="724.74" y="219.15" width="7.14" height="5.80" fill="#707b90"/>
<rect x="731.83" y="219.15" width="7.14" height="5.80" fill="#4f4f6d"/>
<rect x="738.92" y="219.15" width="7.14" height="5.80" fill="#94adb4"/>
<rect x="746.01" y="219.15" width="7.14" height="5.80" fill="#8ea4ae"/>
<rect x="753.10" y="219.15" width="7.14" height="5.80" fill="#5f647f"/>
<rect x="760.19" y="219.15" width="7.14" height="5.80" fill="#262635"/>
<rect x="767.28" y="219.15" width="7.14" height="5.80" fill="#707b90"/>
<rect x="774.37" y="219.15" width="7.14" height="5.80" fill="#4e4e6b"/>
<rect x="781.46" y="219.15" width="7.14" height="5.80" fill="#555575"/>
<rect x="788.55" y="219.15" width="7.14" height="5.80" fill="#000000"/>
<rect x="795.64" y="219.15" width="7.14" height="5.80" fill="#50506e"/>
<rect x="802.73" y="219.15" width="7.14" height="5.80" fill="#6a738a"/>
<rect x="809.82" y="219.15" width="7.14" height="5.80" fill="#464660"/>
<rect x="816.91" y="219.15" width="7.14" height="5.80" fill="#7f8f9f"/>
<rect x="824.00" y="219.15" width="7.14" height="5.80" fill="#80909f"/>
<rect x="831.09" y="219.15" width="7.14" height="5.80" fill="#262634"/>
<rect x="838.18" y="219.15" width="7.14" height="5.80" fill="#43435c"/>
<rect x="845.27" y="219.15" width="7.14" height="5.80" fill="#323245"/>
<rect x="852.36" y="219.15" width="7.14" height="5.80" fill="#535372"/>
<rect x="859.45" y="219.15" width="7.14" height="5.80" fill="#36364b"/>
<rect x="866.54" y="219.15" width="7.14" height="5.80" fill="#5b5d7a"/>
<rect x="873.63" y="219.15" width="7.14" height="5.80" fill="#4b4b67"/>
<rect x="880.72" y="219.15" width="7.14" height="5.80" fill="#262634"/>
<rect x="887.81" y="219.15" width="7.14" height="5.80" fill="#5d607d"/>
<rect x="894.90" y="219.15" width="7.14" height="5.80" fill="#717c91"/>
<rect x="901.99" y="219.15" width="7.14" height="5.80" fill="#565776"/>
<rect x="909.08" y="219.15" width="7.14" height="5.80" fill="#6b748b"/>
<rect x="916.17" y="219.15" width="7.14" height="5.80" fill="#3f3f57"/>
<rect x="923.26" y="219.15" width="7.14" height="5.80" fill="#484864"/>
<rect x="930.35" y="219.15" width="7.14" height="5.80" fill="#4c4c69"/>
<rect x="937.44" y="219.15" width="7.14" height="5.80" fill="#535372"/>
<rect x="944.53" y="219.15" width="7.14" height="5.80" fill="#768396"/>
<rect x="951.62" y="219.15" width="7.14" height="5.80" fill="#a7c7c7"/>
<rect x="958.71" y="219.15" width="7.14" height="5.80" fill="#545474"/>
<rect x="611.30" y="224.90" width="7.14" height="5.80" fill="#778497"/>
<rect x="618.39" y="224.90" width="7.14" height="5.80" fill="#535372"/>
<rect x="625.48" y="224.90" width="7.14" height="5.80" fill="#454560"/>
<rect x="632.57" y="224.90" width="7.14" height="5.80" fill="#656c85"/>
<rect x="639.66" y="224.90" width="7.14" height="5.80" fill="#626882"/>
<rect x="646.75" y="224.90" width="7.14" height="5.80" fill="#555675"/>
<rect x="653.84" y="224.90" width="7.14" height="5.80" fill="#a7c7c7"/>
<rect x="660.93" y="224.90" width="7.14" height="5.80" fill="#93aab2"/>
<rect x="668.02" y="224.90" width="7.14" height="5.80" fill="#768396"/>
<rect x="675.11" y="224.90" width="7.14" height="5.80" fill="#697189"/>
<rect x="682.20" y="224.90" width="7.14" height="5.80" fill="#636983"/>
<rect x="689.29" y="224.90" width="7.14" height="5.80" fill="#414159"/>
<rect x="696.38" y="224.90" width="7.14" height="5.80" fill="#8395a3"/>
<rect x="703.47" y="224.90" width="7.14" height="5.80" fill="#6e798e"/>
<rect x="710.56" y="224.90" width="7.14" height="5.80" fill="#8597a5"/>
<rect x="717.65" y="224.90" width="7.14" height="5.80" fill="#9ab4b9"/>
<rect x="724.74" y="224.90" width="7.14" height="5.80" fill="#4f4f6d"/>
<rect x="731.83" y="224.90" width="7.14" height="5.80" fill="#4f4f6e"/>
<rect x="738.92" y="224.90" width="7.14" height="5.80" fill="#727e92"/>
<rect x="746.01" y="224.90" width="7.14" height="5.80" fill="#6c768c"/>
<rect x="753.10" y="224.90" width="7.14" height="5.80" fill="#535373"/>
<rect x="760.19" y="224.90" width="7.14" height="5.80" fill="#575877"/>
<rect x="767.28" y="224.90" width="7.14" height="5.80" fill="#4d4d6b"/>
<rect x="774.37" y="224.90" width="7.14" height="5.80" fill="#484864"/>
<rect x="781.46" y="224.90" width="7.14" height="5.80" fill="#404059"/>
<rect x="788.55" y="224.90" width="7.14" height="5.80" fill="#50506e"/>
<rect x="795.64" y="224.90" width="7.14" height="5.80" fill="#000000"/>
<rect x="802.73" y="224.90" width="7.14" height="5.80" fill="#7b8a9b"/>
<rect x="809.82" y="224.90" width="7.14" height="5.80" fill="#99b3b9"/>
<rect x="816.91" y="224.90" width="7.14" height="5.80" fill="#6d768c"/>
<rect x="824.00" y="224.90" width="7.14" height="5.80" fill="#8293a1"/>
<rect x="831.09" y="224.90" width="7.14" height="5.80" fill="#404059"/>
<rect x="838.18" y="224.90" width="7.14" height="5.80" fill="#8ca1ab"/>
<rect x="845.27" y="224.90" width="7.14" height="5.80" fill="#474762"/>
<rect x="852.36" y="224.90" width="7.14" height="5.80" fill="#50506f"/>
<rect x="859.45" y="224.90" width="7.14" height="5.80" fill="#262634"/>
<rect x="866.54" y="224.90" width="7.14" height="5.80" fill="#606580"/>
<rect x="873.63" y="224.90" width="7.14" height="5.80" fill="#748093"/>
<rect x="880.72" y="224.90" width="7.14" height="5.80" fill="#4b4b67"/>
<rect x="887.81" y="224.90" width="7.14" height="5.80" fill="#6d778d"/>
<rect x="894.90" y="224.90" width="7.14" height="5.80" fill="#8a9faa"/>
<rect x="901.99" y="224.90" width="7.14" height="5.80" fill="#91a8b1"/>
<rect x="909.08" y="224.90" width="7.14" height="5.80" fill="#5c607c"/>
<rect x="916.17" y="224.90" width="7.14" height="5.80" fill="#535373"/>
<rect x="923.26" y="224.90" width="7.14" height="5.80" fill="#575876"/>
<rect x="930.35" y="224.90" width="7.14" height="5.80" fill="#585978"/>
<rect x="937.44" y="224.90" width="7.14" height="5.80" fill="#5c5f7c"/>
<rect x="944.53" y="224.90" width="7.14" height="5.80" fill="#758295"/>
<rect x="951.62" y="224.90" width="7.14" height="5.80" fill="#94acb4"/>
<rect x="958.71" y="224.90" width="7.14" height="5.80" fill="#7d8d9d"/>
<rect x="611.30" y="230.66" width="7.14" height="5.80" fill="#45455f"/>
<rect x="618.39" y="230.66" width="7.14" height="5.80" fill="#585978"/>
<rect x="625.48" y="230.66" width="7.14" height="5.80" fill="#5e627e"/>
<rect x="632.57" y="230.66" width="7.14" height="5.80" fill="#697189"/>
<rect x="639.66" y="230.66" width="7.14" height="5.80" fill="#8ba0ab"/>
<rect x="646.75" y="230.66" width="7.14" height="5.80" fill="#474762"/>
<rect x="653.84" y="230.66" width="7.14" height="5.80" fill="#93abb2"/>
<rect x="660.93" y="230.66" width="7.14" height="5.80" fill="#606580"/>
<rect x="668.02" y="230.66" width="7.14" height="5.80" fill="#5a5c7a"/>
<rect x="675.11" y="230.66" width="7.14" height="5.80" fill="#343447"/>
<rect x="682.20" y="230.66" width="7.14" height="5.80" fill="#37374c"/>
<rect x="689.29" y="230.66" width="7.14" height="5.80" fill="#535373"/>
<rect x="696.38" y="230.66" width="7.14" height="5.80" fill="#a5c4c5"/>
<rect x="703.47" y="230.66" width="7.14" height="5.80" fill="#94acb4"/>
<rect x="710.56" y="230.66" width="7.14" height="5.80" fill="#889ca8"/>
<rect x="717.65" y="230.66" width="7.14" height="5.80" fill="#8294a2"/>
<rect x="724.74" y="230.66" width="7.14" height="5.80" fill="#313143"/>
<rect x="731.83" y="230.66" width="7.14" height="5.80" fill="#404059"/>
<rect x="738.92" y="230.66" width="7.14" height="5.80" fill="#717d91"/>
<rect x="746.01" y="230.66" width="7.14" height="5.80" fill="#37374c"/>
<rect x="753.10" y="230.66" width="7.14" height="5.80" fill="#262634"/>
<rect x="760.19" y="230.66" width="7.14" height="5.80" fill="#4e4e6c"/>
<rect x="767.28" y="230.66" width="7.14" height="5.80" fill="#2e2e3f"/>
<rect x="774.37" y="230.66" width="7.14" height="5.80" fill="#39394f"/>
<rect x="781.46" y="230.66" width="7.14" height="5.80" fill="#5b5e7b"/>
<rect x="788.55" y="230.66" width="7.14" height="5.80" fill="#6a738a"/>
<rect x="795.64" y="230.66" width="7.14" height="5.80" fill="#7b8a9b"/>
<rect x="802.73" y="230.66" width="7.14" height="5.80" fill="#000000"/>
<rect x="809.82" y="230.66" width="7.14" height="5.80" fill="#8a9faa"/>
<rect x="816.91" y="230.66" width="7.14" height="5.80" fill="#43435c"/>
<rect x="824.00" y="230.66" width="7.14" height="5.80" fill="#6c768c"/>
<rect x="831.09" y="230.66" width="7.14" height="5.80" fill="#333346"/>
<rect x="838.18" y="230.66" width="7.14" height="5.80" fill="#6a728a"/>
<rect x="845.27" y="230.66" width="7.14" height="5.80" fill="#626882"/>
<rect x="852.36" y="230.66" width="7.14" height="5.80" fill="#595b79"/>
<rect x="859.45" y="230.66" width="7.14" height="5.80" fill="#6a738a"/>
<rect x="866.54" y="230.66" width="7.14" height="5.80" fill="#666d86"/>
<rect x="873.63" y="230.66" width="7.14" height="5.80" fill="#535372"/>
<rect x="880.72" y="230.66" width="7.14" height="5.80" fill="#525271"/>
<rect x="887.81" y="230.66" width="7.14" height="5.80" fill="#42425b"/>
<rect x="894.90" y="230.66" width="7.14" height="5.80" fill="#36364a"/>
<rect x="901.99" y="230.66" width="7.14" height="5.80" fill="#6e788e"/>
<rect x="909.08" y="230.66" width="7.14" height="5.80" fill="#748194"/>
<rect x="916.17" y="230.66" width="7.14" height="5.80" fill="#8598a5"/>
<rect x="923.26" y="230.66" width="7.14" height="5.80" fill="#5c607c"/>
<rect x="930.35" y="230.66" width="7.14" height="5.80" fill="#3e3e56"/>
<rect x="937.44" y="230.66" width="7.14" height="5.80" fill="#879ba7"/>
<rect x="944.53" y="230.66" width="7.14" height="5.80" fill="#45455f"/>
<rect x="951.62" y="230.66" width="7.14" height="5.80" fill="#8496a4"/>
<rect x="958.71" y="230.66" width="7.14" height="5.80" fill="#686f87"/>
<rect x="611.30" y="236.41" width="7.14" height="5.80" fill="#626882"/>
<rect x="618.39" y="236.41" width="7.14" height="5.80" fill="#3f3f58"/>
<rect x="625.48" y="236.41" width="7.14" height="5.80" fill="#8092a0"/>
<rect x="632.57" y="236.41" width="7.14" height="5.80" fill="#565776"/>
<rect x="639.66" y="236.41" width="7.14" height="5.80" fill="#879aa7"/>
<rect x="646.75" y="236.41" width="7.14" height="5.80" fill="#575877"/>
<rect x="653.84" y="236.41" width="7.14" height="5.80" fill="#8ca2ac"/>
<rect x="660.93" y="236.41" width="7.14" height="5.80" fill="#6e788e"/>
<rect x="668.02" y="236.41" width="7.14" height="5.80" fill="#292939"/>
<rect x="675.11" y="236.41" width="7.14" height="5.80" fill="#262634"/>
<rect x="682.20" y="236.41" width="7.14" height="5.80" fill="#585977"/>
<rect x="689.29" y="236.41" width="7.14" height="5.80" fill="#8193a1"/>
<rect x="696.38" y="236.41" width="7.14" height="5.80" fill="#7d8d9d"/>
<rect x="703.47" y="236.41" width="7.14" height="5.80" fill="#8ca1ac"/>
<rect x="710.56" y="236.41" width="7.14" height="5.80" fill="#7e8e9e"/>
<rect x="717.65" y="236.41" width="7.14" height="5.80" fill="#323245"/>
<rect x="724.74" y="236.41" width="7.14" height="5.80" fill="#37374c"/>
<rect x="731.83" y="236.41" width="7.14" height="5.80" fill="#484864"/>
<rect x="738.92" y="236.41" width="7.14" height="5.80" fill="#788698"/>
<rect x="746.01" y="236.41" width="7.14" height="5.80" fill="#50506f"/>
<rect x="753.10" y="236.41" width="7.14" height="5.80" fill="#42425b"/>
<rect x="760.19" y="236.41" width="7.14" height="5.80" fill="#262634"/>
<rect x="767.28" y="236.41" width="7.14" height="5.80" fill="#595b79"/>
<rect x="774.37" y="236.41" width="7.14" height="5.80" fill="#3a3a50"/>
<rect x="781.46" y="236.41" width="7.14" height="5.80" fill="#45455f"/>
<rect x="788.55" y="236.41" width="7.14" height="5.80" fill="#464660"/>
<rect x="795.64" y="236.41" width="7.14" height="5.80" fill="#99b3b9"/>
<rect x="802.73" y="236.41" width="7.14" height="5.80" fill="#8a9faa"/>
<rect x="809.82" y="236.41" width="7.14" height="5.80" fill="#000000"/>
<rect x="816.91" y="236.41" width="7.14" height="5.80" fill="#8ba0ab"/>
<rect x="824.00" y="236.41" width="7.14" height="5.80" fill="#8395a3"/>
<rect x="831.09" y="236.41" width="7.14" height="5.80" fill="#7b8a9b"/>
<rect x="838.18" y="236.41" width="7.14" height="5.80" fill="#5c5f7c"/>
<rect x="845.27" y="236.41" width="7.14" height="5.80" fill="#778497"/>
<rect x="852.36" y="236.41" width="7.14" height="5.80" fill="#95aeb5"/>
<rect x="859.45" y="236.41" width="7.14" height="5.80" fill="#697188"/>
<rect x="866.54" y="236.41" width="7.14" height="5.80" fill="#262634"/>
<rect x="873.63" y="236.41" width="7.14" height="5.80" fill="#262634"/>
<rect x="880.72" y="236.41" width="7.14" height="5.80" fill="#4d4d6a"/>
<rect x="887.81" y="236.41" width="7.14" height="5.80" fill="#44445e"/>
<rect x="894.90" y="236.41" width="7.14" height="5.80" fill="#474762"/>
<rect x="901.99" y="236.41" width="7.14" height="5.80" fill="#8497a4"/>
<rect x="909.08" y="236.41" width="7.14" height="5.80" fill="#8496a3"/>
<rect x="916.17" y="236.41" width="7.14" height="5.80" fill="#3c3c52"/>
<rect x="923.26" y="236.41" width="7.14" height="5.80" fill="#565776"/>
<rect x="930.35" y="236.41" width="7.14" height="5.80" fill="#686f88"/>
<rect x="937.44" y="236.41" width="7.14" height="5.80" fill="#565675"/>
<rect x="944.53" y="236.41" width="7.14" height="5.80" fill="#697189"/>
<rect x="951.62" y="236.41" width="7.14" height="5.80" fill="#95aeb5"/>
<rect x="958.71" y="236.41" width="7.14" height="5.80" fill="#8497a4"/>
<rect x="611.30" y="242.17" width="7.14" height="5.80" fill="#5a5d7a"/>
<rect x="618.39" y="242.17" width="7.14" height="5.80" fill="#404058"/>
<rect x="625.48" y="242.17" width="7.14" height="5.80" fill="#3d3d54"/>
<rect x="632.57" y="242.17" width="7.14" height="5.80" fill="#4f4f6e"/>
<rect x="639.66" y="242.17" width="7.14" height="5.80" fill="#778597"/>
<rect x="646.75" y="242.17" width="7.14" height="5.80" fill="#3d3d54"/>
<rect x="653.84" y="242.17" width="7.14" height="5.80" fill="#788798"/>
<rect x="660.93" y="242.17" width="7.14" height="5.80" fill="#343448"/>
<rect x="668.02" y="242.17" width="7.14" height="5.80" fill="#313144"/>
<rect x="675.11" y="242.17" width="7.14" height="5.80" fill="#3f3f57"/>
<rect x="682.20" y="242.17" width="7.14" height="5.80" fill="#494965"/>
<rect x="689.29" y="242.17" width="7.14" height="5.80" fill="#494965"/>
<rect x="696.38" y="242.17" width="7.14" height="5.80" fill="#6c768c"/>
<rect x="703.47" y="242.17" width="7.14" height="5.80" fill="#636983"/>
<rect x="710.56" y="242.17" width="7.14" height="5.80" fill="#6f798f"/>
<rect x="717.65" y="242.17" width="7.14" height="5.80" fill="#45455f"/>
<rect x="724.74" y="242.17" width="7.14" height="5.80" fill="#6e788e"/>
<rect x="731.83" y="242.17" width="7.14" height="5.80" fill="#484864"/>
<rect x="738.92" y="242.17" width="7.14" height="5.80" fill="#5c5f7c"/>
<rect x="746.01" y="242.17" width="7.14" height="5.80" fill="#323246"/>
<rect x="753.10" y="242.17" width="7.14" height="5.80" fill="#2b2b3c"/>
<rect x="760.19" y="242.17" width="7.14" height="5.80" fill="#353549"/>
<rect x="767.28" y="242.17" width="7.14" height="5.80" fill="#3c3c53"/>
<rect x="774.37" y="242.17" width="7.14" height="5.80" fill="#494965"/>
<rect x="781.46" y="242.17" width="7.14" height="5.80" fill="#3f3f57"/>
<rect x="788.55" y="242.17" width="7.14" height="5.80" fill="#7f8f9f"/>
<rect x="795.64" y="242.17" width="7.14" height="5.80" fill="#6d768c"/>
<rect x="802.73" y="242.17" width="7.14" height="5.80" fill="#43435c"/>
<rect x="809.82" y="242.17" width="7.14" height="5.80" fill="#8ba0ab"/>
<rect x="816.91" y="242.17" width="7.14" height="5.80" fill="#000000"/>
<rect x="824.00" y="242.17" width="7.14" height="5.80" fill="#8ea4ae"/>
<rect x="831.09" y="242.17" width="7.14" height="5.80" fill="#5e617d"/>
<rect x="838.18" y="242.17" width="7.14" height="5.80" fill="#494964"/>
<rect x="845.27" y="242.17" width="7.14" height="5.80" fill="#697189"/>
<rect x="852.36" y="242.17" width="7.14" height="5.80" fill="#8395a3"/>
<rect x="859.45" y="242.17" width="7.14" height="5.80" fill="#5d607d"/>
<rect x="866.54" y="242.17" width="7.14" height="5.80" fill="#36364a"/>
<rect x="873.63" y="242.17" width="7.14" height="5.80" fill="#262634"/>
<rect x="880.72" y="242.17" width="7.14" height="5.80" fill="#313143"/>
<rect x="887.81" y="242.17" width="7.14" height="5.80" fill="#626782"/>
<rect x="894.90" y="242.17" width="7.14" height="5.80" fill="#6f798f"/>
<rect x="901.99" y="242.17" width="7.14" height="5.80" fill="#778597"/>
<rect x="909.08" y="242.17" width="7.14" height="5.80" fill="#5e637e"/>
<rect x="916.17" y="242.17" width="7.14" height="5.80" fill="#323245"/>
<rect x="923.26" y="242.17" width="7.14" height="5.80" fill="#646a84"/>
<rect x="930.35" y="242.17" width="7.14" height="5.80" fill="#4d4d6b"/>
<rect x="937.44" y="242.17" width="7.14" height="5.80" fill="#6b748b"/>
<rect x="944.53" y="242.17" width="7.14" height="5.80" fill="#626782"/>
<rect x="951.62" y="242.17" width="7.14" height="5.80" fill="#6f7a8f"/>
<rect x="958.71" y="242.17" width="7.14" height="5.80" fill="#6d778d"/>
<rect x="611.30" y="247.92" width="7.14" height="5.80" fill="#737f93"/>
<rect x="618.39" y="247.92" width="7.14" height="5.80" fill="#94acb3"/>
<rect x="625.48" y="247.92" width="7.14" height="5.80" fill="#697188"/>
<rect x="632.57" y="247.92" width="7.14" height="5.80" fill="#646a84"/>
<rect x="639.66" y="247.92" width="7.14" height="5.80" fill="#a7c7c7"/>
<rect x="646.75" y="247.92" width="7.14" height="5.80" fill="#788698"/>
<rect x="653.84" y="247.92" width="7.14" height="5.80" fill="#768295"/>
<rect x="660.93" y="247.92" width="7.14" height="5.80" fill="#90a6af"/>
<rect x="668.02" y="247.92" width="7.14" height="5.80" fill="#5b5e7b"/>
<rect x="675.11" y="247.92" width="7.14" height="5.80" fill="#717c91"/>
<rect x="682.20" y="247.92" width="7.14" height="5.80" fill="#697189"/>
<rect x="689.29" y="247.92" width="7.14" height="5.80" fill="#6f798f"/>
<rect x="696.38" y="247.92" width="7.14" height="5.80" fill="#626782"/>
<rect x="703.47" y="247.92" width="7.14" height="5.80" fill="#a1bec1"/>
<rect x="710.56" y="247.92" width="7.14" height="5.80" fill="#a7c7c7"/>
<rect x="717.65" y="247.92" width="7.14" height="5.80" fill="#99b4b9"/>
<rect x="724.74" y="247.92" width="7.14" height="5.80" fill="#99b4b9"/>
<rect x="731.83" y="247.92" width="7.14" height="5.80" fill="#484864"/>
<rect x="738.92" y="247.92" width="7.14" height="5.80" fill="#899ea9"/>
<rect x="746.01" y="247.92" width="7.14" height="5.80" fill="#6b748b"/>
<rect x="753.10" y="247.92" width="7.14" height="5.80" fill="#636983"/>
<rect x="760.19" y="247.92" width="7.14" height="5.80" fill="#93abb3"/>
<rect x="767.28" y="247.92" width="7.14" height="5.80" fill="#8091a0"/>
<rect x="774.37" y="247.92" width="7.14" height="5.80" fill="#7d8c9d"/>
<rect x="781.46" y="247.92" width="7.14" height="5.80" fill="#5a5c7a"/>
<rect x="788.55" y="247.92" width="7.14" height="5.80" fill="#80909f"/>
<rect x="795.64" y="247.92" width="7.14" height="5.80" fill="#8293a1"/>
<rect x="802.73" y="247.92" width="7.14" height="5.80" fill="#6c768c"/>
<rect x="809.82" y="247.92" width="7.14" height="5.80" fill="#8395a3"/>
<rect x="816.91" y="247.92" width="7.14" height="5.80" fill="#8ea4ae"/>
<rect x="824.00" y="247.92" width="7.14" height="5.80" fill="#000000"/>
<rect x="831.09" y="247.92" width="7.14" height="5.80" fill="#5b5d7a"/>
<rect x="838.18" y="247.92" width="7.14" height="5.80" fill="#7d8d9d"/>
<rect x="845.27" y="247.92" width="7.14" height="5.80" fill="#8a9faa"/>
<rect x="852.36" y="247.92" width="7.14" height="5.80" fill="#a2c0c2"/>
<rect x="859.45" y="247.92" width="7.14" height="5.80" fill="#8395a3"/>
<rect x="866.54" y="247.92" width="7.14" height="5.80" fill="#6c758c"/>
<rect x="873.63" y="247.92" width="7.14" height="5.80" fill="#575876"/>
<rect x="880.72" y="247.92" width="7.14" height="5.80" fill="#646a84"/>
<rect x="887.81" y="247.92" width="7.14" height="5.80" fill="#8597a4"/>
<rect x="894.90" y="247.92" width="7.14" height="5.80" fill="#9bb6bb"/>
<rect x="901.99" y="247.92" width="7.14" height="5.80" fill="#96afb6"/>
<rect x="909.08" y="247.92" width="7.14" height="5.80" fill="#a7c7c7"/>
<rect x="916.17" y="247.92" width="7.14" height="5.80" fill="#7d8d9d"/>
<rect x="923.26" y="247.92" width="7.14" height="5.80" fill="#96b0b6"/>
<rect x="930.35" y="247.92" width="7.14" height="5.80" fill="#686f88"/>
<rect x="937.44" y="247.92" width="7.14" height="5.80" fill="#6e798e"/>
<rect x="944.53" y="247.92" width="7.14" height="5.80" fill="#788698"/>
<rect x="951.62" y="247.92" width="7.14" height="5.80" fill="#90a7b0"/>
<rect x="958.71" y="247.92" width="7.14" height="5.80" fill="#798799"/>
<rect x="611.30" y="253.67" width="7.14" height="5.80" fill="#4b4b67"/>
<rect x="618.39" y="253.67" width="7.14" height="5.80" fill="#474762"/>
<rect x="625.48" y="253.67" width="7.14" height="5.80" fill="#626882"/>
<rect x="632.57" y="253.67" width="7.14" height="5.80" fill="#93abb3"/>
<rect x="639.66" y="253.67" width="7.14" height="5.80" fill="#595b79"/>
<rect x="646.75" y="253.67" width="7.14" height="5.80" fill="#575877"/>
<rect x="653.84" y="253.67" width="7.14" height="5.80" fill="#6e788e"/>
<rect x="660.93" y="253.67" width="7.14" height="5.80" fill="#717c91"/>
<rect x="668.02" y="253.67" width="7.14" height="5.80" fill="#3f3f57"/>
<rect x="675.11" y="253.67" width="7.14" height="5.80" fill="#484864"/>
<rect x="682.20" y="253.67" width="7.14" height="5.80" fill="#3a3a50"/>
<rect x="689.29" y="253.67" width="7.14" height="5.80" fill="#4c4c69"/>
<rect x="696.38" y="253.67" width="7.14" height="5.80" fill="#3c3c52"/>
<rect x="703.47" y="253.67" width="7.14" height="5.80" fill="#585a78"/>
<rect x="710.56" y="253.67" width="7.14" height="5.80" fill="#8fa6af"/>
<rect x="717.65" y="253.67" width="7.14" height="5.80" fill="#2e2e3f"/>
<rect x="724.74" y="253.67" width="7.14" height="5.80" fill="#2f2f42"/>
<rect x="731.83" y="253.67" width="7.14" height="5.80" fill="#545474"/>
<rect x="738.92" y="253.67" width="7.14" height="5.80" fill="#8395a3"/>
<rect x="746.01" y="253.67" width="7.14" height="5.80" fill="#6b748b"/>
<rect x="753.10" y="253.67" width="7.14" height="5.80" fill="#6a728a"/>
<rect x="760.19" y="253.67" width="7.14" height="5.80" fill="#626781"/>
<rect x="767.28" y="253.67" width="7.14" height="5.80" fill="#4b4b68"/>
<rect x="774.37" y="253.67" width="7.14" height="5.80" fill="#595b79"/>
<rect x="781.46" y="253.67" width="7.14" height="5.80" fill="#585978"/>
<rect x="788.55" y="253.67" width="7.14" height="5.80" fill="#262634"/>
<rect x="795.64" y="253.67" width="7.14" height="5.80" fill="#404059"/>
<rect x="802.73" y="253.67" width="7.14" height="5.80" fill="#333346"/>
<rect x="809.82" y="253.67" width="7.14" height="5.80" fill="#7b8a9b"/>
<rect x="816.91" y="253.67" width="7.14" height="5.80" fill="#5e617d"/>
<rect x="824.00" y="253.67" width="7.14" height="5.80" fill="#5b5d7a"/>
<rect x="831.09" y="253.67" width="7.14" height="5.80" fill="#000000"/>
<rect x="838.18" y="253.67" width="7.14" height="5.80" fill="#676e87"/>
<rect x="845.27" y="253.67" width="7.14" height="5.80" fill="#555575"/>
<rect x="852.36" y="253.67" width="7.14" height="5.80" fill="#3e3e56"/>
<rect x="859.45" y="253.67" width="7.14" height="5.80" fill="#272735"/>
<rect x="866.54" y="253.67" width="7.14" height="5.80" fill="#626782"/>
<rect x="873.63" y="253.67" width="7.14" height="5.80" fill="#50506f"/>
<rect x="880.72" y="253.67" width="7.14" height="5.80" fill="#626882"/>
<rect x="887.81" y="253.67" width="7.14" height="5.80" fill="#646a84"/>
<rect x="894.90" y="253.67" width="7.14" height="5.80" fill="#45455f"/>
<rect x="901.99" y="253.67" width="7.14" height="5.80" fill="#5d607d"/>
<rect x="909.08" y="253.67" width="7.14" height="5.80" fill="#7e8e9d"/>
<rect x="916.17" y="253.67" width="7.14" height="5.80" fill="#404059"/>
<rect x="923.26" y="253.67" width="7.14" height="5.80" fill="#5a5c7a"/>
<rect x="930.35" y="253.67" width="7.14" height="5.80" fill="#3a3a50"/>
<rect x="937.44" y="253.67" width="7.14" height="5.80" fill="#5c5f7c"/>
<rect x="944.53" y="253.67" width="7.14" height="5.80" fill="#38384d"/>
<rect x="951.62" y="253.67" width="7.14" height="5.80" fill="#8091a0"/>
<rect x="958.71" y="253.67" width="7.14" height="5.80" fill="#9bb6bb"/>
<rect x="611.30" y="259.43" width="7.14" height="5.80" fill="#5c607c"/>
<rect x="618.39" y="259.43" width="7.14" height="5.80" fill="#7a8899"/>
<rect x="625.48" y="259.43" width="7.14" height="5.80" fill="#768496"/>
<rect x="632.57" y="259.43" width="7.14" height="5.80" fill="#8394a2"/>
<rect x="639.66" y="259.43" width="7.14" height="5.80" fill="#91a9b1"/>
<rect x="646.75" y="259.43" width="7.14" height="5.80" fill="#3e3e56"/>
<rect x="653.84" y="259.43" width="7.14" height="5.80" fill="#6e788e"/>
<rect x="660.93" y="259.43" width="7.14" height="5.80" fill="#41415a"/>
<rect x="668.02" y="259.43" width="7.14" height="5.80" fill="#262634"/>
<rect x="675.11" y="259.43" width="7.14" height="5.80" fill="#484864"/>
<rect x="682.20" y="259.43" width="7.14" height="5.80" fill="#2f2f41"/>
<rect x="689.29" y="259.43" width="7.14" height="5.80" fill="#45455f"/>
<rect x="696.38" y="259.43" width="7.14" height="5.80" fill="#414159"/>
<rect x="703.47" y="259.43" width="7.14" height="5.80" fill="#39394f"/>
<rect x="710.56" y="259.43" width="7.14" height="5.80" fill="#717c91"/>
<rect x="717.65" y="259.43" width="7.14" height="5.80" fill="#575877"/>
<rect x="724.74" y="259.43" width="7.14" height="5.80" fill="#303042"/>
<rect x="731.83" y="259.43" width="7.14" height="5.80" fill="#575977"/>
<rect x="738.92" y="259.43" width="7.14" height="5.80" fill="#6f798f"/>
<rect x="746.01" y="259.43" width="7.14" height="5.80" fill="#494965"/>
<rect x="753.10" y="259.43" width="7.14" height="5.80" fill="#535373"/>
<rect x="760.19" y="259.43" width="7.14" height="5.80" fill="#50506f"/>
<rect x="767.28" y="259.43" width="7.14" height="5.80" fill="#515170"/>
<rect x="774.37" y="259.43" width="7.14" height="5.80" fill="#727d92"/>
<rect x="781.46" y="259.43" width="7.14" height="5.80" fill="#4e4e6c"/>
<rect x="788.55" y="259.43" width="7.14" height="5.80" fill="#43435c"/>
<rect x="795.64" y="259.43" width="7.14" height="5.80" fill="#8ca1ab"/>
<rect x="802.73" y="259.43" width="7.14" height="5.80" fill="#6a728a"/>
<rect x="809.82" y="259.43" width="7.14" height="5.80" fill="#5c5f7c"/>
<rect x="816.91" y="259.43" width="7.14" height="5.80" fill="#494964"/>
<rect x="824.00" y="259.43" width="7.14" height="5.80" fill="#7d8d9d"/>
<rect x="831.09" y="259.43" width="7.14" height="5.80" fill="#676e87"/>
<rect x="838.18" y="259.43" width="7.14" height="5.80" fill="#000000"/>
<rect x="845.27" y="259.43" width="7.14" height="5.80" fill="#8091a0"/>
<rect x="852.36" y="259.43" width="7.14" height="5.80" fill="#94adb4"/>
<rect x="859.45" y="259.43" width="7.14" height="5.80" fill="#262634"/>
<rect x="866.54" y="259.43" width="7.14" height="5.80" fill="#262634"/>
<rect x="873.63" y="259.43" width="7.14" height="5.80" fill="#4c4c6a"/>
<rect x="880.72" y="259.43" width="7.14" height="5.80" fill="#4a4a66"/>
<rect x="887.81" y="259.43" width="7.14" height="5.80" fill="#555675"/>
<rect x="894.90" y="259.43" width="7.14" height="5.80" fill="#3c3c53"/>
<rect x="901.99" y="259.43" width="7.14" height="5.80" fill="#5f647f"/>
<rect x="909.08" y="259.43" width="7.14" height="5.80" fill="#3f3f57"/>
<rect x="916.17" y="259.43" width="7.14" height="5.80" fill="#464661"/>
<rect x="923.26" y="259.43" width="7.14" height="5.80" fill="#3f3f56"/>
<rect x="930.35" y="259.43" width="7.14" height="5.80" fill="#4b4b67"/>
<rect x="937.44" y="259.43" width="7.14" height="5.80" fill="#2c2c3c"/>
<rect x="944.53" y="259.43" width="7.14" height="5.80" fill="#545474"/>
<rect x="951.62" y="259.43" width="7.14" height="5.80" fill="#7f909f"/>
<rect x="958.71" y="259.43" width="7.14" height="5.80" fill="#50506f"/>
<rect x="611.30" y="265.18" width="7.14" height="5.80" fill="#626782"/>
<rect x="618.39" y="265.18" width="7.14" height="5.80" fill="#8293a1"/>
<rect x="625.48" y="265.18" width="7.14" height="5.80" fill="#4a4a66"/>
<rect x="632.57" y="265.18" width="7.14" height="5.80" fill="#727e92"/>
<rect x="639.66" y="265.18" width="7.14" height="5.80" fill="#98b3b8"/>
<rect x="646.75" y="265.18" width="7.14" height="5.80" fill="#575877"/>
<rect x="653.84" y="265.18" width="7.14" height="5.80" fill="#525271"/>
<rect x="660.93" y="265.18" width="7.14" height="5.80" fill="#4b4b67"/>
<rect x="668.02" y="265.18" width="7.14" height="5.80" fill="#313144"/>
<rect x="675.11" y="265.18" width="7.14" height="5.80" fill="#3d3d54"/>
<rect x="682.20" y="265.18" width="7.14" height="5.80" fill="#464661"/>
<rect x="689.29" y="265.18" width="7.14" height="5.80" fill="#4e4e6c"/>
<rect x="696.38" y="265.18" width="7.14" height="5.80" fill="#5b5e7b"/>
<rect x="703.47" y="265.18" width="7.14" height="5.80" fill="#575877"/>
<rect x="710.56" y="265.18" width="7.14" height="5.80" fill="#879ba7"/>
<rect x="717.65" y="265.18" width="7.14" height="5.80" fill="#4f4f6d"/>
<rect x="724.74" y="265.18" width="7.14" height="5.80" fill="#5f637f"/>
<rect x="731.83" y="265.18" width="7.14" height="5.80" fill="#2e2e40"/>
<rect x="738.92" y="265.18" width="7.14" height="5.80" fill="#6e788e"/>
<rect x="746.01" y="265.18" width="7.14" height="5.80" fill="#515170"/>
<rect x="753.10" y="265.18" width="7.14" height="5.80" fill="#4e4e6b"/>
<rect x="760.19" y="265.18" width="7.14" height="5.80" fill="#595c79"/>
<rect x="767.28" y="265.18" width="7.14" height="5.80" fill="#555675"/>
<rect x="774.37" y="265.18" width="7.14" height="5.80" fill="#525272"/>
<rect x="781.46" y="265.18" width="7.14" height="5.80" fill="#7f909f"/>
<rect x="788.55" y="265.18" width="7.14" height="5.80" fill="#323245"/>
<rect x="795.64" y="265.18" width="7.14" height="5.80" fill="#474762"/>
<rect x="802.73" y="265.18" width="7.14" height="5.80" fill="#626882"/>
<rect x="809.82" y="265.18" width="7.14" height="5.80" fill="#778497"/>
<rect x="816.91" y="265.18" width="7.14" height="5.80" fill="#697189"/>
<rect x="824.00" y="265.18" width="7.14" height="5.80" fill="#8a9faa"/>
<rect x="831.09" y="265.18" width="7.14" height="5.80" fill="#555575"/>
<rect x="838.18" y="265.18" width="7.14" height="5.80" fill="#8091a0"/>
<rect x="845.27" y="265.18" width="7.14" height="5.80" fill="#000000"/>
<rect x="852.36" y="265.18" width="7.14" height="5.80" fill="#788698"/>
<rect x="859.45" y="265.18" width="7.14" height="5.80" fill="#727e92"/>
<rect x="866.54" y="265.18" width="7.14" height="5.80" fill="#44445e"/>
<rect x="873.63" y="265.18" width="7.14" height="5.80" fill="#333347"/>
<rect x="880.72" y="265.18" width="7.14" height="5.80" fill="#3b3b52"/>
<rect x="887.81" y="265.18" width="7.14" height="5.80" fill="#4a4a66"/>
<rect x="894.90" y="265.18" width="7.14" height="5.80" fill="#3b3b52"/>
<rect x="901.99" y="265.18" width="7.14" height="5.80" fill="#2c2c3c"/>
<rect x="909.08" y="265.18" width="7.14" height="5.80" fill="#686f88"/>
<rect x="916.17" y="265.18" width="7.14" height="5.80" fill="#262634"/>
<rect x="923.26" y="265.18" width="7.14" height="5.80" fill="#45455f"/>
<rect x="930.35" y="265.18" width="7.14" height="5.80" fill="#42425a"/>
<rect x="937.44" y="265.18" width="7.14" height="5.80" fill="#535372"/>
<rect x="944.53" y="265.18" width="7.14" height="5.80" fill="#768496"/>
<rect x="951.62" y="265.18" width="7.14" height="5.80" fill="#697189"/>
<rect x="958.71" y="265.18" width="7.14" height="5.80" fill="#262634"/>
<rect x="611.30" y="270.94" width="7.14" height="5.80" fill="#6e788e"/>
<rect x="618.39" y="270.94" width="7.14" height="5.80" fill="#5b5e7b"/>
<rect x="625.48" y="270.94" width="7.14" height="5.80" fill="#5f637f"/>
<rect x="632.57" y="270.94" width="7.14" height="5.80" fill="#768295"/>
<rect x="639.66" y="270.94" width="7.14" height="5.80" fill="#707b90"/>
<rect x="646.75" y="270.94" width="7.14" height="5.80" fill="#4d4d6b"/>
<rect x="653.84" y="270.94" width="7.14" height="5.80" fill="#7f8f9f"/>
<rect x="660.93" y="270.94" width="7.14" height="5.80" fill="#404058"/>
<rect x="668.02" y="270.94" width="7.14" height="5.80" fill="#565776"/>
<rect x="675.11" y="270.94" width="7.14" height="5.80" fill="#5c5f7c"/>
<rect x="682.20" y="270.94" width="7.14" height="5.80" fill="#565675"/>
<rect x="689.29" y="270.94" width="7.14" height="5.80" fill="#5b5d7b"/>
<rect x="696.38" y="270.94" width="7.14" height="5.80" fill="#707a90"/>
<rect x="703.47" y="270.94" width="7.14" height="5.80" fill="#5a5c7a"/>
<rect x="710.56" y="270.94" width="7.14" height="5.80" fill="#8294a2"/>
<rect x="717.65" y="270.94" width="7.14" height="5.80" fill="#262634"/>
<rect x="724.74" y="270.94" width="7.14" height="5.80" fill="#4d4d6a"/>
<rect x="731.83" y="270.94" width="7.14" height="5.80" fill="#323245"/>
<rect x="738.92" y="270.94" width="7.14" height="5.80" fill="#778597"/>
<rect x="746.01" y="270.94" width="7.14" height="5.80" fill="#38384d"/>
<rect x="753.10" y="270.94" width="7.14" height="5.80" fill="#707b90"/>
<rect x="760.19" y="270.94" width="7.14" height="5.80" fill="#606580"/>
<rect x="767.28" y="270.94" width="7.14" height="5.80" fill="#646a83"/>
<rect x="774.37" y="270.94" width="7.14" height="5.80" fill="#4f4f6d"/>
<rect x="781.46" y="270.94" width="7.14" height="5.80" fill="#788698"/>
<rect x="788.55" y="270.94" width="7.14" height="5.80" fill="#535372"/>
<rect x="795.64" y="270.94" width="7.14" height="5.80" fill="#50506f"/>
<rect x="802.73" y="270.94" width="7.14" height="5.80" fill="#595b79"/>
<rect x="809.82" y="270.94" width="7.14" height="5.80" fill="#95aeb5"/>
<rect x="816.91" y="270.94" width="7.14" height="5.80" fill="#8395a3"/>
<rect x="824.00" y="270.94" width="7.14" height="5.80" fill="#a2c0c2"/>
<rect x="831.09" y="270.94" width="7.14" height="5.80" fill="#3e3e56"/>
<rect x="838.18" y="270.94" width="7.14" height="5.80" fill="#94adb4"/>
<rect x="845.27" y="270.94" width="7.14" height="5.80" fill="#788698"/>
<rect x="852.36" y="270.94" width="7.14" height="5.80" fill="#000000"/>
<rect x="859.45" y="270.94" width="7.14" height="5.80" fill="#98b2b8"/>
<rect x="866.54" y="270.94" width="7.14" height="5.80" fill="#464660"/>
<rect x="873.63" y="270.94" width="7.14" height="5.80" fill="#676e87"/>
<rect x="880.72" y="270.94" width="7.14" height="5.80" fill="#575877"/>
<rect x="887.81" y="270.94" width="7.14" height="5.80" fill="#616681"/>
<rect x="894.90" y="270.94" width="7.14" height="5.80" fill="#4e4e6c"/>
<rect x="901.99" y="270.94" width="7.14" height="5.80" fill="#4d4d6b"/>
<rect x="909.08" y="270.94" width="7.14" height="5.80" fill="#5e627e"/>
<rect x="916.17" y="270.94" width="7.14" height="5.80" fill="#748094"/>
<rect x="923.26" y="270.94" width="7.14" height="5.80" fill="#4d4d6b"/>
<rect x="930.35" y="270.94" width="7.14" height="5.80" fill="#3c3c53"/>
<rect x="937.44" y="270.94" width="7.14" height="5.80" fill="#454560"/>
<rect x="944.53" y="270.94" width="7.14" height="5.80" fill="#555675"/>
<rect x="951.62" y="270.94" width="7.14" height="5.80" fill="#606580"/>
<rect x="958.71" y="270.94" width="7.14" height="5.80" fill="#303043"/>
<rect x="611.30" y="276.69" width="7.14" height="5.80" fill="#2c2c3d"/>
<rect x="618.39" y="276.69" width="7.14" height="5.80" fill="#2b2b3c"/>
<rect x="625.48" y="276.69" width="7.14" height="5.80" fill="#5c607c"/>
<rect x="632.57" y="276.69" width="7.14" height="5.80" fill="#262634"/>
<rect x="639.66" y="276.69" width="7.14" height="5.80" fill="#5c607c"/>
<rect x="646.75" y="276.69" width="7.14" height="5.80" fill="#50506e"/>
<rect x="653.84" y="276.69" width="7.14" height="5.80" fill="#8091a0"/>
<rect x="660.93" y="276.69" width="7.14" height="5.80" fill="#333347"/>
<rect x="668.02" y="276.69" width="7.14" height="5.80" fill="#50506e"/>
<rect x="675.11" y="276.69" width="7.14" height="5.80" fill="#3f3f57"/>
<rect x="682.20" y="276.69" width="7.14" height="5.80" fill="#484863"/>
<rect x="689.29" y="276.69" width="7.14" height="5.80" fill="#303042"/>
<rect x="696.38" y="276.69" width="7.14" height="5.80" fill="#4b4b67"/>
<rect x="703.47" y="276.69" width="7.14" height="5.80" fill="#2d2d3f"/>
<rect x="710.56" y="276.69" width="7.14" height="5.80" fill="#768396"/>
<rect x="717.65" y="276.69" width="7.14" height="5.80" fill="#36364a"/>
<rect x="724.74" y="276.69" width="7.14" height="5.80" fill="#575977"/>
<rect x="731.83" y="276.69" width="7.14" height="5.80" fill="#282837"/>
<rect x="738.92" y="276.69" width="7.14" height="5.80" fill="#6c758c"/>
<rect x="746.01" y="276.69" width="7.14" height="5.80" fill="#37374b"/>
<rect x="753.10" y="276.69" width="7.14" height="5.80" fill="#646b84"/>
<rect x="760.19" y="276.69" width="7.14" height="5.80" fill="#4c4c69"/>
<rect x="767.28" y="276.69" width="7.14" height="5.80" fill="#525271"/>
<rect x="774.37" y="276.69" width="7.14" height="5.80" fill="#5a5d7a"/>
<rect x="781.46" y="276.69" width="7.14" height="5.80" fill="#4e4e6c"/>
<rect x="788.55" y="276.69" width="7.14" height="5.80" fill="#36364b"/>
<rect x="795.64" y="276.69" width="7.14" height="5.80" fill="#262634"/>
<rect x="802.73" y="276.69" width="7.14" height="5.80" fill="#6a738a"/>
<rect x="809.82" y="276.69" width="7.14" height="5.80" fill="#697188"/>
<rect x="816.91" y="276.69" width="7.14" height="5.80" fill="#5d607d"/>
<rect x="824.00" y="276.69" width="7.14" height="5.80" fill="#8395a3"/>
<rect x="831.09" y="276.69" width="7.14" height="5.80" fill="#272735"/>
<rect x="838.18" y="276.69" width="7.14" height="5.80" fill="#262634"/>
<rect x="845.27" y="276.69" width="7.14" height="5.80" fill="#727e92"/>
<rect x="852.36" y="276.69" width="7.14" height="5.80" fill="#98b2b8"/>
<rect x="859.45" y="276.69" width="7.14" height="5.80" fill="#000000"/>
<rect x="866.54" y="276.69" width="7.14" height="5.80" fill="#464661"/>
<rect x="873.63" y="276.69" width="7.14" height="5.80" fill="#50506e"/>
<rect x="880.72" y="276.69" width="7.14" height="5.80" fill="#2c2c3d"/>
<rect x="887.81" y="276.69" width="7.14" height="5.80" fill="#343448"/>
<rect x="894.90" y="276.69" width="7.14" height="5.80" fill="#5c5f7c"/>
<rect x="901.99" y="276.69" width="7.14" height="5.80" fill="#5f637f"/>
<rect x="909.08" y="276.69" width="7.14" height="5.80" fill="#626882"/>
<rect x="916.17" y="276.69" width="7.14" height="5.80" fill="#37374c"/>
<rect x="923.26" y="276.69" width="7.14" height="5.80" fill="#494965"/>
<rect x="930.35" y="276.69" width="7.14" height="5.80" fill="#2f2f41"/>
<rect x="937.44" y="276.69" width="7.14" height="5.80" fill="#303042"/>
<rect x="944.53" y="276.69" width="7.14" height="5.80" fill="#262634"/>
<rect x="951.62" y="276.69" width="7.14" height="5.80" fill="#292939"/>
<rect x="958.71" y="276.69" width="7.14" height="5.80" fill="#262634"/>
<rect x="611.30" y="282.44" width="7.14" height="5.80" fill="#5d617d"/>
<rect x="618.39" y="282.44" width="7.14" height="5.80" fill="#525272"/>
<rect x="625.48" y="282.44" width="7.14" height="5.80" fill="#899ea9"/>
<rect x="632.57" y="282.44" width="7.14" height="5.80" fill="#474763"/>
<rect x="639.66" y="282.44" width="7.14" height="5.80" fill="#7f909f"/>
<rect x="646.75" y="282.44" width="7.14" height="5.80" fill="#43435c"/>
<rect x="653.84" y="282.44" width="7.14" height="5.80" fill="#5f647f"/>
<rect x="660.93" y="282.44" width="7.14" height="5.80" fill="#6a728a"/>
<rect x="668.02" y="282.44" width="7.14" height="5.80" fill="#889ca8"/>
<rect x="675.11" y="282.44" width="7.14" height="5.80" fill="#606580"/>
<rect x="682.20" y="282.44" width="7.14" height="5.80" fill="#41415a"/>
<rect x="689.29" y="282.44" width="7.14" height="5.80" fill="#484863"/>
<rect x="696.38" y="282.44" width="7.14" height="5.80" fill="#272736"/>
<rect x="703.47" y="282.44" width="7.14" height="5.80" fill="#484864"/>
<rect x="710.56" y="282.44" width="7.14" height="5.80" fill="#738093"/>
<rect x="717.65" y="282.44" width="7.14" height="5.80" fill="#262634"/>
<rect x="724.74" y="282.44" width="7.14" height="5.80" fill="#262634"/>
<rect x="731.83" y="282.44" width="7.14" height="5.80" fill="#3d3d55"/>
<rect x="738.92" y="282.44" width="7.14" height="5.80" fill="#6f7a8f"/>
<rect x="746.01" y="282.44" width="7.14" height="5.80" fill="#474762"/>
<rect x="753.10" y="282.44" width="7.14" height="5.80" fill="#626782"/>
<rect x="760.19" y="282.44" width="7.14" height="5.80" fill="#626782"/>
<rect x="767.28" y="282.44" width="7.14" height="5.80" fill="#343448"/>
<rect x="774.37" y="282.44" width="7.14" height="5.80" fill="#525271"/>
<rect x="781.46" y="282.44" width="7.14" height="5.80" fill="#737f93"/>
<rect x="788.55" y="282.44" width="7.14" height="5.80" fill="#5b5d7a"/>
<rect x="795.64" y="282.44" width="7.14" height="5.80" fill="#606580"/>
<rect x="802.73" y="282.44" width="7.14" height="5.80" fill="#666d86"/>
<rect x="809.82" y="282.44" width="7.14" height="5.80" fill="#262634"/>
<rect x="816.91" y="282.44" width="7.14" height="5.80" fill="#36364a"/>
<rect x="824.00" y="282.44" width="7.14" height="5.80" fill="#6c758c"/>
<rect x="831.09" y="282.44" width="7.14" height="5.80" fill="#626782"/>
<rect x="838.18" y="282.44" width="7.14" height="5.80" fill="#262634"/>
<rect x="845.27" y="282.44" width="7.14" height="5.80" fill="#44445e"/>
<rect x="852.36" y="282.44" width="7.14" height="5.80" fill="#464660"/>
<rect x="859.45" y="282.44" width="7.14" height="5.80" fill="#464661"/>
<rect x="866.54" y="282.44" width="7.14" height="5.80" fill="#000000"/>
<rect x="873.63" y="282.44" width="7.14" height="5.80" fill="#3b3b52"/>
<rect x="880.72" y="282.44" width="7.14" height="5.80" fill="#303043"/>
<rect x="887.81" y="282.44" width="7.14" height="5.80" fill="#36364b"/>
<rect x="894.90" y="282.44" width="7.14" height="5.80" fill="#575977"/>
<rect x="901.99" y="282.44" width="7.14" height="5.80" fill="#3f3f56"/>
<rect x="909.08" y="282.44" width="7.14" height="5.80" fill="#4e4e6c"/>
<rect x="916.17" y="282.44" width="7.14" height="5.80" fill="#343448"/>
<rect x="923.26" y="282.44" width="7.14" height="5.80" fill="#4f4f6d"/>
<rect x="930.35" y="282.44" width="7.14" height="5.80" fill="#404059"/>
<rect x="937.44" y="282.44" width="7.14" height="5.80" fill="#262634"/>
<rect x="944.53" y="282.44" width="7.14" height="5.80" fill="#3c3c53"/>
<rect x="951.62" y="282.44" width="7.14" height="5.80" fill="#8091a0"/>
<rect x="958.71" y="282.44" width="7.14" height="5.80" fill="#595b79"/>
<rect x="611.30" y="288.20" width="7.14" height="5.80" fill="#717c91"/>
<rect x="618.39" y="288.20" width="7.14" height="5.80" fill="#535372"/>
<rect x="625.48" y="288.20" width="7.14" height="5.80" fill="#5c5f7c"/>
<rect x="632.57" y="288.20" width="7.14" height="5.80" fill="#5e637e"/>
<rect x="639.66" y="288.20" width="7.14" height="5.80" fill="#8699a6"/>
<rect x="646.75" y="288.20" width="7.14" height="5.80" fill="#464661"/>
<rect x="653.84" y="288.20" width="7.14" height="5.80" fill="#6e788e"/>
<rect x="660.93" y="288.20" width="7.14" height="5.80" fill="#3e3e56"/>
<rect x="668.02" y="288.20" width="7.14" height="5.80" fill="#6d778d"/>
<rect x="675.11" y="288.20" width="7.14" height="5.80" fill="#7c8c9c"/>
<rect x="682.20" y="288.20" width="7.14" height="5.80" fill="#6a728a"/>
<rect x="689.29" y="288.20" width="7.14" height="5.80" fill="#7c8b9b"/>
<rect x="696.38" y="288.20" width="7.14" height="5.80" fill="#494965"/>
<rect x="703.47" y="288.20" width="7.14" height="5.80" fill="#41415a"/>
<rect x="710.56" y="288.20" width="7.14" height="5.80" fill="#414159"/>
<rect x="717.65" y="288.20" width="7.14" height="5.80" fill="#292939"/>
<rect x="724.74" y="288.20" width="7.14" height="5.80" fill="#474762"/>
<rect x="731.83" y="288.20" width="7.14" height="5.80" fill="#262634"/>
<rect x="738.92" y="288.20" width="7.14" height="5.80" fill="#43435d"/>
<rect x="746.01" y="288.20" width="7.14" height="5.80" fill="#525271"/>
<rect x="753.10" y="288.20" width="7.14" height="5.80" fill="#43435d"/>
<rect x="760.19" y="288.20" width="7.14" height="5.80" fill="#36364b"/>
<rect x="767.28" y="288.20" width="7.14" height="5.80" fill="#4f4f6e"/>
<rect x="774.37" y="288.20" width="7.14" height="5.80" fill="#262634"/>
<rect x="781.46" y="288.20" width="7.14" height="5.80" fill="#3a3a50"/>
<rect x="788.55" y="288.20" width="7.14" height="5.80" fill="#4b4b67"/>
<rect x="795.64" y="288.20" width="7.14" height="5.80" fill="#748093"/>
<rect x="802.73" y="288.20" width="7.14" height="5.80" fill="#535372"/>
<rect x="809.82" y="288.20" width="7.14" height="5.80" fill="#262634"/>
<rect x="816.91" y="288.20" width="7.14" height="5.80" fill="#262634"/>
<rect x="824.00" y="288.20" width="7.14" height="5.80" fill="#575876"/>
<rect x="831.09" y="288.20" width="7.14" height="5.80" fill="#50506f"/>
<rect x="838.18" y="288.20" width="7.14" height="5.80" fill="#4c4c6a"/>
<rect x="845.27" y="288.20" width="7.14" height="5.80" fill="#333347"/>
<rect x="852.36" y="288.20" width="7.14" height="5.80" fill="#676e87"/>
<rect x="859.45" y="288.20" width="7.14" height="5.80" fill="#50506e"/>
<rect x="866.54" y="288.20" width="7.14" height="5.80" fill="#3b3b52"/>
<rect x="873.63" y="288.20" width="7.14" height="5.80" fill="#000000"/>
<rect x="880.72" y="288.20" width="7.14" height="5.80" fill="#2b2b3c"/>
<rect x="887.81" y="288.20" width="7.14" height="5.80" fill="#3e3e56"/>
<rect x="894.90" y="288.20" width="7.14" height="5.80" fill="#788698"/>
<rect x="901.99" y="288.20" width="7.14" height="5.80" fill="#43435d"/>
<rect x="909.08" y="288.20" width="7.14" height="5.80" fill="#303042"/>
<rect x="916.17" y="288.20" width="7.14" height="5.80" fill="#44445e"/>
<rect x="923.26" y="288.20" width="7.14" height="5.80" fill="#748093"/>
<rect x="930.35" y="288.20" width="7.14" height="5.80" fill="#545473"/>
<rect x="937.44" y="288.20" width="7.14" height="5.80" fill="#4a4a66"/>
<rect x="944.53" y="288.20" width="7.14" height="5.80" fill="#5c5f7c"/>
<rect x="951.62" y="288.20" width="7.14" height="5.80" fill="#a7c7c7"/>
<rect x="958.71" y="288.20" width="7.14" height="5.80" fill="#9fbbbf"/>
<rect x="611.30" y="293.95" width="7.14" height="5.80" fill="#343448"/>
<rect x="618.39" y="293.95" width="7.14" height="5.80" fill="#38384e"/>
<rect x="625.48" y="293.95" width="7.14" height="5.80" fill="#606480"/>
<rect x="632.57" y="293.95" width="7.14" height="5.80" fill="#788698"/>
<rect x="639.66" y="293.95" width="7.14" height="5.80" fill="#768396"/>
<rect x="646.75" y="293.95" width="7.14" height="5.80" fill="#3d3d54"/>
<rect x="653.84" y="293.95" width="7.14" height="5.80" fill="#748194"/>
<rect x="660.93" y="293.95" width="7.14" height="5.80" fill="#748094"/>
<rect x="668.02" y="293.95" width="7.14" height="5.80" fill="#889ca8"/>
<rect x="675.11" y="293.95" width="7.14" height="5.80" fill="#6b748b"/>
<rect x="682.20" y="293.95" width="7.14" height="5.80" fill="#697189"/>
<rect x="689.29" y="293.95" width="7.14" height="5.80" fill="#879aa7"/>
<rect x="696.38" y="293.95" width="7.14" height="5.80" fill="#5c5e7b"/>
<rect x="703.47" y="293.95" width="7.14" height="5.80" fill="#262634"/>
<rect x="710.56" y="293.95" width="7.14" height="5.80" fill="#6f798f"/>
<rect x="717.65" y="293.95" width="7.14" height="5.80" fill="#616681"/>
<rect x="724.74" y="293.95" width="7.14" height="5.80" fill="#5a5c7a"/>
<rect x="731.83" y="293.95" width="7.14" height="5.80" fill="#707b90"/>
<rect x="738.92" y="293.95" width="7.14" height="5.80" fill="#42425b"/>
<rect x="746.01" y="293.95" width="7.14" height="5.80" fill="#4e4e6b"/>
<rect x="753.10" y="293.95" width="7.14" height="5.80" fill="#474762"/>
<rect x="760.19" y="293.95" width="7.14" height="5.80" fill="#585a78"/>
<rect x="767.28" y="293.95" width="7.14" height="5.80" fill="#2e2e40"/>
<rect x="774.37" y="293.95" width="7.14" height="5.80" fill="#2f2f41"/>
<rect x="781.46" y="293.95" width="7.14" height="5.80" fill="#323245"/>
<rect x="788.55" y="293.95" width="7.14" height="5.80" fill="#262634"/>
<rect x="795.64" y="293.95" width="7.14" height="5.80" fill="#4b4b67"/>
<rect x="802.73" y="293.95" width="7.14" height="5.80" fill="#525271"/>
<rect x="809.82" y="293.95" width="7.14" height="5.80" fill="#4d4d6a"/>
<rect x="816.91" y="293.95" width="7.14" height="5.80" fill="#313143"/>
<rect x="824.00" y="293.95" width="7.14" height="5.80" fill="#646a84"/>
<rect x="831.09" y="293.95" width="7.14" height="5.80" fill="#626882"/>
<rect x="838.18" y="293.95" width="7.14" height="5.80" fill="#4a4a66"/>
<rect x="845.27" y="293.95" width="7.14" height="5.80" fill="#3b3b52"/>
<rect x="852.36" y="293.95" width="7.14" height="5.80" fill="#575877"/>
<rect x="859.45" y="293.95" width="7.14" height="5.80" fill="#2c2c3d"/>
<rect x="866.54" y="293.95" width="7.14" height="5.80" fill="#303043"/>
<rect x="873.63" y="293.95" width="7.14" height="5.80" fill="#2b2b3c"/>
<rect x="880.72" y="293.95" width="7.14" height="5.80" fill="#000000"/>
<rect x="887.81" y="293.95" width="7.14" height="5.80" fill="#636983"/>
<rect x="894.90" y="293.95" width="7.14" height="5.80" fill="#717c91"/>
<rect x="901.99" y="293.95" width="7.14" height="5.80" fill="#5f637e"/>
<rect x="909.08" y="293.95" width="7.14" height="5.80" fill="#272735"/>
<rect x="916.17" y="293.95" width="7.14" height="5.80" fill="#50506f"/>
<rect x="923.26" y="293.95" width="7.14" height="5.80" fill="#454560"/>
<rect x="930.35" y="293.95" width="7.14" height="5.80" fill="#4b4b67"/>
<rect x="937.44" y="293.95" width="7.14" height="5.80" fill="#262634"/>
<rect x="944.53" y="293.95" width="7.14" height="5.80" fill="#2d2d3f"/>
<rect x="951.62" y="293.95" width="7.14" height="5.80" fill="#8699a6"/>
<rect x="958.71" y="293.95" width="7.14" height="5.80" fill="#96afb6"/>
<rect x="611.30" y="299.71" width="7.14" height="5.80" fill="#43435c"/>
<rect x="618.39" y="299.71" width="7.14" height="5.80" fill="#525272"/>
<rect x="625.48" y="299.71" width="7.14" height="5.80" fill="#616681"/>
<rect x="632.57" y="299.71" width="7.14" height="5.80" fill="#646a84"/>
<rect x="639.66" y="299.71" width="7.14" height="5.80" fill="#697289"/>
<rect x="646.75" y="299.71" width="7.14" height="5.80" fill="#4e4e6b"/>
<rect x="653.84" y="299.71" width="7.14" height="5.80" fill="#9bb6bb"/>
<rect x="660.93" y="299.71" width="7.14" height="5.80" fill="#41415a"/>
<rect x="668.02" y="299.71" width="7.14" height="5.80" fill="#313144"/>
<rect x="675.11" y="299.71" width="7.14" height="5.80" fill="#39394f"/>
<rect x="682.20" y="299.71" width="7.14" height="5.80" fill="#7b8a9b"/>
<rect x="689.29" y="299.71" width="7.14" height="5.80" fill="#42425c"/>
<rect x="696.38" y="299.71" width="7.14" height="5.80" fill="#636882"/>
<rect x="703.47" y="299.71" width="7.14" height="5.80" fill="#5c5f7c"/>
<rect x="710.56" y="299.71" width="7.14" height="5.80" fill="#4a4a66"/>
<rect x="717.65" y="299.71" width="7.14" height="5.80" fill="#6e788e"/>
<rect x="724.74" y="299.71" width="7.14" height="5.80" fill="#717c91"/>
<rect x="731.83" y="299.71" width="7.14" height="5.80" fill="#5a5c7a"/>
<rect x="738.92" y="299.71" width="7.14" height="5.80" fill="#6e788e"/>
<rect x="746.01" y="299.71" width="7.14" height="5.80" fill="#6e788e"/>
<rect x="753.10" y="299.71" width="7.14" height="5.80" fill="#43435d"/>
<rect x="760.19" y="299.71" width="7.14" height="5.80" fill="#5b5e7b"/>
<rect x="767.28" y="299.71" width="7.14" height="5.80" fill="#5d617d"/>
<rect x="774.37" y="299.71" width="7.14" height="5.80" fill="#313144"/>
<rect x="781.46" y="299.71" width="7.14" height="5.80" fill="#262634"/>
<rect x="788.55" y="299.71" width="7.14" height="5.80" fill="#5d607d"/>
<rect x="795.64" y="299.71" width="7.14" height="5.80" fill="#6d778d"/>
<rect x="802.73" y="299.71" width="7.14" height="5.80" fill="#42425b"/>
<rect x="809.82" y="299.71" width="7.14" height="5.80" fill="#44445e"/>
<rect x="816.91" y="299.71" width="7.14" height="5.80" fill="#626782"/>
<rect x="824.00" y="299.71" width="7.14" height="5.80" fill="#8597a4"/>
<rect x="831.09" y="299.71" width="7.14" height="5.80" fill="#646a84"/>
<rect x="838.18" y="299.71" width="7.14" height="5.80" fill="#555675"/>
<rect x="845.27" y="299.71" width="7.14" height="5.80" fill="#4a4a66"/>
<rect x="852.36" y="299.71" width="7.14" height="5.80" fill="#616681"/>
<rect x="859.45" y="299.71" width="7.14" height="5.80" fill="#343448"/>
<rect x="866.54" y="299.71" width="7.14" height="5.80" fill="#36364b"/>
<rect x="873.63" y="299.71" width="7.14" height="5.80" fill="#3e3e56"/>
<rect x="880.72" y="299.71" width="7.14" height="5.80" fill="#636983"/>
<rect x="887.81" y="299.71" width="7.14" height="5.80" fill="#000000"/>
<rect x="894.90" y="299.71" width="7.14" height="5.80" fill="#676f87"/>
<rect x="901.99" y="299.71" width="7.14" height="5.80" fill="#333346"/>
<rect x="909.08" y="299.71" width="7.14" height="5.80" fill="#7e8e9e"/>
<rect x="916.17" y="299.71" width="7.14" height="5.80" fill="#5d607d"/>
<rect x="923.26" y="299.71" width="7.14" height="5.80" fill="#585977"/>
<rect x="930.35" y="299.71" width="7.14" height="5.80" fill="#2e2e3f"/>
<rect x="937.44" y="299.71" width="7.14" height="5.80" fill="#3d3d54"/>
<rect x="944.53" y="299.71" width="7.14" height="5.80" fill="#50506f"/>
<rect x="951.62" y="299.71" width="7.14" height="5.80" fill="#6b738a"/>
<rect x="958.71" y="299.71" width="7.14" height="5.80" fill="#5e627e"/>
<rect x="611.30" y="305.46" width="7.14" height="5.80" fill="#37374c"/>
<rect x="618.39" y="305.46" width="7.14" height="5.80" fill="#545473"/>
<rect x="625.48" y="305.46" width="7.14" height="5.80" fill="#606580"/>
<rect x="632.57" y="305.46" width="7.14" height="5.80" fill="#656c85"/>
<rect x="639.66" y="305.46" width="7.14" height="5.80" fill="#7f8f9f"/>
<rect x="646.75" y="305.46" width="7.14" height="5.80" fill="#3f3f56"/>
<rect x="653.84" y="305.46" width="7.14" height="5.80" fill="#6c768c"/>
<rect x="660.93" y="305.46" width="7.14" height="5.80" fill="#6c758c"/>
<rect x="668.02" y="305.46" width="7.14" height="5.80" fill="#50506f"/>
<rect x="675.11" y="305.46" width="7.14" height="5.80" fill="#565776"/>
<rect x="682.20" y="305.46" width="7.14" height="5.80" fill="#5b5e7b"/>
<rect x="689.29" y="305.46" width="7.14" height="5.80" fill="#404058"/>
<rect x="696.38" y="305.46" width="7.14" height="5.80" fill="#3e3e56"/>
<rect x="703.47" y="305.46" width="7.14" height="5.80" fill="#262634"/>
<rect x="710.56" y="305.46" width="7.14" height="5.80" fill="#7b8a9b"/>
<rect x="717.65" y="305.46" width="7.14" height="5.80" fill="#50506e"/>
<rect x="724.74" y="305.46" width="7.14" height="5.80" fill="#697188"/>
<rect x="731.83" y="305.46" width="7.14" height="5.80" fill="#555575"/>
<rect x="738.92" y="305.46" width="7.14" height="5.80" fill="#616681"/>
<rect x="746.01" y="305.46" width="7.14" height="5.80" fill="#4e4e6c"/>
<rect x="753.10" y="305.46" width="7.14" height="5.80" fill="#555574"/>
<rect x="760.19" y="305.46" width="7.14" height="5.80" fill="#5c5f7c"/>
<rect x="767.28" y="305.46" width="7.14" height="5.80" fill="#3e3e55"/>
<rect x="774.37" y="305.46" width="7.14" height="5.80" fill="#44445e"/>
<rect x="781.46" y="305.46" width="7.14" height="5.80" fill="#262634"/>
<rect x="788.55" y="305.46" width="7.14" height="5.80" fill="#717c91"/>
<rect x="795.64" y="305.46" width="7.14" height="5.80" fill="#8a9faa"/>
<rect x="802.73" y="305.46" width="7.14" height="5.80" fill="#36364a"/>
<rect x="809.82" y="305.46" width="7.14" height="5.80" fill="#474762"/>
<rect x="816.91" y="305.46" width="7.14" height="5.80" fill="#6f798f"/>
<rect x="824.00" y="305.46" width="7.14" height="5.80" fill="#9bb6bb"/>
<rect x="831.09" y="305.46" width="7.14" height="5.80" fill="#45455f"/>
<rect x="838.18" y="305.46" width="7.14" height="5.80" fill="#3c3c53"/>
<rect x="845.27" y="305.46" width="7.14" height="5.80" fill="#3b3b52"/>
<rect x="852.36" y="305.46" width="7.14" height="5.80" fill="#4e4e6c"/>
<rect x="859.45" y="305.46" width="7.14" height="5.80" fill="#5c5f7c"/>
<rect x="866.54" y="305.46" width="7.14" height="5.80" fill="#575977"/>
<rect x="873.63" y="305.46" width="7.14" height="5.80" fill="#788698"/>
<rect x="880.72" y="305.46" width="7.14" height="5.80" fill="#717c91"/>
<rect x="887.81" y="305.46" width="7.14" height="5.80" fill="#676f87"/>
<rect x="894.90" y="305.46" width="7.14" height="5.80" fill="#000000"/>
<rect x="901.99" y="305.46" width="7.14" height="5.80" fill="#595b79"/>
<rect x="909.08" y="305.46" width="7.14" height="5.80" fill="#8ca1ac"/>
<rect x="916.17" y="305.46" width="7.14" height="5.80" fill="#5d617d"/>
<rect x="923.26" y="305.46" width="7.14" height="5.80" fill="#313143"/>
<rect x="930.35" y="305.46" width="7.14" height="5.80" fill="#5d607d"/>
<rect x="937.44" y="305.46" width="7.14" height="5.80" fill="#262634"/>
<rect x="944.53" y="305.46" width="7.14" height="5.80" fill="#494965"/>
<rect x="951.62" y="305.46" width="7.14" height="5.80" fill="#687088"/>
<rect x="958.71" y="305.46" width="7.14" height="5.80" fill="#3f3f57"/>
<rect x="611.30" y="311.21" width="7.14" height="5.80" fill="#313144"/>
<rect x="618.39" y="311.21" width="7.14" height="5.80" fill="#565776"/>
<rect x="625.48" y="311.21" width="7.14" height="5.80" fill="#7a8899"/>
<rect x="632.57" y="311.21" width="7.14" height="5.80" fill="#484864"/>
<rect x="639.66" y="311.21" width="7.14" height="5.80" fill="#8a9ea9"/>
<rect x="646.75" y="311.21" width="7.14" height="5.80" fill="#4e4e6c"/>
<rect x="653.84" y="311.21" width="7.14" height="5.80" fill="#97b0b7"/>
<rect x="660.93" y="311.21" width="7.14" height="5.80" fill="#555574"/>
<rect x="668.02" y="311.21" width="7.14" height="5.80" fill="#778597"/>
<rect x="675.11" y="311.21" width="7.14" height="5.80" fill="#8395a3"/>
<rect x="682.20" y="311.21" width="7.14" height="5.80" fill="#8193a1"/>
<rect x="689.29" y="311.21" width="7.14" height="5.80" fill="#474762"/>
<rect x="696.38" y="311.21" width="7.14" height="5.80" fill="#262634"/>
<rect x="703.47" y="311.21" width="7.14" height="5.80" fill="#626882"/>
<rect x="710.56" y="311.21" width="7.14" height="5.80" fill="#7d8c9c"/>
<rect x="717.65" y="311.21" width="7.14" height="5.80" fill="#7e8e9e"/>
<rect x="724.74" y="311.21" width="7.14" height="5.80" fill="#36364b"/>
<rect x="731.83" y="311.21" width="7.14" height="5.80" fill="#3b3b52"/>
<rect x="738.92" y="311.21" width="7.14" height="5.80" fill="#95adb5"/>
<rect x="746.01" y="311.21" width="7.14" height="5.80" fill="#404058"/>
<rect x="753.10" y="311.21" width="7.14" height="5.80" fill="#4e4e6b"/>
<rect x="760.19" y="311.21" width="7.14" height="5.80" fill="#494964"/>
<rect x="767.28" y="311.21" width="7.14" height="5.80" fill="#697189"/>
<rect x="774.37" y="311.21" width="7.14" height="5.80" fill="#262634"/>
<rect x="781.46" y="311.21" width="7.14" height="5.80" fill="#4c4c69"/>
<rect x="788.55" y="311.21" width="7.14" height="5.80" fill="#565776"/>
<rect x="795.64" y="311.21" width="7.14" height="5.80" fill="#91a8b1"/>
<rect x="802.73" y="311.21" width="7.14" height="5.80" fill="#6e788e"/>
<rect x="809.82" y="311.21" width="7.14" height="5.80" fill="#8497a4"/>
<rect x="816.91" y="311.21" width="7.14" height="5.80" fill="#778597"/>
<rect x="824.00" y="311.21" width="7.14" height="5.80" fill="#96afb6"/>
<rect x="831.09" y="311.21" width="7.14" height="5.80" fill="#5d607d"/>
<rect x="838.18" y="311.21" width="7.14" height="5.80" fill="#5f647f"/>
<rect x="845.27" y="311.21" width="7.14" height="5.80" fill="#2c2c3c"/>
<rect x="852.36" y="311.21" width="7.14" height="5.80" fill="#4d4d6b"/>
<rect x="859.45" y="311.21" width="7.14" height="5.80" fill="#5f637f"/>
<rect x="866.54" y="311.21" width="7.14" height="5.80" fill="#3f3f56"/>
<rect x="873.63" y="311.21" width="7.14" height="5.80" fill="#43435d"/>
<rect x="880.72" y="311.21" width="7.14" height="5.80" fill="#5f637e"/>
<rect x="887.81" y="311.21" width="7.14" height="5.80" fill="#333346"/>
<rect x="894.90" y="311.21" width="7.14" height="5.80" fill="#595b79"/>
<rect x="901.99" y="311.21" width="7.14" height="5.80" fill="#000000"/>
<rect x="909.08" y="311.21" width="7.14" height="5.80" fill="#333346"/>
<rect x="916.17" y="311.21" width="7.14" height="5.80" fill="#42425b"/>
<rect x="923.26" y="311.21" width="7.14" height="5.80" fill="#788698"/>
<rect x="930.35" y="311.21" width="7.14" height="5.80" fill="#515170"/>
<rect x="937.44" y="311.21" width="7.14" height="5.80" fill="#262634"/>
<rect x="944.53" y="311.21" width="7.14" height="5.80" fill="#4c4c69"/>
<rect x="951.62" y="311.21" width="7.14" height="5.80" fill="#5b5e7b"/>
<rect x="958.71" y="311.21" width="7.14" height="5.80" fill="#343448"/>
<rect x="611.30" y="316.97" width="7.14" height="5.80" fill="#585978"/>
<rect x="618.39" y="316.97" width="7.14" height="5.80" fill="#626782"/>
<rect x="625.48" y="316.97" width="7.14" height="5.80" fill="#666d86"/>
<rect x="632.57" y="316.97" width="7.14" height="5.80" fill="#4e4e6c"/>
<rect x="639.66" y="316.97" width="7.14" height="5.80" fill="#90a6af"/>
<rect x="646.75" y="316.97" width="7.14" height="5.80" fill="#636983"/>
<rect x="653.84" y="316.97" width="7.14" height="5.80" fill="#9cb8bc"/>
<rect x="660.93" y="316.97" width="7.14" height="5.80" fill="#666c85"/>
<rect x="668.02" y="316.97" width="7.14" height="5.80" fill="#7d8d9d"/>
<rect x="675.11" y="316.97" width="7.14" height="5.80" fill="#8497a4"/>
<rect x="682.20" y="316.97" width="7.14" height="5.80" fill="#7d8d9d"/>
<rect x="689.29" y="316.97" width="7.14" height="5.80" fill="#5a5c7a"/>
<rect x="696.38" y="316.97" width="7.14" height="5.80" fill="#565776"/>
<rect x="703.47" y="316.97" width="7.14" height="5.80" fill="#687088"/>
<rect x="710.56" y="316.97" width="7.14" height="5.80" fill="#a7c7c7"/>
<rect x="717.65" y="316.97" width="7.14" height="5.80" fill="#788698"/>
<rect x="724.74" y="316.97" width="7.14" height="5.80" fill="#36364b"/>
<rect x="731.83" y="316.97" width="7.14" height="5.80" fill="#2b2b3b"/>
<rect x="738.92" y="316.97" width="7.14" height="5.80" fill="#676e87"/>
<rect x="746.01" y="316.97" width="7.14" height="5.80" fill="#636983"/>
<rect x="753.10" y="316.97" width="7.14" height="5.80" fill="#7e8e9e"/>
<rect x="760.19" y="316.97" width="7.14" height="5.80" fill="#7e8e9e"/>
<rect x="767.28" y="316.97" width="7.14" height="5.80" fill="#636983"/>
<rect x="774.37" y="316.97" width="7.14" height="5.80" fill="#3e3e55"/>
<rect x="781.46" y="316.97" width="7.14" height="5.80" fill="#5a5c79"/>
<rect x="788.55" y="316.97" width="7.14" height="5.80" fill="#6b748b"/>
<rect x="795.64" y="316.97" width="7.14" height="5.80" fill="#5c607c"/>
<rect x="802.73" y="316.97" width="7.14" height="5.80" fill="#748194"/>
<rect x="809.82" y="316.97" width="7.14" height="5.80" fill="#8496a3"/>
<rect x="816.91" y="316.97" width="7.14" height="5.80" fill="#5e637e"/>
<rect x="824.00" y="316.97" width="7.14" height="5.80" fill="#a7c7c7"/>
<rect x="831.09" y="316.97" width="7.14" height="5.80" fill="#7e8e9d"/>
<rect x="838.18" y="316.97" width="7.14" height="5.80" fill="#3f3f57"/>
<rect x="845.27" y="316.97" width="7.14" height="5.80" fill="#686f88"/>
<rect x="852.36" y="316.97" width="7.14" height="5.80" fill="#5e627e"/>
<rect x="859.45" y="316.97" width="7.14" height="5.80" fill="#626882"/>
<rect x="866.54" y="316.97" width="7.14" height="5.80" fill="#4e4e6c"/>
<rect x="873.63" y="316.97" width="7.14" height="5.80" fill="#303042"/>
<rect x="880.72" y="316.97" width="7.14" height="5.80" fill="#272735"/>
<rect x="887.81" y="316.97" width="7.14" height="5.80" fill="#7e8e9e"/>
<rect x="894.90" y="316.97" width="7.14" height="5.80" fill="#8ca1ac"/>
<rect x="901.99" y="316.97" width="7.14" height="5.80" fill="#333346"/>
<rect x="909.08" y="316.97" width="7.14" height="5.80" fill="#000000"/>
<rect x="916.17" y="316.97" width="7.14" height="5.80" fill="#6c768c"/>
<rect x="923.26" y="316.97" width="7.14" height="5.80" fill="#616681"/>
<rect x="930.35" y="316.97" width="7.14" height="5.80" fill="#535372"/>
<rect x="937.44" y="316.97" width="7.14" height="5.80" fill="#7b8a9b"/>
<rect x="944.53" y="316.97" width="7.14" height="5.80" fill="#2c2c3d"/>
<rect x="951.62" y="316.97" width="7.14" height="5.80" fill="#8091a0"/>
<rect x="958.71" y="316.97" width="7.14" height="5.80" fill="#565776"/>
<rect x="611.30" y="322.72" width="7.14" height="5.80" fill="#646a84"/>
<rect x="618.39" y="322.72" width="7.14" height="5.80" fill="#42425c"/>
<rect x="625.48" y="322.72" width="7.14" height="5.80" fill="#686f87"/>
<rect x="632.57" y="322.72" width="7.14" height="5.80" fill="#575876"/>
<rect x="639.66" y="322.72" width="7.14" height="5.80" fill="#676f87"/>
<rect x="646.75" y="322.72" width="7.14" height="5.80" fill="#626782"/>
<rect x="653.84" y="322.72" width="7.14" height="5.80" fill="#a1bec1"/>
<rect x="660.93" y="322.72" width="7.14" height="5.80" fill="#6d768c"/>
<rect x="668.02" y="322.72" width="7.14" height="5.80" fill="#3b3b52"/>
<rect x="675.11" y="322.72" width="7.14" height="5.80" fill="#484864"/>
<rect x="682.20" y="322.72" width="7.14" height="5.80" fill="#646a83"/>
<rect x="689.29" y="322.72" width="7.14" height="5.80" fill="#7b8a9b"/>
<rect x="696.38" y="322.72" width="7.14" height="5.80" fill="#4e4e6c"/>
<rect x="703.47" y="322.72" width="7.14" height="5.80" fill="#585a78"/>
<rect x="710.56" y="322.72" width="7.14" height="5.80" fill="#4b4b67"/>
<rect x="717.65" y="322.72" width="7.14" height="5.80" fill="#5e627e"/>
<rect x="724.74" y="322.72" width="7.14" height="5.80" fill="#707b90"/>
<rect x="731.83" y="322.72" width="7.14" height="5.80" fill="#474763"/>
<rect x="738.92" y="322.72" width="7.14" height="5.80" fill="#5e627e"/>
<rect x="746.01" y="322.72" width="7.14" height="5.80" fill="#42425c"/>
<rect x="753.10" y="322.72" width="7.14" height="5.80" fill="#39394f"/>
<rect x="760.19" y="322.72" width="7.14" height="5.80" fill="#545474"/>
<rect x="767.28" y="322.72" width="7.14" height="5.80" fill="#42425b"/>
<rect x="774.37" y="322.72" width="7.14" height="5.80" fill="#262634"/>
<rect x="781.46" y="322.72" width="7.14" height="5.80" fill="#50506f"/>
<rect x="788.55" y="322.72" width="7.14" height="5.80" fill="#3f3f57"/>
<rect x="795.64" y="322.72" width="7.14" height="5.80" fill="#535373"/>
<rect x="802.73" y="322.72" width="7.14" height="5.80" fill="#8598a5"/>
<rect x="809.82" y="322.72" width="7.14" height="5.80" fill="#3c3c52"/>
<rect x="816.91" y="322.72" width="7.14" height="5.80" fill="#323245"/>
<rect x="824.00" y="322.72" width="7.14" height="5.80" fill="#7d8d9d"/>
<rect x="831.09" y="322.72" width="7.14" height="5.80" fill="#404059"/>
<rect x="838.18" y="322.72" width="7.14" height="5.80" fill="#464661"/>
<rect x="845.27" y="322.72" width="7.14" height="5.80" fill="#262634"/>
<rect x="852.36" y="322.72" width="7.14" height="5.80" fill="#748094"/>
<rect x="859.45" y="322.72" width="7.14" height="5.80" fill="#37374c"/>
<rect x="866.54" y="322.72" width="7.14" height="5.80" fill="#343448"/>
<rect x="873.63" y="322.72" width="7.14" height="5.80" fill="#44445e"/>
<rect x="880.72" y="322.72" width="7.14" height="5.80" fill="#50506f"/>
<rect x="887.81" y="322.72" width="7.14" height="5.80" fill="#5d607d"/>
<rect x="894.90" y="322.72" width="7.14" height="5.80" fill="#5d617d"/>
<rect x="901.99" y="322.72" width="7.14" height="5.80" fill="#42425b"/>
<rect x="909.08" y="322.72" width="7.14" height="5.80" fill="#6c768c"/>
<rect x="916.17" y="322.72" width="7.14" height="5.80" fill="#000000"/>
<rect x="923.26" y="322.72" width="7.14" height="5.80" fill="#555675"/>
<rect x="930.35" y="322.72" width="7.14" height="5.80" fill="#515170"/>
<rect x="937.44" y="322.72" width="7.14" height="5.80" fill="#464661"/>
<rect x="944.53" y="322.72" width="7.14" height="5.80" fill="#41415a"/>
<rect x="951.62" y="322.72" width="7.14" height="5.80" fill="#778597"/>
<rect x="958.71" y="322.72" width="7.14" height="5.80" fill="#737f93"/>
<rect x="611.30" y="328.48" width="7.14" height="5.80" fill="#535372"/>
<rect x="618.39" y="328.48" width="7.14" height="5.80" fill="#727e92"/>
<rect x="625.48" y="328.48" width="7.14" height="5.80" fill="#515170"/>
<rect x="632.57" y="328.48" width="7.14" height="5.80" fill="#585a78"/>
<rect x="639.66" y="328.48" width="7.14" height="5.80" fill="#737f93"/>
<rect x="646.75" y="328.48" width="7.14" height="5.80" fill="#4a4a66"/>
<rect x="653.84" y="328.48" width="7.14" height="5.80" fill="#9fbcbf"/>
<rect x="660.93" y="328.48" width="7.14" height="5.80" fill="#727e92"/>
<rect x="668.02" y="328.48" width="7.14" height="5.80" fill="#535373"/>
<rect x="675.11" y="328.48" width="7.14" height="5.80" fill="#2f2f41"/>
<rect x="682.20" y="328.48" width="7.14" height="5.80" fill="#5a5c7a"/>
<rect x="689.29" y="328.48" width="7.14" height="5.80" fill="#6b748b"/>
<rect x="696.38" y="328.48" width="7.14" height="5.80" fill="#37374c"/>
<rect x="703.47" y="328.48" width="7.14" height="5.80" fill="#404058"/>
<rect x="710.56" y="328.48" width="7.14" height="5.80" fill="#778597"/>
<rect x="717.65" y="328.48" width="7.14" height="5.80" fill="#6d778d"/>
<rect x="724.74" y="328.48" width="7.14" height="5.80" fill="#6b748b"/>
<rect x="731.83" y="328.48" width="7.14" height="5.80" fill="#36364a"/>
<rect x="738.92" y="328.48" width="7.14" height="5.80" fill="#748093"/>
<rect x="746.01" y="328.48" width="7.14" height="5.80" fill="#7a899a"/>
<rect x="753.10" y="328.48" width="7.14" height="5.80" fill="#585978"/>
<rect x="760.19" y="328.48" width="7.14" height="5.80" fill="#656c85"/>
<rect x="767.28" y="328.48" width="7.14" height="5.80" fill="#292939"/>
<rect x="774.37" y="328.48" width="7.14" height="5.80" fill="#303042"/>
<rect x="781.46" y="328.48" width="7.14" height="5.80" fill="#494964"/>
<rect x="788.55" y="328.48" width="7.14" height="5.80" fill="#484864"/>
<rect x="795.64" y="328.48" width="7.14" height="5.80" fill="#575876"/>
<rect x="802.73" y="328.48" width="7.14" height="5.80" fill="#5c607c"/>
<rect x="809.82" y="328.48" width="7.14" height="5.80" fill="#565776"/>
<rect x="816.91" y="328.48" width="7.14" height="5.80" fill="#646a84"/>
<rect x="824.00" y="328.48" width="7.14" height="5.80" fill="#96b0b6"/>
<rect x="831.09" y="328.48" width="7.14" height="5.80" fill="#5a5c7a"/>
<rect x="838.18" y="328.48" width="7.14" height="5.80" fill="#3f3f56"/>
<rect x="845.27" y="328.48" width="7.14" height="5.80" fill="#45455f"/>
<rect x="852.36" y="328.48" width="7.14" height="5.80" fill="#4d4d6b"/>
<rect x="859.45" y="328.48" width="7.14" height="5.80" fill="#494965"/>
<rect x="866.54" y="328.48" width="7.14" height="5.80" fill="#4f4f6d"/>
<rect x="873.63" y="328.48" width="7.14" height="5.80" fill="#748093"/>
<rect x="880.72" y="328.48" width="7.14" height="5.80" fill="#454560"/>
<rect x="887.81" y="328.48" width="7.14" height="5.80" fill="#585977"/>
<rect x="894.90" y="328.48" width="7.14" height="5.80" fill="#313143"/>
<rect x="901.99" y="328.48" width="7.14" height="5.80" fill="#788698"/>
<rect x="909.08" y="328.48" width="7.14" height="5.80" fill="#616681"/>
<rect x="916.17" y="328.48" width="7.14" height="5.80" fill="#555675"/>
<rect x="923.26" y="328.48" width="7.14" height="5.80" fill="#000000"/>
<rect x="930.35" y="328.48" width="7.14" height="5.80" fill="#5d607d"/>
<rect x="937.44" y="328.48" width="7.14" height="5.80" fill="#5f637f"/>
<rect x="944.53" y="328.48" width="7.14" height="5.80" fill="#727d92"/>
<rect x="951.62" y="328.48" width="7.14" height="5.80" fill="#758194"/>
<rect x="958.71" y="328.48" width="7.14" height="5.80" fill="#2f2f41"/>
<rect x="611.30" y="334.23" width="7.14" height="5.80" fill="#565776"/>
<rect x="618.39" y="334.23" width="7.14" height="5.80" fill="#666d86"/>
<rect x="625.48" y="334.23" width="7.14" height="5.80" fill="#585a78"/>
<rect x="632.57" y="334.23" width="7.14" height="5.80" fill="#585a78"/>
<rect x="639.66" y="334.23" width="7.14" height="5.80" fill="#758295"/>
<rect x="646.75" y="334.23" width="7.14" height="5.80" fill="#272736"/>
<rect x="653.84" y="334.23" width="7.14" height="5.80" fill="#6f7a8f"/>
<rect x="660.93" y="334.23" width="7.14" height="5.80" fill="#8597a5"/>
<rect x="668.02" y="334.23" width="7.14" height="5.80" fill="#6a738a"/>
<rect x="675.11" y="334.23" width="7.14" height="5.80" fill="#565776"/>
<rect x="682.20" y="334.23" width="7.14" height="5.80" fill="#36364b"/>
<rect x="689.29" y="334.23" width="7.14" height="5.80" fill="#738093"/>
<rect x="696.38" y="334.23" width="7.14" height="5.80" fill="#45455f"/>
<rect x="703.47" y="334.23" width="7.14" height="5.80" fill="#282837"/>
<rect x="710.56" y="334.23" width="7.14" height="5.80" fill="#5c5f7c"/>
<rect x="717.65" y="334.23" width="7.14" height="5.80" fill="#6d768c"/>
<rect x="724.74" y="334.23" width="7.14" height="5.80" fill="#535372"/>
<rect x="731.83" y="334.23" width="7.14" height="5.80" fill="#343448"/>
<rect x="738.92" y="334.23" width="7.14" height="5.80" fill="#4b4b68"/>
<rect x="746.01" y="334.23" width="7.14" height="5.80" fill="#44445d"/>
<rect x="753.10" y="334.23" width="7.14" height="5.80" fill="#7a889a"/>
<rect x="760.19" y="334.23" width="7.14" height="5.80" fill="#6c758c"/>
<rect x="767.28" y="334.23" width="7.14" height="5.80" fill="#303042"/>
<rect x="774.37" y="334.23" width="7.14" height="5.80" fill="#41415a"/>
<rect x="781.46" y="334.23" width="7.14" height="5.80" fill="#262634"/>
<rect x="788.55" y="334.23" width="7.14" height="5.80" fill="#4c4c69"/>
<rect x="795.64" y="334.23" width="7.14" height="5.80" fill="#585978"/>
<rect x="802.73" y="334.23" width="7.14" height="5.80" fill="#3e3e56"/>
<rect x="809.82" y="334.23" width="7.14" height="5.80" fill="#686f88"/>
<rect x="816.91" y="334.23" width="7.14" height="5.80" fill="#4d4d6b"/>
<rect x="824.00" y="334.23" width="7.14" height="5.80" fill="#686f88"/>
<rect x="831.09" y="334.23" width="7.14" height="5.80" fill="#3a3a50"/>
<rect x="838.18" y="334.23" width="7.14" height="5.80" fill="#4b4b67"/>
<rect x="845.27" y="334.23" width="7.14" height="5.80" fill="#42425a"/>
<rect x="852.36" y="334.23" width="7.14" height="5.80" fill="#3c3c53"/>
<rect x="859.45" y="334.23" width="7.14" height="5.80" fill="#2f2f41"/>
<rect x="866.54" y="334.23" width="7.14" height="5.80" fill="#404059"/>
<rect x="873.63" y="334.23" width="7.14" height="5.80" fill="#545473"/>
<rect x="880.72" y="334.23" width="7.14" height="5.80" fill="#4b4b67"/>
<rect x="887.81" y="334.23" width="7.14" height="5.80" fill="#2e2e3f"/>
<rect x="894.90" y="334.23" width="7.14" height="5.80" fill="#5d607d"/>
<rect x="901.99" y="334.23" width="7.14" height="5.80" fill="#515170"/>
<rect x="909.08" y="334.23" width="7.14" height="5.80" fill="#535372"/>
<rect x="916.17" y="334.23" width="7.14" height="5.80" fill="#515170"/>
<rect x="923.26" y="334.23" width="7.14" height="5.80" fill="#5d607d"/>
<rect x="930.35" y="334.23" width="7.14" height="5.80" fill="#000000"/>
<rect x="937.44" y="334.23" width="7.14" height="5.80" fill="#494964"/>
<rect x="944.53" y="334.23" width="7.14" height="5.80" fill="#45455f"/>
<rect x="951.62" y="334.23" width="7.14" height="5.80" fill="#575877"/>
<rect x="958.71" y="334.23" width="7.14" height="5.80" fill="#38384d"/>
<rect x="611.30" y="339.98" width="7.14" height="5.80" fill="#4f4f6e"/>
<rect x="618.39" y="339.98" width="7.14" height="5.80" fill="#6b738b"/>
<rect x="625.48" y="339.98" width="7.14" height="5.80" fill="#707b90"/>
<rect x="632.57" y="339.98" width="7.14" height="5.80" fill="#8294a2"/>
<rect x="639.66" y="339.98" width="7.14" height="5.80" fill="#788698"/>
<rect x="646.75" y="339.98" width="7.14" height="5.80" fill="#262634"/>
<rect x="653.84" y="339.98" width="7.14" height="5.80" fill="#7b8a9b"/>
<rect x="660.93" y="339.98" width="7.14" height="5.80" fill="#798799"/>
<rect x="668.02" y="339.98" width="7.14" height="5.80" fill="#7e8f9e"/>
<rect x="675.11" y="339.98" width="7.14" height="5.80" fill="#646a84"/>
<rect x="682.20" y="339.98" width="7.14" height="5.80" fill="#758295"/>
<rect x="689.29" y="339.98" width="7.14" height="5.80" fill="#7c8b9c"/>
<rect x="696.38" y="339.98" width="7.14" height="5.80" fill="#4f4f6d"/>
<rect x="703.47" y="339.98" width="7.14" height="5.80" fill="#3e3e55"/>
<rect x="710.56" y="339.98" width="7.14" height="5.80" fill="#727d92"/>
<rect x="717.65" y="339.98" width="7.14" height="5.80" fill="#515170"/>
<rect x="724.74" y="339.98" width="7.14" height="5.80" fill="#676e86"/>
<rect x="731.83" y="339.98" width="7.14" height="5.80" fill="#262634"/>
<rect x="738.92" y="339.98" width="7.14" height="5.80" fill="#43435d"/>
<rect x="746.01" y="339.98" width="7.14" height="5.80" fill="#686f88"/>
<rect x="753.10" y="339.98" width="7.14" height="5.80" fill="#464661"/>
<rect x="760.19" y="339.98" width="7.14" height="5.80" fill="#3e3e56"/>
<rect x="767.28" y="339.98" width="7.14" height="5.80" fill="#5b5e7b"/>
<rect x="774.37" y="339.98" width="7.14" height="5.80" fill="#262634"/>
<rect x="781.46" y="339.98" width="7.14" height="5.80" fill="#6f798f"/>
<rect x="788.55" y="339.98" width="7.14" height="5.80" fill="#535372"/>
<rect x="795.64" y="339.98" width="7.14" height="5.80" fill="#5c5f7c"/>
<rect x="802.73" y="339.98" width="7.14" height="5.80" fill="#879ba7"/>
<rect x="809.82" y="339.98" width="7.14" height="5.80" fill="#565675"/>
<rect x="816.91" y="339.98" width="7.14" height="5.80" fill="#6b748b"/>
<rect x="824.00" y="339.98" width="7.14" height="5.80" fill="#6e798e"/>
<rect x="831.09" y="339.98" width="7.14" height="5.80" fill="#5c5f7c"/>
<rect x="838.18" y="339.98" width="7.14" height="5.80" fill="#2c2c3c"/>
<rect x="845.27" y="339.98" width="7.14" height="5.80" fill="#535372"/>
<rect x="852.36" y="339.98" width="7.14" height="5.80" fill="#454560"/>
<rect x="859.45" y="339.98" width="7.14" height="5.80" fill="#303042"/>
<rect x="866.54" y="339.98" width="7.14" height="5.80" fill="#262634"/>
<rect x="873.63" y="339.98" width="7.14" height="5.80" fill="#4a4a66"/>
<rect x="880.72" y="339.98" width="7.14" height="5.80" fill="#262634"/>
<rect x="887.81" y="339.98" width="7.14" height="5.80" fill="#3d3d54"/>
<rect x="894.90" y="339.98" width="7.14" height="5.80" fill="#262634"/>
<rect x="901.99" y="339.98" width="7.14" height="5.80" fill="#262634"/>
<rect x="909.08" y="339.98" width="7.14" height="5.80" fill="#7b8a9b"/>
<rect x="916.17" y="339.98" width="7.14" height="5.80" fill="#464661"/>
<rect x="923.26" y="339.98" width="7.14" height="5.80" fill="#5f637f"/>
<rect x="930.35" y="339.98" width="7.14" height="5.80" fill="#494964"/>
<rect x="937.44" y="339.98" width="7.14" height="5.80" fill="#000000"/>
<rect x="944.53" y="339.98" width="7.14" height="5.80" fill="#4e4e6b"/>
<rect x="951.62" y="339.98" width="7.14" height="5.80" fill="#565776"/>
<rect x="958.71" y="339.98" width="7.14" height="5.80" fill="#4a4a66"/>
<rect x="611.30" y="345.74" width="7.14" height="5.80" fill="#4a4a66"/>
<rect x="618.39" y="345.74" width="7.14" height="5.80" fill="#595b79"/>
<rect x="625.48" y="345.74" width="7.14" height="5.80" fill="#8ba0ab"/>
<rect x="632.57" y="345.74" width="7.14" height="5.80" fill="#95aeb5"/>
<rect x="639.66" y="345.74" width="7.14" height="5.80" fill="#879ba7"/>
<rect x="646.75" y="345.74" width="7.14" height="5.80" fill="#515170"/>
<rect x="653.84" y="345.74" width="7.14" height="5.80" fill="#a7c7c7"/>
<rect x="660.93" y="345.74" width="7.14" height="5.80" fill="#768396"/>
<rect x="668.02" y="345.74" width="7.14" height="5.80" fill="#4a4a66"/>
<rect x="675.11" y="345.74" width="7.14" height="5.80" fill="#282837"/>
<rect x="682.20" y="345.74" width="7.14" height="5.80" fill="#44445e"/>
<rect x="689.29" y="345.74" width="7.14" height="5.80" fill="#4e4e6c"/>
<rect x="696.38" y="345.74" width="7.14" height="5.80" fill="#6f798f"/>
<rect x="703.47" y="345.74" width="7.14" height="5.80" fill="#5a5c7a"/>
<rect x="710.56" y="345.74" width="7.14" height="5.80" fill="#889ba7"/>
<rect x="717.65" y="345.74" width="7.14" height="5.80" fill="#5a5d7a"/>
<rect x="724.74" y="345.74" width="7.14" height="5.80" fill="#3e3e55"/>
<rect x="731.83" y="345.74" width="7.14" height="5.80" fill="#353549"/>
<rect x="738.92" y="345.74" width="7.14" height="5.80" fill="#646a84"/>
<rect x="746.01" y="345.74" width="7.14" height="5.80" fill="#606580"/>
<rect x="753.10" y="345.74" width="7.14" height="5.80" fill="#535372"/>
<rect x="760.19" y="345.74" width="7.14" height="5.80" fill="#2a2a39"/>
<rect x="767.28" y="345.74" width="7.14" height="5.80" fill="#4f4f6d"/>
<rect x="774.37" y="345.74" width="7.14" height="5.80" fill="#2b2b3b"/>
<rect x="781.46" y="345.74" width="7.14" height="5.80" fill="#535373"/>
<rect x="788.55" y="345.74" width="7.14" height="5.80" fill="#768396"/>
<rect x="795.64" y="345.74" width="7.14" height="5.80" fill="#758295"/>
<rect x="802.73" y="345.74" width="7.14" height="5.80" fill="#45455f"/>
<rect x="809.82" y="345.74" width="7.14" height="5.80" fill="#697189"/>
<rect x="816.91" y="345.74" width="7.14" height="5.80" fill="#626782"/>
<rect x="824.00" y="345.74" width="7.14" height="5.80" fill="#788698"/>
<rect x="831.09" y="345.74" width="7.14" height="5.80" fill="#38384d"/>
<rect x="838.18" y="345.74" width="7.14" height="5.80" fill="#545474"/>
<rect x="845.27" y="345.74" width="7.14" height="5.80" fill="#768496"/>
<rect x="852.36" y="345.74" width="7.14" height="5.80" fill="#555675"/>
<rect x="859.45" y="345.74" width="7.14" height="5.80" fill="#262634"/>
<rect x="866.54" y="345.74" width="7.14" height="5.80" fill="#3c3c53"/>
<rect x="873.63" y="345.74" width="7.14" height="5.80" fill="#5c5f7c"/>
<rect x="880.72" y="345.74" width="7.14" height="5.80" fill="#2d2d3f"/>
<rect x="887.81" y="345.74" width="7.14" height="5.80" fill="#50506f"/>
<rect x="894.90" y="345.74" width="7.14" height="5.80" fill="#494965"/>
<rect x="901.99" y="345.74" width="7.14" height="5.80" fill="#4c4c69"/>
<rect x="909.08" y="345.74" width="7.14" height="5.80" fill="#2c2c3d"/>
<rect x="916.17" y="345.74" width="7.14" height="5.80" fill="#41415a"/>
<rect x="923.26" y="345.74" width="7.14" height="5.80" fill="#727d92"/>
<rect x="930.35" y="345.74" width="7.14" height="5.80" fill="#45455f"/>
<rect x="937.44" y="345.74" width="7.14" height="5.80" fill="#4e4e6b"/>
<rect x="944.53" y="345.74" width="7.14" height="5.80" fill="#000000"/>
<rect x="951.62" y="345.74" width="7.14" height="5.80" fill="#2b2b3b"/>
<rect x="958.71" y="345.74" width="7.14" height="5.80" fill="#474762"/>
<rect x="611.30" y="351.49" width="7.14" height="5.80" fill="#404058"/>
<rect x="618.39" y="351.49" width="7.14" height="5.80" fill="#98b2b8"/>
<rect x="625.48" y="351.49" width="7.14" height="5.80" fill="#8699a6"/>
<rect x="632.57" y="351.49" width="7.14" height="5.80" fill="#9bb6ba"/>
<rect x="639.66" y="351.49" width="7.14" height="5.80" fill="#697189"/>
<rect x="646.75" y="351.49" width="7.14" height="5.80" fill="#50506f"/>
<rect x="653.84" y="351.49" width="7.14" height="5.80" fill="#a7c7c7"/>
<rect x="660.93" y="351.49" width="7.14" height="5.80" fill="#9ebabd"/>
<rect x="668.02" y="351.49" width="7.14" height="5.80" fill="#869aa6"/>
<rect x="675.11" y="351.49" width="7.14" height="5.80" fill="#5f647f"/>
<rect x="682.20" y="351.49" width="7.14" height="5.80" fill="#535373"/>
<rect x="689.29" y="351.49" width="7.14" height="5.80" fill="#768396"/>
<rect x="696.38" y="351.49" width="7.14" height="5.80" fill="#90a7b0"/>
<rect x="703.47" y="351.49" width="7.14" height="5.80" fill="#7c8b9c"/>
<rect x="710.56" y="351.49" width="7.14" height="5.80" fill="#8598a5"/>
<rect x="717.65" y="351.49" width="7.14" height="5.80" fill="#555575"/>
<rect x="724.74" y="351.49" width="7.14" height="5.80" fill="#51516f"/>
<rect x="731.83" y="351.49" width="7.14" height="5.80" fill="#8597a4"/>
<rect x="738.92" y="351.49" width="7.14" height="5.80" fill="#899ea9"/>
<rect x="746.01" y="351.49" width="7.14" height="5.80" fill="#6b748b"/>
<rect x="753.10" y="351.49" width="7.14" height="5.80" fill="#8a9eaa"/>
<rect x="760.19" y="351.49" width="7.14" height="5.80" fill="#616681"/>
<rect x="767.28" y="351.49" width="7.14" height="5.80" fill="#44445f"/>
<rect x="774.37" y="351.49" width="7.14" height="5.80" fill="#656c85"/>
<rect x="781.46" y="351.49" width="7.14" height="5.80" fill="#869aa6"/>
<rect x="788.55" y="351.49" width="7.14" height="5.80" fill="#a7c7c7"/>
<rect x="795.64" y="351.49" width="7.14" height="5.80" fill="#94acb4"/>
<rect x="802.73" y="351.49" width="7.14" height="5.80" fill="#8496a4"/>
<rect x="809.82" y="351.49" width="7.14" height="5.80" fill="#95aeb5"/>
<rect x="816.91" y="351.49" width="7.14" height="5.80" fill="#6f7a8f"/>
<rect x="824.00" y="351.49" width="7.14" height="5.80" fill="#90a7b0"/>
<rect x="831.09" y="351.49" width="7.14" height="5.80" fill="#8091a0"/>
<rect x="838.18" y="351.49" width="7.14" height="5.80" fill="#7f909f"/>
<rect x="845.27" y="351.49" width="7.14" height="5.80" fill="#697189"/>
<rect x="852.36" y="351.49" width="7.14" height="5.80" fill="#606580"/>
<rect x="859.45" y="351.49" width="7.14" height="5.80" fill="#292939"/>
<rect x="866.54" y="351.49" width="7.14" height="5.80" fill="#8091a0"/>
<rect x="873.63" y="351.49" width="7.14" height="5.80" fill="#a7c7c7"/>
<rect x="880.72" y="351.49" width="7.14" height="5.80" fill="#8699a6"/>
<rect x="887.81" y="351.49" width="7.14" height="5.80" fill="#6b738a"/>
<rect x="894.90" y="351.49" width="7.14" height="5.80" fill="#687088"/>
<rect x="901.99" y="351.49" width="7.14" height="5.80" fill="#5b5e7b"/>
<rect x="909.08" y="351.49" width="7.14" height="5.80" fill="#8091a0"/>
<rect x="916.17" y="351.49" width="7.14" height="5.80" fill="#778597"/>
<rect x="923.26" y="351.49" width="7.14" height="5.80" fill="#758194"/>
<rect x="930.35" y="351.49" width="7.14" height="5.80" fill="#575877"/>
<rect x="937.44" y="351.49" width="7.14" height="5.80" fill="#565776"/>
<rect x="944.53" y="351.49" width="7.14" height="5.80" fill="#2b2b3b"/>
<rect x="951.62" y="351.49" width="7.14" height="5.80" fill="#000000"/>
<rect x="958.71" y="351.49" width="7.14" height="5.80" fill="#39394f"/>
<rect x="611.30" y="357.25" width="7.14" height="5.80" fill="#555575"/>
<rect x="618.39" y="357.25" width="7.14" height="5.80" fill="#565776"/>
<rect x="625.48" y="357.25" width="7.14" height="5.80" fill="#525271"/>
<rect x="632.57" y="357.25" width="7.14" height="5.80" fill="#687088"/>
<rect x="639.66" y="357.25" width="7.14" height="5.80" fill="#666d86"/>
<rect x="646.75" y="357.25" width="7.14" height="5.80" fill="#262634"/>
<rect x="653.84" y="357.25" width="7.14" height="5.80" fill="#464661"/>
<rect x="660.93" y="357.25" width="7.14" height="5.80" fill="#768396"/>
<rect x="668.02" y="357.25" width="7.14" height="5.80" fill="#8395a3"/>
<rect x="675.11" y="357.25" width="7.14" height="5.80" fill="#343448"/>
<rect x="682.20" y="357.25" width="7.14" height="5.80" fill="#303042"/>
<rect x="689.29" y="357.25" width="7.14" height="5.80" fill="#4b4b68"/>
<rect x="696.38" y="357.25" width="7.14" height="5.80" fill="#5d617d"/>
<rect x="703.47" y="357.25" width="7.14" height="5.80" fill="#646a84"/>
<rect x="710.56" y="357.25" width="7.14" height="5.80" fill="#6c768c"/>
<rect x="717.65" y="357.25" width="7.14" height="5.80" fill="#262634"/>
<rect x="724.74" y="357.25" width="7.14" height="5.80" fill="#535372"/>
<rect x="731.83" y="357.25" width="7.14" height="5.80" fill="#535373"/>
<rect x="738.92" y="357.25" width="7.14" height="5.80" fill="#646a84"/>
<rect x="746.01" y="357.25" width="7.14" height="5.80" fill="#6a7289"/>
<rect x="753.10" y="357.25" width="7.14" height="5.80" fill="#39394e"/>
<rect x="760.19" y="357.25" width="7.14" height="5.80" fill="#3e3e55"/>
<rect x="767.28" y="357.25" width="7.14" height="5.80" fill="#272735"/>
<rect x="774.37" y="357.25" width="7.14" height="5.80" fill="#50506f"/>
<rect x="781.46" y="357.25" width="7.14" height="5.80" fill="#595a78"/>
<rect x="788.55" y="357.25" width="7.14" height="5.80" fill="#545474"/>
<rect x="795.64" y="357.25" width="7.14" height="5.80" fill="#7d8d9d"/>
<rect x="802.73" y="357.25" width="7.14" height="5.80" fill="#686f87"/>
<rect x="809.82" y="357.25" width="7.14" height="5.80" fill="#8497a4"/>
<rect x="816.91" y="357.25" width="7.14" height="5.80" fill="#6d778d"/>
<rect x="824.00" y="357.25" width="7.14" height="5.80" fill="#798799"/>
<rect x="831.09" y="357.25" width="7.14" height="5.80" fill="#9bb6bb"/>
<rect x="838.18" y="357.25" width="7.14" height="5.80" fill="#50506f"/>
<rect x="845.27" y="357.25" width="7.14" height="5.80" fill="#262634"/>
<rect x="852.36" y="357.25" width="7.14" height="5.80" fill="#303043"/>
<rect x="859.45" y="357.25" width="7.14" height="5.80" fill="#262634"/>
<rect x="866.54" y="357.25" width="7.14" height="5.80" fill="#595b79"/>
<rect x="873.63" y="357.25" width="7.14" height="5.80" fill="#9fbbbf"/>
<rect x="880.72" y="357.25" width="7.14" height="5.80" fill="#96afb6"/>
<rect x="887.81" y="357.25" width="7.14" height="5.80" fill="#5e627e"/>
<rect x="894.90" y="357.25" width="7.14" height="5.80" fill="#3f3f57"/>
<rect x="901.99" y="357.25" width="7.14" height="5.80" fill="#343448"/>
<rect x="909.08" y="357.25" width="7.14" height="5.80" fill="#565776"/>
<rect x="916.17" y="357.25" width="7.14" height="5.80" fill="#737f93"/>
<rect x="923.26" y="357.25" width="7.14" height="5.80" fill="#2f2f41"/>
<rect x="930.35" y="357.25" width="7.14" height="5.80" fill="#38384d"/>
<rect x="937.44" y="357.25" width="7.14" height="5.80" fill="#4a4a66"/>
<rect x="944.53" y="357.25" width="7.14" height="5.80" fill="#474762"/>
<rect x="951.62" y="357.25" width="7.14" height="5.80" fill="#39394f"/>
<rect x="958.71" y="357.25" width="7.14" height="5.80" fill="#000000"/>
</g>
<rect x="611.30" y="75.30" width="354.50" height="287.70" fill="none" stroke="#000" stroke-width="1.0"/>
<path d="M643.20 75.30v2.5M643.20 363.00v-2.5M611.30 101.19h3M965.80 101.19h-3M678.65 75.30v2.5M678.65 363.00v-2.5M611.30 129.96h3M965.80 129.96h-3M714.10 75.30v2.5M714.10 363.00v-2.5M611.30 158.73h3M965.80 158.73h-3M749.55 75.30v2.5M749.55 363.00v-2.5M611.30 187.50h3M965.80 187.50h-3M785.00 75.30v2.5M785.00 363.00v-2.5M611.30 216.27h3M965.80 216.27h-3M820.45 75.30v2.5M820.45 363.00v-2.5M611.30 245.04h3M965.80 245.04h-3M855.90 75.30v2.5M855.90 363.00v-2.5M611.30 273.81h3M965.80 273.81h-3M891.36 75.30v2.5M891.36 363.00v-2.5M611.30 302.58h3M965.80 302.58h-3M926.80 75.30v2.5M926.80 363.00v-2.5M611.30 331.35h3M965.80 331.35h-3M962.25 75.30v2.5M962.25 363.00v-2.5M611.30 360.12h3M965.80 360.12h-3" stroke="#000" stroke-width="0.8" fill="none"/>
<rect x="595.80" y="75.30" width="12.40" height="155.36" fill="#009900" stroke="#000" stroke-width="1.0"/>
<rect x="611.30" y="366.70" width="191.43" height="11.40" fill="#009900" stroke="#000" stroke-width="1.0"/>
<rect x="595.80" y="230.66" width="12.40" height="28.77" fill="#99ff99" stroke="#000" stroke-width="1.0"/>
<rect x="802.73" y="366.70" width="35.45" height="11.40" fill="#99ff99" stroke="#000" stroke-width="1.0"/>
<rect x="595.80" y="259.43" width="12.40" height="69.05" fill="#ff0000" stroke="#000" stroke-width="1.0"/>
<rect x="838.18" y="366.70" width="85.08" height="11.40" fill="#ff0000" stroke="#000" stroke-width="1.0"/>
<rect x="595.80" y="328.48" width="12.40" height="17.26" fill="#0000ff" stroke="#000" stroke-width="1.0"/>
<rect x="923.26" y="366.70" width="21.27" height="11.40" fill="#0000ff" stroke="#000" stroke-width="1.0"/>
<rect x="595.80" y="345.74" width="12.40" height="17.26" fill="#ffff00" stroke="#000" stroke-width="1.0"/>
<rect x="944.53" y="366.70" width="21.27" height="11.40" fill="#ffff00" stroke="#000" stroke-width="1.0"/>
<text x="0.00" y="0.00" font-size="10.4" text-anchor="end" fill="#000" transform="translate(593.40 104.89) scale(1.1 1)">5</text>
<text x="0.00" y="0.00" font-size="10.4" text-anchor="middle" fill="#000" transform="translate(643.20 391.20) scale(1.06 1)">5</text>
<text x="0.00" y="0.00" font-size="10.4" text-anchor="end" fill="#000" transform="translate(593.40 133.66) scale(1.1 1)">10</text>
<text x="0.00" y="0.00" font-size="10.4" text-anchor="middle" fill="#000" transform="translate(678.65 391.20) scale(1.06 1)">10</text>
<text x="0.00" y="0.00" font-size="10.4" text-anchor="end" fill="#000" transform="translate(593.40 162.43) scale(1.1 1)">15</text>
<text x="0.00" y="0.00" font-size="10.4" text-anchor="middle" fill="#000" transform="translate(714.10 391.20) scale(1.06 1)">15</text>
<text x="0.00" y="0.00" font-size="10.4" text-anchor="end" fill="#000" transform="translate(593.40 191.20) scale(1.1 1)">20</text>
<text x="0.00" y="0.00" font-size="10.4" text-anchor="middle" fill="#000" transform="translate(749.55 391.20) scale(1.06 1)">20</text>
<text x="0.00" y="0.00" font-size="10.4" text-anchor="end" fill="#000" transform="translate(593.40 219.97) scale(1.1 1)">25</text>
<text x="0.00" y="0.00" font-size="10.4" text-anchor="middle" fill="#000" transform="translate(785.00 391.20) scale(1.06 1)">25</text>
<text x="0.00" y="0.00" font-size="10.4" text-anchor="end" fill="#000" transform="translate(593.40 248.74) scale(1.1 1)">30</text>
<text x="0.00" y="0.00" font-size="10.4" text-anchor="middle" fill="#000" transform="translate(820.45 391.20) scale(1.06 1)">30</text>
<text x="0.00" y="0.00" font-size="10.4" text-anchor="end" fill="#000" transform="translate(593.40 277.51) scale(1.1 1)">35</text>
<text x="0.00" y="0.00" font-size="10.4" text-anchor="middle" fill="#000" transform="translate(855.90 391.20) scale(1.06 1)">35</text>
<text x="0.00" y="0.00" font-size="10.4" text-anchor="end" fill="#000" transform="translate(593.40 306.28) scale(1.1 1)">40</text>
<text x="0.00" y="0.00" font-size="10.4" text-anchor="middle" fill="#000" transform="translate(891.36 391.20) scale(1.06 1)">40</text>
<text x="0.00" y="0.00" font-size="10.4" text-anchor="end" fill="#000" transform="translate(593.40 335.05) scale(1.1 1)">45</text>
<text x="0.00" y="0.00" font-size="10.4" text-anchor="middle" fill="#000" transform="translate(926.80 391.20) scale(1.06 1)">45</text>
<text x="0.00" y="0.00" font-size="10.4" text-anchor="end" fill="#000" transform="translate(593.40 363.82) scale(1.1 1)">50</text>
<text x="0.00" y="0.00" font-size="10.4" text-anchor="middle" fill="#000" transform="translate(962.25 391.20) scale(1.06 1)">50</text>
<text x="794.50" y="410.80" font-size="14.2" text-anchor="middle" fill="#000">KCs</text>
<text x="579.60" y="217.50" font-size="14.2" text-anchor="middle" fill="#000" transform="rotate(-90 579.60 217.50)">KCs</text>
<text x="0.00" y="0.00" font-size="10.7" text-anchor="middle" fill="#003000" transform="translate(605.40 156.50) rotate(-90) scale(1.05 1)" stroke="#003000" stroke-width="0.25">GFP+ L-LP</text>
<text x="0.00" y="0.00" font-size="10.7" text-anchor="middle" fill="#003000" transform="translate(703.70 376.70) scale(1.05 1)" stroke="#003000" stroke-width="0.25">GFP+ L-LP</text>
<defs><linearGradient id="bonegrad" x1="0" y1="1" x2="0" y2="0">
<stop offset="0.00" stop-color="#000000"/>
<stop offset="0.05" stop-color="#0b0b0f"/>
<stop offset="0.10" stop-color="#16161f"/>
<stop offset="0.15" stop-color="#21212e"/>
<stop offset="0.20" stop-color="#2d2d3e"/>
<stop offset="0.25" stop-color="#38384d"/>
<stop offset="0.30" stop-color="#43435c"/>
<stop offset="0.35" stop-color="#4e4e6c"/>
<stop offset="0.40" stop-color="#595b79"/>
<stop offset="0.45" stop-color="#646b84"/>
<stop offset="0.50" stop-color="#707a8f"/>
<stop offset="0.55" stop-color="#7b8a9b"/>
<stop offset="0.60" stop-color="#8699a6"/>
<stop offset="0.65" stop-color="#91a8b1"/>
<stop offset="0.70" stop-color="#9cb8bc"/>
<stop offset="0.75" stop-color="#a7c7c7"/>
<stop offset="0.80" stop-color="#b9d2d2"/>
<stop offset="0.85" stop-color="#cadede"/>
<stop offset="0.90" stop-color="#dce9e9"/>
<stop offset="0.95" stop-color="#edf4f4"/>
<stop offset="1.00" stop-color="#ffffff"/>
</linearGradient></defs>
<rect x="971.70" y="75.30" width="11.60" height="287.70" fill="url(#bonegrad)" stroke="#000" stroke-width="1.0"/>
<text x="0.00" y="0.00" font-size="14.2" text-anchor="start" fill="#000" transform="translate(988.20 363.90) scale(1.1 1)">0</text>
<text x="0.00" y="0.00" font-size="14.2" text-anchor="start" fill="#000" transform="translate(988.20 340.00) scale(1.1 1)">0.2</text>
<text x="0.00" y="0.00" font-size="14.2" text-anchor="start" fill="#000" transform="translate(988.20 310.80) scale(1.1 1)">0.4</text>
<text x="0.00" y="0.00" font-size="14.2" text-anchor="start" fill="#000" transform="translate(988.20 281.60) scale(1.1 1)">0.6</text>
<text x="0.00" y="0.00" font-size="14.2" text-anchor="start" fill="#000" transform="translate(988.20 252.40) scale(1.1 1)">0.8</text>
<text x="0.00" y="0.00" font-size="14.2" text-anchor="start" fill="#000" transform="translate(988.20 223.20) scale(1.1 1)">1</text>
<text x="0.00" y="0.00" font-size="14.2" text-anchor="start" fill="#000" transform="translate(988.20 194.00) scale(1.1 1)">1.2</text>
<text x="0.00" y="0.00" font-size="14.2" text-anchor="start" fill="#000" transform="translate(988.20 164.80) scale(1.1 1)">1.4</text>
<text x="0.00" y="0.00" font-size="14.2" text-anchor="start" fill="#000" transform="translate(988.20 135.60) scale(1.1 1)">1.6</text>
<text x="0.00" y="0.00" font-size="14.2" text-anchor="start" fill="#000" transform="translate(988.20 106.40) scale(1.1 1)">1.8</text>
<text x="0.00" y="0.00" font-size="14.2" text-anchor="start" fill="#000" transform="translate(988.20 83.50) scale(1.1 1)">2</text>
<text x="1027.30" y="69.40" font-size="11.3" text-anchor="end" fill="#000">distance (corr)</text>
<text x="581.80" y="60.30" font-size="34.3" text-anchor="start" fill="#000">C</text>
</g>
<g id="panelD">
<line x1="612.10" y1="459.70" x2="612.10" y2="675.30" stroke="#444" stroke-width="1.3"/>
<line x1="612.10" y1="674.70" x2="885.00" y2="674.70" stroke="#444" stroke-width="1.3"/>
<line x1="612.10" y1="653.20" x2="614.60" y2="653.20" stroke="#000" stroke-width="0.9"/>
<line x1="612.10" y1="631.70" x2="616.10" y2="631.70" stroke="#000" stroke-width="0.9"/>
<line x1="612.10" y1="610.20" x2="614.60" y2="610.20" stroke="#000" stroke-width="0.9"/>
<line x1="612.10" y1="588.70" x2="616.10" y2="588.70" stroke="#000" stroke-width="0.9"/>
<line x1="612.10" y1="567.20" x2="614.60" y2="567.20" stroke="#000" stroke-width="0.9"/>
<line x1="612.10" y1="545.70" x2="616.10" y2="545.70" stroke="#000" stroke-width="0.9"/>
<line x1="612.10" y1="524.20" x2="614.60" y2="524.20" stroke="#000" stroke-width="0.9"/>
<line x1="612.10" y1="502.70" x2="616.10" y2="502.70" stroke="#000" stroke-width="0.9"/>
<line x1="612.10" y1="481.20" x2="614.60" y2="481.20" stroke="#000" stroke-width="0.9"/>
<line x1="612.10" y1="459.70" x2="616.10" y2="459.70" stroke="#000" stroke-width="0.9"/>
<line x1="680.33" y1="676.70" x2="680.33" y2="673.20" stroke="#333" stroke-width="0.9"/>
<line x1="748.55" y1="676.70" x2="748.55" y2="673.20" stroke="#333" stroke-width="0.9"/>
<line x1="816.77" y1="676.70" x2="816.77" y2="673.20" stroke="#333" stroke-width="0.9"/>
<line x1="885.00" y1="676.70" x2="885.00" y2="673.20" stroke="#333" stroke-width="0.9"/>
<polyline points="612.10,674.70 625.75,673.84 639.39,670.83 653.04,656.64 666.68,640.30 680.33,629.12 693.97,619.23 707.62,618.80 721.26,617.08 734.90,622.67 748.55,637.72 762.20,651.91 775.84,653.20 789.49,660.94 803.13,666.10 816.77,670.40 830.42,672.55 844.07,674.27 857.71,674.70 871.36,674.70 885.00,674.70" fill="none" stroke="#999999" stroke-width="3.5" stroke-linejoin="round" stroke-linecap="butt"/>
<polyline points="612.10,471.31 625.75,580.10 639.39,632.56 653.04,650.62 666.68,661.80 680.33,665.24 693.97,666.53 707.62,667.39 721.26,668.25 734.90,669.54 748.55,670.40 762.20,671.69 775.84,672.12 789.49,672.98 803.13,673.84 816.77,674.27 830.42,674.70 844.07,674.70 857.71,674.70 871.36,674.70 885.00,674.70" fill="none" stroke="#6666ff" stroke-width="3.5" stroke-linejoin="round" stroke-linecap="butt"/>
<polyline points="612.10,674.70 625.75,674.27 639.39,672.55 653.04,665.24 666.68,651.05 680.33,632.99 693.97,632.99 707.62,620.95 721.26,622.24 734.90,622.24 748.55,640.30 762.20,623.96 775.84,642.88 789.49,663.52 803.13,665.24 816.77,663.52 830.42,668.68 844.07,673.84 857.71,674.70 871.36,674.70 885.00,674.70" fill="none" stroke="#009900" stroke-width="3.5" stroke-linejoin="round" stroke-linecap="butt"/>
<text x="608.00" y="638.10" font-size="13.5" text-anchor="end" fill="#000">10</text>
<text x="608.00" y="595.10" font-size="13.5" text-anchor="end" fill="#000">20</text>
<text x="608.00" y="552.10" font-size="13.5" text-anchor="end" fill="#000">30</text>
<text x="608.00" y="509.10" font-size="13.5" text-anchor="end" fill="#000">40</text>
<text x="608.00" y="466.10" font-size="13.5" text-anchor="end" fill="#000">50</text>
<text x="610.80" y="686.40" font-size="13.5" text-anchor="end" fill="#000">0</text>
<text x="747.80" y="691.00" font-size="13" text-anchor="middle" fill="#000">1</text>
<text x="882.50" y="691.00" font-size="13" text-anchor="middle" fill="#000">2</text>
<text x="749.00" y="701.00" font-size="15" text-anchor="middle" fill="#000">distance(corr)</text>
<text x="582.20" y="567.70" font-size="14.5" text-anchor="middle" fill="#000" transform="rotate(-90 582.20 567.70)">% comparisons</text>
<text x="628.00" y="547.80" font-size="15.5" text-anchor="start" fill="#6666ff">trials</text>
<text x="660.20" y="595.60" font-size="13.0" text-anchor="start" fill="#999999">GFP+ L-LP</text>
<text x="660.20" y="612.40" font-size="13.0" text-anchor="start" fill="#999999">vs. GFP-</text>
<text x="765.60" y="608.80" font-size="13.0" text-anchor="start" fill="#009900">GFP+ L-LP</text>
<text x="765.60" y="624.30" font-size="13.0" text-anchor="start" fill="#009900">vs. GFP+ L-LP</text>
<line x1="760.60" y1="459.70" x2="760.60" y2="576.30" stroke="#444" stroke-width="1.3"/>
<line x1="757.60" y1="559.80" x2="760.60" y2="559.80" stroke="#000" stroke-width="0.9"/>
<line x1="757.60" y1="543.12" x2="760.60" y2="543.12" stroke="#000" stroke-width="0.9"/>
<line x1="757.60" y1="526.44" x2="760.60" y2="526.44" stroke="#000" stroke-width="0.9"/>
<line x1="757.60" y1="509.76" x2="760.60" y2="509.76" stroke="#000" stroke-width="0.9"/>
<line x1="757.60" y1="493.08" x2="760.60" y2="493.08" stroke="#000" stroke-width="0.9"/>
<line x1="757.60" y1="476.40" x2="760.60" y2="476.40" stroke="#000" stroke-width="0.9"/>
<line x1="757.60" y1="459.72" x2="760.60" y2="459.72" stroke="#000" stroke-width="0.9"/>
<rect x="766.40" y="490.91" width="34.60" height="68.89" fill="#009900" stroke="#000" stroke-width="1.5"/>
<rect x="806.20" y="498.08" width="34.90" height="61.72" fill="#999999" stroke="#000" stroke-width="1.5"/>
<rect x="847.30" y="542.29" width="35.00" height="17.51" fill="#6666ff" stroke="#000" stroke-width="1.5"/>
<line x1="783.20" y1="466.60" x2="783.20" y2="515.60" stroke="#000" stroke-width="1.4"/>
<line x1="823.60" y1="475.10" x2="823.60" y2="520.70" stroke="#000" stroke-width="1.4"/>
<line x1="865.10" y1="518.00" x2="865.10" y2="566.00" stroke="#000" stroke-width="1.4"/>
<path d="M783.2 462.1V447.7H868.9V462.1" fill="none" stroke="#000" stroke-width="1.4"/>
<text x="827.40" y="448.60" font-size="22" text-anchor="middle" fill="#000" stroke="#000" stroke-width="0.4">*</text>
<text x="0.00" y="0.00" font-size="12.4" text-anchor="end" fill="#000" transform="translate(756.30 463.72) scale(1.05 1)">1.2</text>
<text x="0.00" y="0.00" font-size="12.4" text-anchor="end" fill="#000" transform="translate(756.30 497.08) scale(1.05 1)">0.8</text>
<text x="0.00" y="0.00" font-size="12.4" text-anchor="end" fill="#000" transform="translate(756.30 530.44) scale(1.05 1)">0.4</text>
<text x="0.00" y="0.00" font-size="12.4" text-anchor="end" fill="#000" transform="translate(751.60 563.80) scale(1.05 1)">0</text>
<text x="733.50" y="508.00" font-size="15" text-anchor="middle" fill="#000" transform="rotate(-90 733.50 508.00)">distance(corr)</text>
<text x="563.60" y="441.80" font-size="34.3" text-anchor="start" fill="#000">D</text>
</g>
<g id="panelE">
<line x1="453.30" y1="815.30" x2="453.30" y2="1093.50" stroke="#444" stroke-width="1.3"/>
<line x1="453.30" y1="1092.90" x2="1008.00" y2="1092.90" stroke="#333" stroke-width="1.3"/>
<line x1="453.40" y1="1000.65" x2="459.00" y2="1000.65" stroke="#444" stroke-width="1.2"/>
<line x1="453.40" y1="908.40" x2="459.00" y2="908.40" stroke="#444" stroke-width="1.2"/>
<line x1="453.40" y1="816.15" x2="459.00" y2="816.15" stroke="#444" stroke-width="1.2"/>
<text x="0.00" y="0.00" font-size="14.2" text-anchor="end" fill="#000" transform="translate(451.00 1097.20) scale(1.1 1)">0</text>
<text x="0.00" y="0.00" font-size="14.2" text-anchor="end" fill="#000" transform="translate(451.00 1004.95) scale(1.1 1)">0.5</text>
<text x="0.00" y="0.00" font-size="14.2" text-anchor="end" fill="#000" transform="translate(451.00 912.70) scale(1.1 1)">1</text>
<text x="0.00" y="0.00" font-size="14.2" text-anchor="end" fill="#000" transform="translate(451.00 820.45) scale(1.1 1)">1.5</text>
<text x="424.30" y="952.60" font-size="14.8" text-anchor="middle" fill="#000" transform="rotate(-90 424.30 952.60)">linkage distance</text>
<path d="M463.60 1092.90V1060.98H474.48V1092.90M469.04 1060.98V1029.62H485.36V1092.90M496.23 1092.90V1052.31H507.11V1092.90M477.20 1029.62V1012.64H501.67V1052.31M528.87 1092.90V1058.95H539.75V1092.90M517.99 1092.90V1048.07H534.31V1058.95M561.50 1092.90V1054.89H572.38V1092.90M550.62 1092.90V1040.69H566.94V1054.89M526.15 1048.07V1021.87H558.78V1040.69M583.26 1092.90V1039.39H594.14V1092.90M542.47 1021.87V1017.44H588.70V1039.39M615.89 1092.90V1054.52H626.77V1092.90M605.01 1092.90V1033.86H621.33V1054.52M613.17 1033.86V1022.42H637.65V1092.90M565.58 1017.44V1004.16H625.41V1022.42M489.44 1012.64V998.81H595.50V1004.16M542.47 998.81V980.36H648.53V1092.90M659.40 1092.90V1015.04H670.28V1092.90M664.84 1015.04V995.30H681.16V1092.90M595.50 980.36V973.53H673.00V995.30M702.92 1092.90V1050.83H713.79V1092.90M692.04 1092.90V1032.75H708.36V1050.83M724.67 1092.90V1045.67H735.55V1092.90M730.11 1045.67V1027.03H746.43V1092.90M700.20 1032.75V1010.61H738.27V1027.03M757.31 1092.90V1021.68H768.18V1092.90M762.75 1021.68V1003.42H779.06V1092.90M719.23 1010.61V978.69H770.90V1003.42M634.25 973.53V964.67H745.07V978.69M689.66 964.67V960.80H789.94V1092.90M800.82 1092.90V1020.95H811.70V1092.90M806.26 1020.95V991.61H822.57V1092.90M814.42 991.61V981.65H833.45V1092.90M739.80 960.80V946.22H823.93V981.65M844.33 1092.90V1026.11H855.21V1092.90M849.77 1026.11V990.13H866.09V1092.90M876.96 1092.90V1027.03H887.84V1092.90M857.93 990.13V980.17H882.40V1027.03M898.72 1092.90V1018.18H909.60V1092.90M931.35 1092.90V1041.79H942.23V1092.90M920.48 1092.90V994.01H936.79V1041.79M928.63 994.01V980.17H953.11V1092.90M904.16 1018.18V971.87H940.87V980.17M870.17 980.17V955.26H922.52V971.87M781.87 946.22V937.00H896.34V955.26M963.99 1092.90V986.63H974.87V1092.90M839.10 937.00V920.21H969.43V986.63M985.74 1092.90V963.01H996.62V1092.90M904.27 920.21V886.81H991.18V963.01" fill="none" stroke="#000" stroke-width="0.95"/>
<rect x="459.15" y="1095.80" width="8.90" height="9.80" fill="#009900"/>
<rect x="470.03" y="1095.80" width="8.90" height="9.80" fill="#ff0000"/>
<rect x="480.91" y="1095.80" width="8.90" height="9.80" fill="#ff0000"/>
<rect x="491.78" y="1095.80" width="8.90" height="9.80" fill="#ff0000"/>
<rect x="502.66" y="1095.80" width="8.90" height="9.80" fill="#ff0000"/>
<rect x="513.54" y="1095.80" width="8.90" height="9.80" fill="#009900"/>
<rect x="524.42" y="1095.80" width="8.90" height="9.80" fill="#99ff99"/>
<rect x="535.30" y="1095.80" width="8.90" height="9.80" fill="#0000ff"/>
<rect x="546.17" y="1095.80" width="8.90" height="9.80" fill="#99ff99"/>
<rect x="557.05" y="1095.80" width="8.90" height="9.80" fill="#ff0000"/>
<rect x="567.93" y="1095.80" width="8.90" height="9.80" fill="#ff0000"/>
<rect x="578.81" y="1095.80" width="8.90" height="9.80" fill="#0000ff"/>
<rect x="589.69" y="1095.80" width="8.90" height="9.80" fill="#0000ff"/>
<rect x="600.56" y="1095.80" width="8.90" height="9.80" fill="#009900"/>
<rect x="611.44" y="1095.80" width="8.90" height="9.80" fill="#009900"/>
<rect x="622.32" y="1095.80" width="8.90" height="9.80" fill="#009900"/>
<rect x="633.20" y="1095.80" width="8.90" height="9.80" fill="#ff0000"/>
<rect x="644.08" y="1095.80" width="8.90" height="9.80" fill="#009900"/>
<rect x="654.95" y="1095.80" width="8.90" height="9.80" fill="#009900"/>
<rect x="665.83" y="1095.80" width="8.90" height="9.80" fill="#ffff00"/>
<rect x="676.71" y="1095.80" width="8.90" height="9.80" fill="#009900"/>
<rect x="687.59" y="1095.80" width="8.90" height="9.80" fill="#009900"/>
<rect x="698.47" y="1095.80" width="8.90" height="9.80" fill="#009900"/>
<rect x="709.34" y="1095.80" width="8.90" height="9.80" fill="#ff0000"/>
<rect x="720.22" y="1095.80" width="8.90" height="9.80" fill="#009900"/>
<rect x="731.10" y="1095.80" width="8.90" height="9.80" fill="#ffff00"/>
<rect x="741.98" y="1095.80" width="8.90" height="9.80" fill="#99ff99"/>
<rect x="752.86" y="1095.80" width="8.90" height="9.80" fill="#009900"/>
<rect x="763.73" y="1095.80" width="8.90" height="9.80" fill="#009900"/>
<rect x="774.61" y="1095.80" width="8.90" height="9.80" fill="#009900"/>
<rect x="785.49" y="1095.80" width="8.90" height="9.80" fill="#ff0000"/>
<rect x="796.37" y="1095.80" width="8.90" height="9.80" fill="#009900"/>
<rect x="807.25" y="1095.80" width="8.90" height="9.80" fill="#009900"/>
<rect x="818.12" y="1095.80" width="8.90" height="9.80" fill="#ffff00"/>
<rect x="829.00" y="1095.80" width="8.90" height="9.80" fill="#009900"/>
<rect x="839.88" y="1095.80" width="8.90" height="9.80" fill="#009900"/>
<rect x="850.76" y="1095.80" width="8.90" height="9.80" fill="#009900"/>
<rect x="861.64" y="1095.80" width="8.90" height="9.80" fill="#009900"/>
<rect x="872.51" y="1095.80" width="8.90" height="9.80" fill="#009900"/>
<rect x="883.39" y="1095.80" width="8.90" height="9.80" fill="#009900"/>
<rect x="894.27" y="1095.80" width="8.90" height="9.80" fill="#009900"/>
<rect x="905.15" y="1095.80" width="8.90" height="9.80" fill="#ff0000"/>
<rect x="916.03" y="1095.80" width="8.90" height="9.80" fill="#009900"/>
<rect x="926.90" y="1095.80" width="8.90" height="9.80" fill="#009900"/>
<rect x="937.78" y="1095.80" width="8.90" height="9.80" fill="#ff0000"/>
<rect x="948.66" y="1095.80" width="8.90" height="9.80" fill="#ff0000"/>
<rect x="959.54" y="1095.80" width="8.90" height="9.80" fill="#009900"/>
<rect x="970.42" y="1095.80" width="8.90" height="9.80" fill="#99ff99"/>
<rect x="981.29" y="1095.80" width="8.90" height="9.80" fill="#009900"/>
<rect x="992.17" y="1095.80" width="8.90" height="9.80" fill="#99ff99"/>
<text x="467.50" y="1106.60" font-size="11.1" text-anchor="end" fill="#000" transform="rotate(-90 467.50 1106.60)">13</text>
<text x="521.89" y="1106.60" font-size="11.1" text-anchor="end" fill="#000" transform="rotate(-90 521.89 1106.60)">3</text>
<text x="608.91" y="1106.60" font-size="11.1" text-anchor="end" fill="#000" transform="rotate(-90 608.91 1106.60)">10</text>
<text x="619.79" y="1106.60" font-size="11.1" text-anchor="end" fill="#000" transform="rotate(-90 619.79 1106.60)">12</text>
<text x="630.67" y="1106.60" font-size="11.1" text-anchor="end" fill="#000" transform="rotate(-90 630.67 1106.60)">14</text>
<text x="652.43" y="1106.60" font-size="11.1" text-anchor="end" fill="#000" transform="rotate(-90 652.43 1106.60)">16</text>
<text x="663.30" y="1106.60" font-size="11.1" text-anchor="end" fill="#000" transform="rotate(-90 663.30 1106.60)">20</text>
<text x="685.06" y="1106.60" font-size="11.1" text-anchor="end" fill="#000" transform="rotate(-90 685.06 1106.60)">22</text>
<text x="695.94" y="1106.60" font-size="11.1" text-anchor="end" fill="#000" transform="rotate(-90 695.94 1106.60)">9</text>
<text x="706.82" y="1106.60" font-size="11.1" text-anchor="end" fill="#000" transform="rotate(-90 706.82 1106.60)">17</text>
<text x="728.57" y="1106.60" font-size="11.1" text-anchor="end" fill="#000" transform="rotate(-90 728.57 1106.60)">25</text>
<text x="761.21" y="1106.60" font-size="11.1" text-anchor="end" fill="#000" transform="rotate(-90 761.21 1106.60)">18</text>
<text x="772.08" y="1106.60" font-size="11.1" text-anchor="end" fill="#000" transform="rotate(-90 772.08 1106.60)">21</text>
<text x="782.96" y="1106.60" font-size="11.1" text-anchor="end" fill="#000" transform="rotate(-90 782.96 1106.60)">27</text>
<text x="804.72" y="1106.60" font-size="11.1" text-anchor="end" fill="#000" transform="rotate(-90 804.72 1106.60)" font-weight="bold">8</text>
<text x="815.60" y="1106.60" font-size="11.1" text-anchor="end" fill="#000" transform="rotate(-90 815.60 1106.60)">19</text>
<text x="837.35" y="1106.60" font-size="11.1" text-anchor="end" fill="#000" transform="rotate(-90 837.35 1106.60)">26</text>
<text x="848.23" y="1106.60" font-size="11.1" text-anchor="end" fill="#000" transform="rotate(-90 848.23 1106.60)">1</text>
<text x="859.11" y="1106.60" font-size="11.1" text-anchor="end" fill="#000" transform="rotate(-90 859.11 1106.60)">6</text>
<text x="869.99" y="1106.60" font-size="11.1" text-anchor="end" fill="#000" transform="rotate(-90 869.99 1106.60)">2</text>
<text x="880.86" y="1106.60" font-size="11.1" text-anchor="end" fill="#000" transform="rotate(-90 880.86 1106.60)">4</text>
<text x="891.74" y="1106.60" font-size="11.1" text-anchor="end" fill="#000" transform="rotate(-90 891.74 1106.60)">15</text>
<text x="902.62" y="1106.60" font-size="11.1" text-anchor="end" fill="#000" transform="rotate(-90 902.62 1106.60)">11</text>
<text x="924.38" y="1106.60" font-size="11.1" text-anchor="end" fill="#000" transform="rotate(-90 924.38 1106.60)">23</text>
<text x="935.25" y="1106.60" font-size="11.1" text-anchor="end" fill="#000" transform="rotate(-90 935.25 1106.60)">24</text>
<text x="967.89" y="1106.60" font-size="11.1" text-anchor="end" fill="#000" transform="rotate(-90 967.89 1106.60)">5</text>
<text x="989.64" y="1106.60" font-size="11.1" text-anchor="end" fill="#000" transform="rotate(-90 989.64 1106.60)">7</text>
<rect x="482.20" y="816.40" width="9.20" height="9.90" fill="#009900"/>
<text x="0.00" y="0.00" font-size="13.8" text-anchor="start" fill="#000" transform="translate(494.30 826.20) scale(1.07 1)">GFP+ L-LP</text>
<rect x="482.20" y="831.30" width="9.20" height="9.90" fill="#99ff99"/>
<text x="0.00" y="0.00" font-size="13.8" text-anchor="start" fill="#000" transform="translate(494.30 841.10) scale(1.07 1)">GFP+ other</text>
<rect x="482.20" y="855.30" width="9.20" height="9.90" fill="#ff0000"/>
<text transform="translate(494.3 865.10) scale(1.07 1)" font-size="13.8">GFP- <tspan font-family="Liberation Serif, serif" font-size="15.6">α/β</tspan></text>
<rect x="482.20" y="870.40" width="9.20" height="9.90" fill="#0000ff"/>
<text transform="translate(494.3 880.20) scale(1.07 1)" font-size="13.8">GFP- <tspan font-family="Liberation Serif, serif" font-size="15.6">α'/β'</tspan></text>
<rect x="482.20" y="885.30" width="9.20" height="9.90" fill="#ffff00"/>
<text transform="translate(494.3 895.10) scale(1.07 1)" font-size="13.8">GFP- <tspan font-family="Liberation Serif, serif" font-size="15.6">γ</tspan></text>
<text x="428.50" y="798.40" font-size="34.3" text-anchor="start" fill="#000">E</text>
</g>
</svg>
</body></html>
